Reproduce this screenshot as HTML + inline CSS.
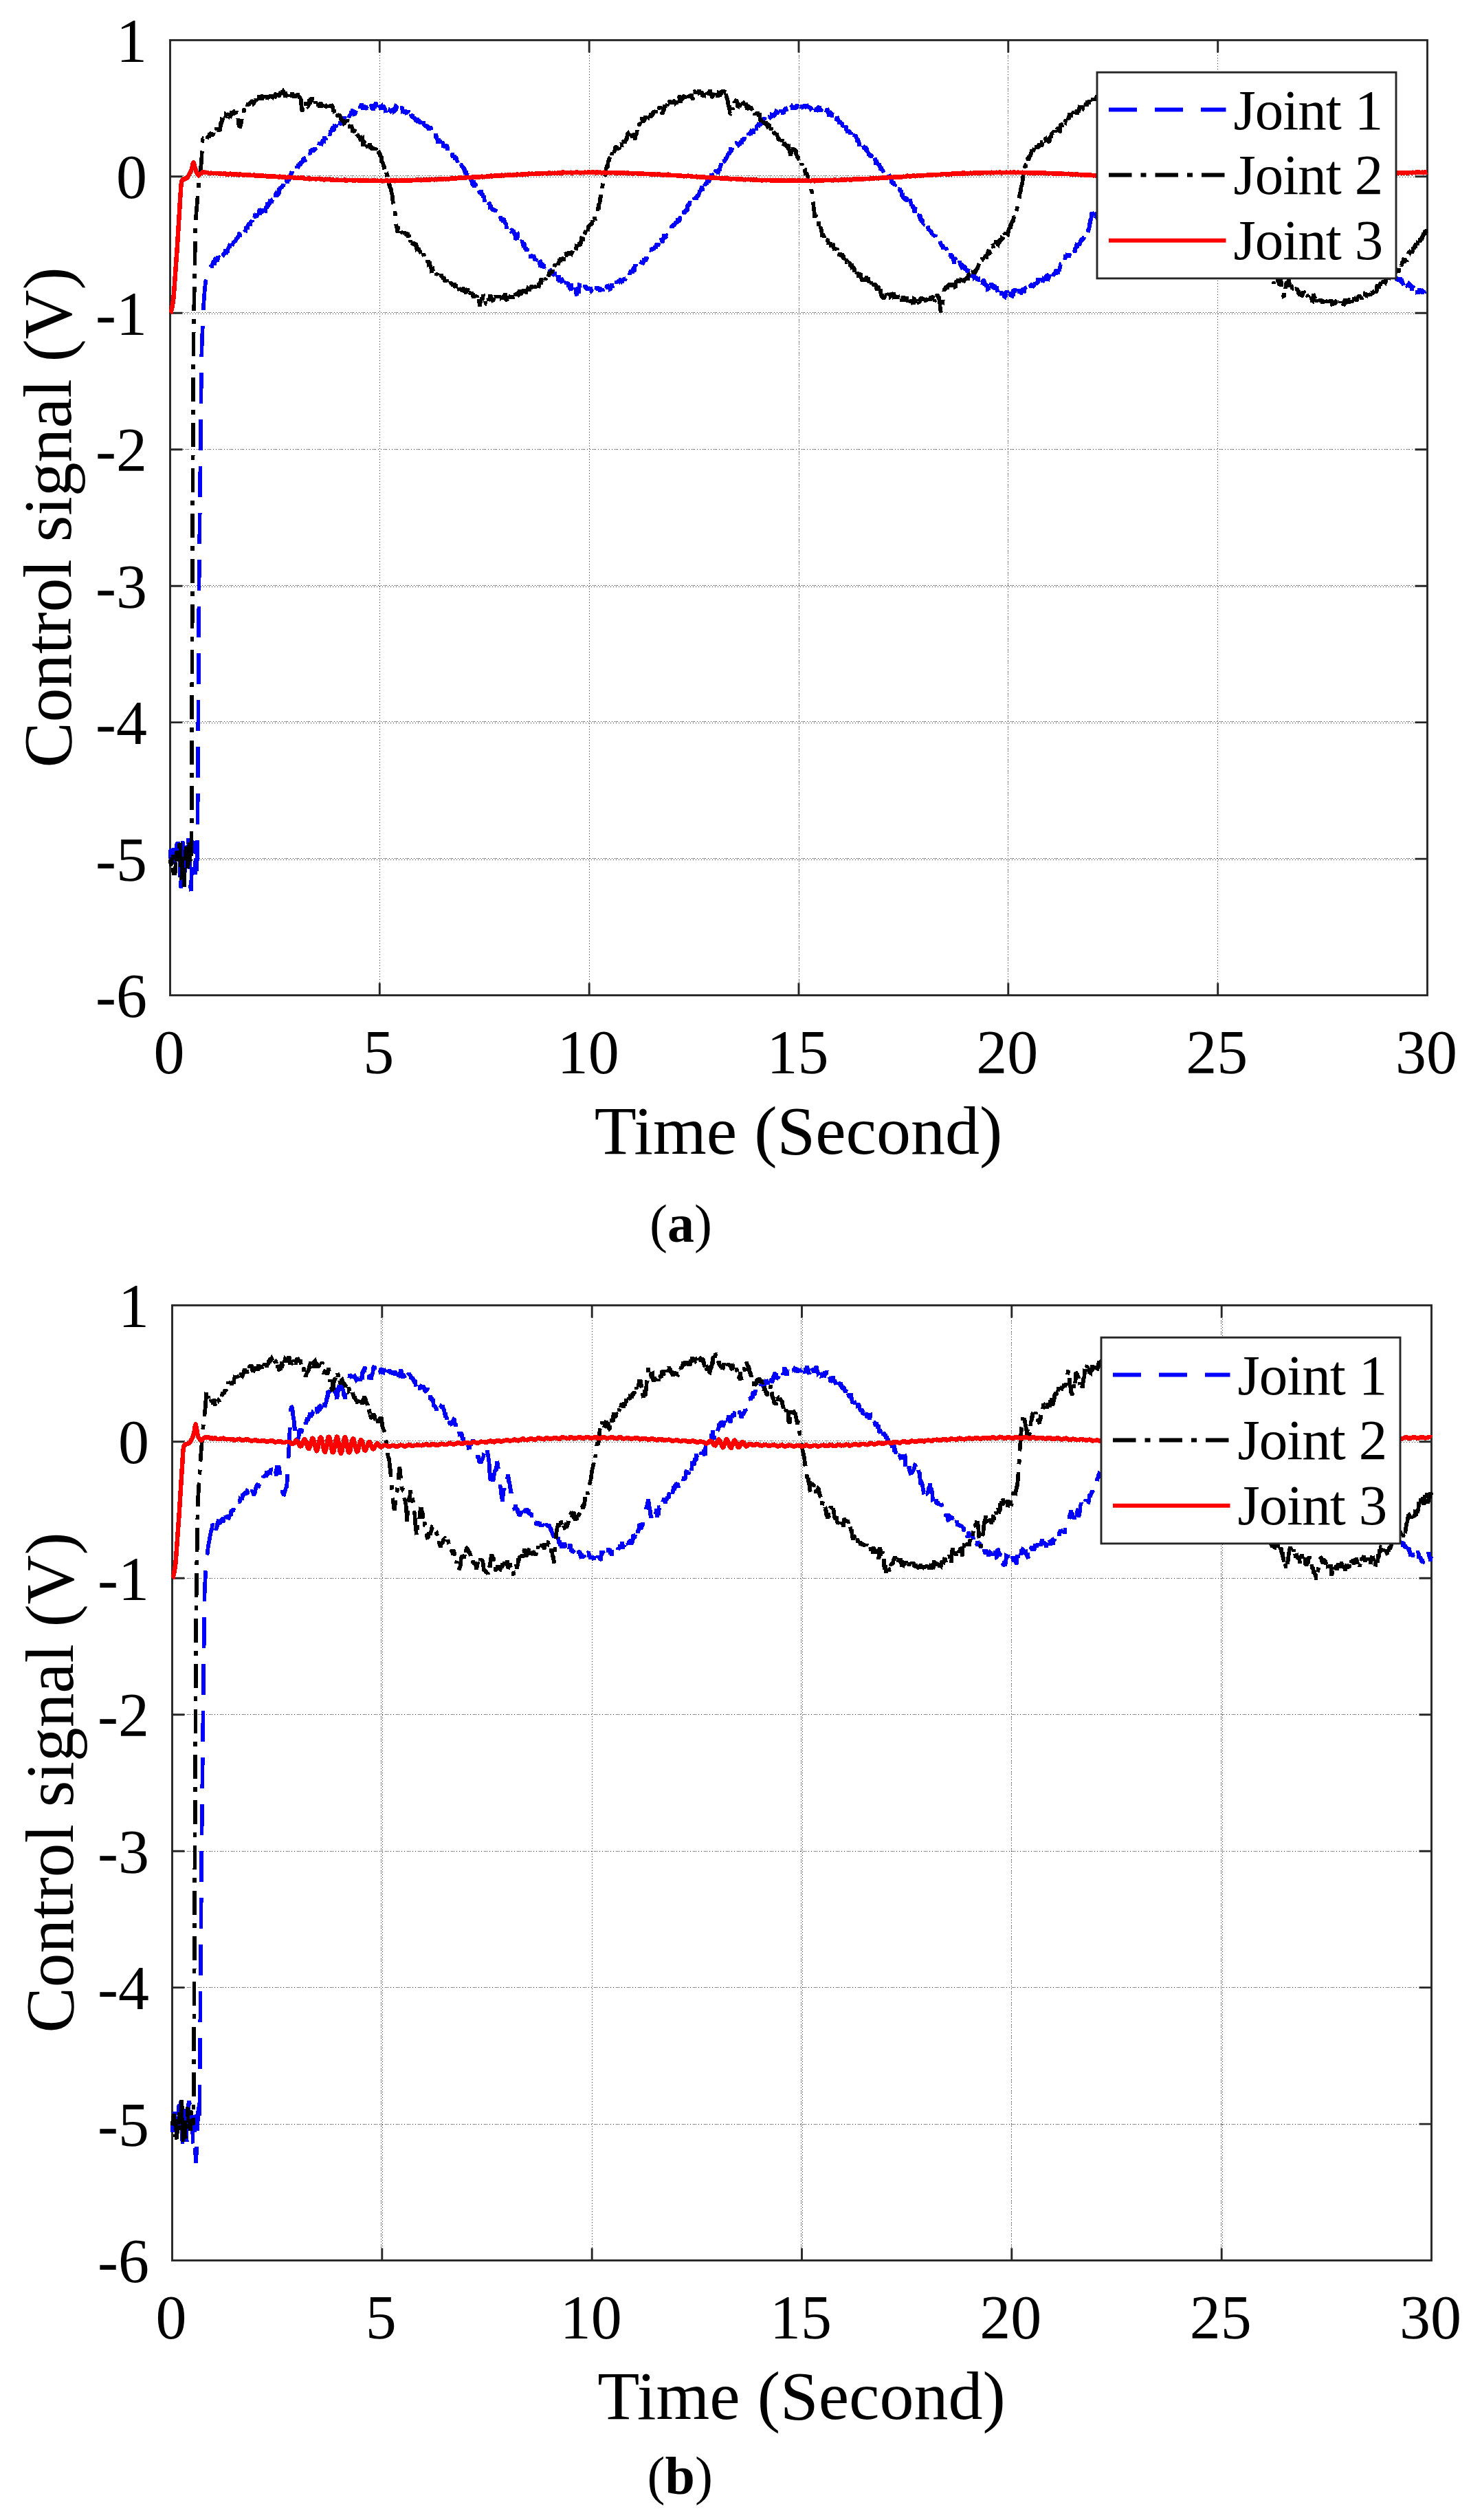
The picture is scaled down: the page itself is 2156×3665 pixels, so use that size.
<!DOCTYPE html>
<html lang="en"><head><meta charset="utf-8"><title>Control signal figure</title>
<style>html,body{margin:0;padding:0;background:#fff}body{width:2156px;height:3665px;overflow:hidden}svg{display:block}</style>
</head><body>
<svg width="2156" height="3665" viewBox="0 0 2156 3665">
<rect width="2156" height="3665" fill="#fff"/>
<g id="plot1">
<g stroke="#2e2e2e" stroke-width="1" fill="none" shape-rendering="crispEdges">
<path d="M552.5 76V1430" stroke-dasharray="1 3"/>
<path d="M857.5 76V1430" stroke-dasharray="1 3"/>
<path d="M1162.5 76V1430" stroke-dasharray="1 3 1 1 1 1 1 3 1 3"/>
<path d="M1466.5 76V1430" stroke-dasharray="1 3 1 1 1 1 1 3 1 3"/>
<path d="M1771.5 76V1430" stroke-dasharray="1 3"/>
<path d="M266 255.5H2058" stroke-dasharray="1 3 1 1 1 1 1 3 1 3"/>
<path d="M268 257.5H2058" stroke-dasharray="1 3"/>
<path d="M266 454.5H2058" stroke-dasharray="1 3 1 1 1 1 1 3 1 3"/>
<path d="M268 456.5H2058" stroke-dasharray="1 3"/>
<path d="M266 653.5H2058" stroke-dasharray="1 3 1 1 1 1 1 3 1 3"/>
<path d="M266 851.5H2058" stroke-dasharray="1 3 1 1 1 1 1 3 1 3"/>
<path d="M268 853.5H2058" stroke-dasharray="1 3"/>
<path d="M266 1049.5H2058" stroke-dasharray="1 3 1 1 1 1 1 3 1 3"/>
<path d="M268 1051.5H2058" stroke-dasharray="1 3"/>
<path d="M266 1248.5H2058" stroke-dasharray="1 3 1 1 1 1 1 3 1 3"/>
<path d="M268 1250.5H2058" stroke-dasharray="1 3"/>
</g>
<g stroke="#262626" stroke-width="2.9" fill="none">
<path d="M552.3 58.4v18M552.3 1447.5v-18M857.2 58.4v18M857.2 1447.5v-18M1162.0 58.4v18M1162.0 1447.5v-18M1466.8 58.4v18M1466.8 1447.5v-18M1771.7 58.4v18M1771.7 1447.5v-18M247.5 256.8h18M2076.5 256.8h-18M247.5 455.3h18M2076.5 455.3h-18M247.5 653.7h18M2076.5 653.7h-18M247.5 852.2h18M2076.5 852.2h-18M247.5 1050.6h18M2076.5 1050.6h-18M247.5 1249.1h18M2076.5 1249.1h-18"/>
<rect x="247.5" y="58.4" width="1829.0" height="1389.1"/>
</g>
<clipPath id="clip1"><rect x="244.5" y="58.4" width="1835.0" height="1389.1"/></clipPath>
<g clip-path="url(#clip1)" fill="none" stroke-linejoin="miter" stroke-miterlimit="2" shape-rendering="crispEdges">
<path stroke="#0000ff" stroke-width="5.7" stroke-dasharray="45 23" d="M247.5 1249.1l.5-12.7l.6 13.6l.5-16.1l.6 12.1l.5 5.6l.6 1l.5 1.8l.6-5.2l.5-16.5l.6 11.7l.5-2l.6 4.6l.5 15.1l.6-16.1l.5-3.4l.6 5.1l.5-11.4l.6-10.1l.5 .6l.6-2.1l.5 6.2l.6-13.3l.5 21.9l.6 6.7l.5-1.6l.6 13.6l.5 29.8l.6-8.9l.5 12.8l.6-26.8l.5 7.3l.6-28.1l.5-21.3l.6 11.1l.5 12.8l.6 11.2l.5 3.3l.6 8.8l.5-2.9l.5-11.1l.6-9.5l.5-9.5l.6-4.7l.5-.7l.6 .1l.5-8.9l.6-9.1l.5 1.5l.6 13.9l.5 5.4l.6 9.6l.5 24.5l.6 1.8l.5 17.9l.6 7.8l.5-13l.6-13.5l.5-11.9l.6-15.7l.5-14.6l.6-3.4l.5-1.2l.6 18.4l.5-12.2l.6 6.2l.5 36.7l.6-8.4l.5-6.3l.6-8.8l.5 21.2l.6-18.1l.5-1.4l.6-70.6l.5-89.7l.6-89l.5-89.7l.5-76l.6-50.9l.5-50.1l.6-50.9l.5-50.6l.6-50.9l.5-50.4l.6-26.4l.5-14l.6-14.2l.5-14.7l.6-12.8l.5-7.6l.6-7.6l.5-7.4l.6-7.2l.5-4.1l.6-4.8l.5-4.4l.6-4l.5-4.5l.6-3.8l.5-1l.6-1l.5-.4l.6-1l.5-.3l.6-.9l.5-.7l.6-.5l.5 1.5l.6-2l.5-2l.6 1.2l.5 .1l.6-3.9l.5 .7l.6-1.1l.5-4.2l.5 4.1l.6 2.9l.5-2.7l.6-1.8l.5-4.9l.6-.2l.5-1.1l.6 1.5l.5 1.8l.6 0l.5-3l.6 0l.5-2.3l.6 .8l.5 3.2l.6 .8l.5 .7l.6-1.4l.5-3.3l.6 3.4l.5-1.2l.6-3.9l.5-2.4l.6-.3l.5-2l.6 2.8l.5 .5l.6-.9l.5 .8l.6-1.7l.5-4.1l.6-2l.5 2.3l.6 1.3l.5 .4l.6-1.5l.5 2.3l.6-5.3l.5-1l.5 1.1l.6-3.7l.5 2.6l.6-5.3l.5-.7l.6 8.4l.5-4.8l.6-2.4l.5-3.2l.6 5.8l.5-2.3l.6-3.4l.5 1.2l.6-1.8l.5-.2l.6-1.5l.5 .9l.6-2.4l.5 2.9l.6-3.3l.5-1.4l.6-2.3l.5 1.4l.6-.5l.5-1.3l.6-.2l.5-2.6l.6 1.7l.5-4.5l.6-.7l.5 5.8l.6-2.6l.5 2.3l.6-1.8l.5 0l.6 .5l.5 1l.6-5.2l.5-4.4l.5 .1l.6 1.7l.5-.2l.6-1.8l.5 .9l.6 .4l.5 .1l.6-3.6l.5-.1l.6-.4l.5 .5l.6-.1l.5-5.2l.6 2l.5-4.3l.6 3l.5-3.8l.6 .8l.5 3.1l.6-.6l.5-5l.6 1.3l.5-1.2l.6-1.4l.5 2.7l.6-6.8l.5-.6l.6 2.8l.5-2.2l.6 5.5l.5-6.8l.6 .4l.5-.2l.6-1.7l.5 .3l.6 1.8l.5-1.1l.5-1.5l.6-2.6l.5 1.1l.6 .8l.5-2.6l.6 .6l.5-6.8l.6 2.7l.5 1.9l.6 .5l.5-2.3l.6 .4l.5-3.4l.6 6.2l.5-6.2l.6 2.4l.5-2.3l.6-3.1l.5 4.9l.6-.1l.5-2.6l.6 4.2l.5 .1l.6-4.5l.5-2.7l.6 3.6l.5-2.5l.6-6.6l.5 5.8l.6-.5l.5-.8l.6-1.8l.5 .7l.6-4.5l.5 .2l.6-2l.5 .7l.6-.4l.5 .9l.5 .2l.6-2.8l.5 2.7l.6-2l.5 0l.6-.1l.5-5.2l.6 3l.5-2.4l.6 3.6l.5-7.1l.6-1l.5 .7l.6 1.8l.5-4.9l.6 3l.5 .9l.6-.6l.5-4.1l.6 .4l.5-3.2l.6-.4l.5-3.2l.6 1.3l.5-.3l.6-.5l.5-.1l.6-.6l.5-1l.6-2.5l.5 2.9l.6-2.2l.5-2.9l.6 5.9l.5-4.2l.6-.5l.5-2.6l.6 2.1l.5 .4l.5-6.3l.6 6.2l.5-3.2l.6-1.1l.5 .2l.6 1l.5-4.9l.6 2.6l.5-2.6l.6-2.1l.5 .1l.6-4.8l.5 2.1l.6-5l.5 2.9l.6-3.7l.5 1.4l.6 .5l.5-.6l.6-3l.5 2.3l.6-1.7l.5 .7l.6 1.3l.5-5.6l.6-.9l.5 2.8l.6-4l.5 .6l.6 2.5l.5-2.6l.6 .3l.5-1.4l.6 .5l.5-5.3l.6 2.4l.5 1.5l.6 .8l.5-6.1l.5 1.2l.6-.7l.5 .3l.6-.6l.5-1.6l.6-2.1l.5-.7l.6-.2l.5 1.6l.6 2.2l.5 .5l.6-2.4l.5-1l.6-6.1l.5 .1l.6-.6l.5 5.1l.6-1.7l.5-1.5l.6 1.4l.5-.8l.6-2.2l.5-1.2l.6 1l.5-4.6l.6-2.8l.5 2.6l.6 .9l.5-1.1l.6-4.2l.5 1.9l.6-1.1l.5 3.7l.6 .9l.5-4.5l.6 2.8l.5-5.1l.5 3.8l.6-8.8l.5 2.2l.6 2.5l.5 .8l.6-.9l.5 1.5l.6-3.3l.5 2l.6-3.1l.5-.6l.6-4.1l.5 2.7l.6-.7l.5-1l.6 4.6l.5-1.3l.6-1.6l.5-2.2l.6-2.2l.5 1.3l.6-3.3l.5 2.4l.6 .3l.5-6.4l.6 2.3l.5 .4l.6 2.2l.5-2l.6-4.6l.5 2.8l.6-5.5l.5 3.6l.6-2.7l.5 1.5l.6 .1l.5-.6l.6-.9l.5 1.2l.5-.8l.6-3.6l.5-2.2l.6 1.5l.5-1.9l.6 1.2l.5-4.4l.6-.4l.5 5.3l.6-2.9l.5 .2l.6 1.6l.5-6.1l.6 .3l.5 1.1l.6-2.7l.5 1.8l.6-1.9l.5-2.6l.6 2.7l.5-4.1l.6 1.9l.5-3.5l.6-1.5l.5 7.4l.6-.8l.5-1.8l.6-3.3l.5 1.8l.6 .1l.5-1.9l.6-2.8l.5 7.9l.6-3.1l.5-3.3l.6 2.1l.5-4.6l.6-2.7l.5 3.4l.5-6.6l.6 3.6l.5 1.1l.6-1.3l.5-.2l.6-1.2l.5 1.3l.6-2.3l.5 2.3l.6-4.1l.5 4.2l.6-1.2l.5-.4l.6-1.8l.5 1.3l.6-3.6l.5 3.1l.6-4.7l.5-.1l.6 .2l.5-3l.6-.3l.5-.4l.6 4.8l.5-3.5l.6 5l.5-.2l.6 .9l.5-1.9l.6-2.2l.5-1.8l.6-.9l.5 4.7l.6-3.9l.5-1.9l.6-.1l.5-.4l.5 4.4l.6-3.2l.5-1.7l.6 .3l.5-4l.6 .9l.5-1.5l.6-3.5l.5 6.9l.6-1.3l.5-1.4l.6 4.9l.5-3.7l.6 .1l.5-1.9l.6 2.6l.5-.9l.6 .5l.5-1.8l.6 .9l.5 2.2l.6-.9l.5 1.4l.6 1l.5-2.2l.6 .2l.5-1.8l.6-1.5l.5-1.1l.6 4l.5-5.7l.6 1.2l.5 4.5l.6-1.3l.5-4l.6 6.3l.5 .2l.6-2.1l.5 5.8l.5-5l.6-1.7l.5 .8l.6 .3l.5 1.4l.6-3.3l.5-5.5l.6 4.8l.5-2.1l.6 4.7l.5-2.8l.6-.2l.5 .4l.6 5l.5-3.3l.6-3.5l.5 1.9l.6 3.7l.5-2.9l.6 5.4l.5-4.4l.6-.5l.5 2l.6 1l.5 1.4l.6-2.6l.5-3.5l.6 1.9l.5 1l.6 .9l.5 3.1l.6-1.9l.5 6.7l.6-6.4l.5 .1l.6-.5l.5 .4l.6 3.1l.5 2.5l.5-2.7l.6 2.4l.5-3.2l.6 1.6l.5-1.2l.6 .7l.5 .4l.6-1.6l.5 2.8l.6-2.7l.5-1l.6 1.2l.5-.3l.6-2.3l.5 1.2l.6-.5l.5 3.7l.6-.4l.5-4.7l.6-.3l.5 5l.6-7.2l.5 .3l.6 4.4l.5-4.6l.6 2.9l.5 .3l.6 1.6l.5-.4l.6-.9l.5-.7l.6 2.2l.5-2l.6 1.1l.5-1l.6 1.1l.5-.1l.6-3.9l.5 7.1l.5-.2l.6-1.9l.5 1.2l.6 3.8l.5-2.3l.6 3.3l.5-1.8l.6-2.9l.5 1.1l.6 2l.5-.2l.6-2.3l.5-.5l.6 3.3l.5-3.8l.6 5.2l.5-1.7l.6 2.3l.5 0l.6 6l.5-4.4l.6-3.9l.5 3.1l.6 2.7l.5-1.8l.6 1.5l.5-.2l.6 3.3l.5-2l.6-1.5l.5 2.8l.6 .2l.5 2.5l.6-1.9l.5 2.1l.6 .4l.5-1.4l.5 0l.6-1.1l.5-.7l.6 2.6l.5 .6l.6-1.5l.5 3.4l.6-.6l.5 .2l.6 .3l.5 4l.6-3.7l.5 1.7l.6 2.5l.5 1l.6-1.3l.5-1.6l.6 5.2l.5-9l.6 5.3l.5 .4l.6-.9l.5 3.4l.6-2.4l.5 .6l.6-.9l.5 4.1l.6-2.7l.5-.6l.6 2.1l.5 1.8l.6 1l.5 2.2l.6-1.8l.5-2.1l.6-1.4l.5 1.3l.6 .1l.5 4l.5 .4l.6 2.5l.5-1.2l.6 3.9l.5-1.2l.6-1.3l.5 1.9l.6-.5l.5-1.3l.6-.9l.5 1.4l.6 7.2l.5-5.9l.6 4.8l.5 2.5l.6 1.3l.5-1.9l.6 7.5l.5-6.8l.6 1.6l.5 0l.6 4.3l.5-.9l.6-4.3l.5-3.7l.6 4.4l.5-1.6l.6 7.7l.5 2.6l.6-4.2l.5 .1l.6 1.8l.5 4.6l.6-.5l.5-.6l.6-1.3l.5 .9l.6-3.4l.5 5.9l.5-5.2l.6 3.3l.5-3l.6 3.8l.5 4.5l.6-2.6l.5 2l.6 1.4l.5-.3l.6 1.4l.5-1.5l.6 1l.5-.8l.6 5.1l.5-3.4l.6 2.3l.5 4.1l.6-4.9l.5 7l.6-3.6l.5 3l.6-3.3l.5 1.9l.6 .6l.5 4.5l.6-1.4l.5-3l.6 1.8l.5 3.4l.6 .8l.5 1.7l.6-3.2l.5 1.9l.6-1.4l.5 5.6l.6 .9l.5-5.1l.6 4.9l.5-.5l.5-.6l.6 1.9l.5 1.3l.6 .8l.5-1.3l.6 2.6l.5-.5l.6 2.3l.5 .5l.6-2.5l.5 4.8l.6 5l.5-4.2l.6 2l.5-2.4l.6 4.9l.5 2.2l.6-4.6l.5-2.5l.6 4.8l.5-2.3l.6 4.3l.5 .4l.6 3.6l.5-1l.6 3.1l.5-.8l.6 2.1l.5-2.7l.6 5.6l.5 .2l.6 4.6l.5-1.5l.6-6.4l.5 6.2l.6 3.1l.5-2.3l.5-3.2l.6 1.3l.5 .4l.6 1.1l.5 2.3l.6 4.9l.5-2l.6-.4l.5 1.6l.6-5.2l.5 5l.6 1l.5 3l.6-1.8l.5 5.3l.6-3.4l.5-3.7l.6 4.3l.5-.1l.6 4.1l.5-2.7l.6 3.8l.5 .1l.6-.1l.5-.6l.6 5.5l.5 3.4l.6-3.2l.5-1.2l.6 .9l.5 1.6l.6-1.5l.5 1l.6 .7l.5 3.1l.6 2.6l.5-5.2l.6 5.4l.5-3.4l.5 .8l.6 5.4l.5-.3l.6-1.4l.5-.4l.6 4.8l.5-.6l.6 2.1l.5 1l.6-3.3l.5 1.8l.6 3.6l.5-4l.6 1.1l.5 .7l.6 2.5l.5-3.3l.6 2.7l.5 .7l.6 1.4l.5-.2l.6 .4l.5 3.3l.6 .6l.5 2l.6-3.3l.5 2.4l.6 1.6l.5-2.9l.6 3.7l.5 2l.6 .4l.5 .3l.6 1.1l.5-4.2l.6 2.3l.5 4.4l.6-6.4l.5 3.6l.5-.6l.6 1.9l.5 2.4l.6 .7l.5 0l.6 .5l.5 6.8l.6-3.3l.5-.2l.6 1l.5 4.4l.6-1.3l.5 .3l.6 4.2l.5-2.5l.6-2.4l.5 3.5l.6-.5l.5 .8l.6-.3l.5 .2l.6 .1l.5-1.1l.6 .5l.5 1.3l.6 0l.5 3.3l.6-1l.5 .7l.6 4.6l.5 3.7l.6-4.4l.5 2.4l.6 2.6l.5-8l.6-.4l.5 5.7l.6 .2l.5 5.4l.5 .8l.6-.6l.5 2.6l.6-4.9l.5 1.3l.6-2l.5 2.8l.6-1.5l.5-.5l.6 2.5l.5 .4l.6 3.5l.5-.3l.6-3.6l.5 2.4l.6 4.5l.5 1.4l.6 .2l.5-1.7l.6 6.4l.5-3.7l.6 3.7l.5-4.6l.6 6.4l.5-3.8l.6 2.9l.5 .1l.6-4.2l.5 3.8l.6-.7l.5 1.2l.6 8.5l.5-1.4l.6-1.3l.5 1.8l.6-1.9l.5 2.3l.5-3.8l.6 4.5l.5-4.9l.6 3.6l.5-.5l.6 4.6l.5-1.2l.6 2.6l.5-1.5l.6-1.6l.5 4.2l.6 .7l.5-.8l.6 4.6l.5-4.4l.6 1.9l.5-2.7l.6 4l.5-3.1l.6-.3l.5 8.5l.6-3.2l.5 .8l.6-4.8l.5 4.5l.6-2.3l.5 .2l.6 2.9l.5 1.7l.6-4.5l.5 5.9l.6-1.1l.5-1.6l.6 3.3l.5 4.2l.6 1.9l.5-2.3l.6 3l.5-.5l.5-1.7l.6 .5l.5 2.3l.6-1.1l.5-1.6l.6 .8l.5-2.4l.6-.4l.5 2l.6 4.8l.5-3.9l.6-3.1l.5 3.2l.6-2.8l.5 4.9l.6 .3l.5-.7l.6-1.3l.5 3.8l.6-6.2l.5 4.8l.6 3.2l.5-2.9l.6-1.6l.5 3.7l.6-3.4l.5 3.9l.6-2.3l.5 8.3l.6-8.3l.5 8.8l.6-1l.5 2.6l.6-2.5l.5 1.4l.6-1.1l.5-1.4l.6-.3l.5 2.9l.5-.1l.6 6l.5-1l.6 .8l.5-7.2l.6-.6l.5 2.9l.6 .7l.5 2.8l.6-3.4l.5-.6l.6 3.6l.5-2.5l.6 .7l.5-.5l.6-.6l.5 7.2l.6-3l.5-2.4l.6 3.6l.5-.4l.6 0l.5 4.9l.6-.1l.5-7.9l.6 6l.5-.9l.6 1.4l.5-3.4l.6-.3l.5 0l.6 .7l.5 2.4l.6-4.8l.5 4.1l.6 3.1l.5 2.5l.5 5.5l.6 1l.5-2.5l.6-4l.5 2.4l.6-3l.5 4.3l.6-5.8l.5-6.6l.6 .2l.5 4.2l.6 3.4l.5 1l.6-.3l.5-1.1l.6 2.8l.5-3l.6 .2l.5 2.1l.6-.2l.5-.2l.6-1.2l.5-.5l.6-7.3l.5 4.6l.6-2.6l.5-.7l.6 4.6l.5-.9l.6 2.5l.5-3.1l.6-1.4l.5 3.7l.6-2.1l.5 1.2l.6 .2l.5 1.4l.6-.8l.5-3.4l.5 3.2l.6 1.7l.5-.5l.6-2.4l.5 .8l.6-2.9l.5 .3l.6 .8l.5-2.3l.6 5.7l.5-1.6l.6-.8l.5-1l.6 3.3l.5-1.6l.6-3.7l.5 4.4l.6-2.7l.5 2.2l.6 .9l.5-2.8l.6-1.6l.5 2.5l.6 2.4l.5 .1l.6-.7l.5-.4l.6 1.2l.5-1.9l.6 3.3l.5-4.1l.6 3.9l.5-5.9l.6-4.2l.5 .7l.6 2l.5 4.4l.6-.9l.5-.6l.5-.5l.6-4l.5 3.6l.6-1.8l.5-.2l.6 4.8l.5-5l.6-1.2l.5 3l.6 2.7l.5-2.1l.6-3.6l.5 5.5l.6-.3l.5-3.1l.6-2.2l.5-.9l.6 1.3l.5 6.3l.6-3.7l.5 .4l.6-2.3l.5-3.6l.6 .4l.5 1.9l.6-2.8l.5-.3l.6-2.3l.5 3.3l.6-3.3l.5 2.3l.6-2.5l.5 .7l.6-.4l.5 .3l.6-3.2l.5 3.9l.6-.7l.5-.9l.5-2.3l.6-.7l.5 2.3l.6 .9l.5-.8l.6 .3l.5-2.1l.6 .7l.5-.7l.6-.2l.5 2.6l.6-2.6l.5 2.5l.6-2.2l.5-2.9l.6 1.7l.5-4.9l.6 2.1l.5-1.3l.6-4.5l.5 .3l.6-.8l.5 3.4l.6-.3l.5-1.4l.6 2.2l.5-4.4l.6-.4l.5-2l.6 1.5l.5-.4l.6 3.2l.5-1.8l.6-3.4l.5-1l.6 .5l.5 3.9l.5-1.4l.6-5.6l.5-4l.6 2.9l.5-2.1l.6 1.7l.5-.5l.6 .6l.5-1.4l.6-3.3l.5 .7l.6-.2l.5-2.1l.6-.4l.5-2.4l.6 6.1l.5-3.2l.6 1l.5 1.6l.6-2l.5 .1l.6 3.1l.5-1.3l.6-2.9l.5 2.5l.6-5.2l.5-1.4l.6 1l.5-.1l.6 2.7l.5-2.1l.6-4.6l.5 5.1l.6-4.2l.5 2.7l.6-.6l.5-3.7l.6-5.7l.5-.8l.5 .6l.6-2.2l.5 3l.6-2.4l.5-1.7l.6 1.2l.5 1.1l.6-5.3l.5 2.9l.6 .8l.5-2.6l.6-1.8l.5 .7l.6 2.7l.5-2.8l.6-1l.5-1.2l.6 3.3l.5-1.6l.6-3.3l.5-.2l.6-1.4l.5-1.4l.6 4.1l.5-1l.6-1.6l.5-4.3l.6 2.7l.5-2.8l.6 5.7l.5-6.5l.6-1.8l.5-1.5l.6 3.3l.5-.5l.6 4.7l.5-4.8l.6-1l.5-2.6l.5 1.8l.6-7.2l.5 2.8l.6 4.8l.5-3.7l.6 2.3l.5-2.8l.6-.5l.5 1.6l.6-6.1l.5 2l.6-2.1l.5-1l.6 0l.5 .4l.6 .5l.5-1.3l.6-.1l.5 .3l.6-4.2l.5-3.5l.6-.3l.5 1.9l.6-2.5l.5-.7l.6-.9l.5 .2l.6 .7l.5 .7l.6-2.7l.5-.6l.6-1.3l.5-.8l.6-.7l.5 1.7l.6-1.1l.5-3.2l.6 .1l.5-2.9l.5 5.5l.6-.9l.5 1l.6-3l.5-2.9l.6-3.5l.5 1.3l.6-3.1l.5 2.3l.6 .9l.5-5.6l.6 .4l.5-1.6l.6 3.5l.5 1.3l.6-6.8l.5 3.5l.6 1l.5-5.7l.6 3.2l.5-1l.6-2.9l.5 1l.6 0l.5-6l.6 0l.5-.2l.6-.8l.5 1.9l.6-4.4l.5-2.9l.6 2.3l.5-.2l.6-1.9l.5 3.4l.6 .2l.5 1l.5-1.6l.6-2.9l.5 1l.6-4.3l.5 2.7l.6-5l.5 2.9l.6-1.3l.5-1l.6-.2l.5-1l.6-.9l.5 .5l.6-1.8l.5 1.6l.6-1.3l.5 .4l.6-4.7l.5 2.1l.6-4.6l.5-.2l.6-.8l.5-.1l.6-2.7l.5-.6l.6-2.9l.5 2.7l.6 4.8l.5 .8l.6-7l.5 4.6l.6-9l.5-.7l.6 2.9l.5-1.8l.6-1.9l.5 .6l.6 1.7l.5-3.3l.5-4.8l.6 1.4l.5-1l.6-2l.5-.5l.6 3.3l.5 .5l.6-1.6l.5-.7l.6 1l.5-2.9l.6 .8l.5-6.6l.6 1.8l.5 4l.6-3.6l.5 4.1l.6 1.1l.5-.2l.6-1.1l.5-7.4l.6-3.4l.5 1.3l.6 .2l.5-1.7l.6 3l.5-3.3l.6 1.6l.5 1.4l.6-.5l.5 .5l.6-1.7l.5-3.2l.6 4.1l.5-6.5l.6 1.5l.5-6.8l.6 3.1l.5-3.6l.5 .9l.6-2l.5 3.9l.6-3.8l.5 2.7l.6-7.6l.5 2.6l.6 .7l.5-.4l.6-1.1l.5-4.8l.6 4.5l.5-1.9l.6-1.5l.5-1.1l.6-1.2l.5-3.5l.6 .8l.5 1.5l.6-5l.5 1.3l.6 .1l.5-1.6l.6-3.4l.5 .1l.6 .9l.5 .2l.6-2l.5 1.8l.6 1.2l.5-2.5l.6-3.6l.5 2.6l.6 0l.5-4.2l.6-.6l.5-.5l.6 3l.5-2.9l.5-2.1l.6 .1l.5 2.1l.6-.8l.5 .5l.6-.9l.5 1.2l.6-.5l.5 1.9l.6-3.4l.5-1.4l.6-2.6l.5 3l.6-2l.5 3.9l.6-6.2l.5-.1l.6-1l.5 1.4l.6-.5l.5-.3l.6-3l.5 5.6l.6-2.2l.5-1.8l.6 1.3l.5-1l.6-1.7l.5-1.7l.6-2.8l.5 1.9l.6 2.6l.5-6.4l.6 1.3l.5-1.4l.6 .8l.5-.7l.5 3l.6-7.3l.5 2.5l.6-3.8l.5 4.2l.6-2.9l.5 2l.6 3.5l.5-5.1l.6-.8l.5-.6l.6 1.7l.5-6.8l.6 4.8l.5-3.3l.6 5.9l.5-6.3l.6-.8l.5 .5l.6-3l.5 2.9l.6-2l.5 .4l.6-1.2l.5 1.8l.6-1.6l.5-.4l.6-.1l.5-.5l.6-2.5l.5 .1l.6-1.1l.5-1.4l.6 1.6l.5-2.4l.6-3.4l.5 1.2l.6 2.6l.5-4.4l.5 5.1l.6-3.1l.5 .7l.6 .5l.5 .3l.6 2.2l.5-.6l.6-4.3l.5 .1l.6-2.9l.5 .6l.6 .7l.5-1.4l.6 2.1l.5 .1l.6-.9l.5-.1l.6-4l.5-1.2l.6 3.8l.5 .1l.6-3.7l.5 .8l.6 4l.5-1.3l.6-.2l.5-1.2l.6-1.7l.5 1l.6-4.1l.5 .3l.6 3.8l.5-2.2l.6-.3l.5-6.1l.6 3.6l.5-3.1l.6-1.6l.5 7.3l.5-2.8l.6 .5l.5-1.7l.6 4.1l.5-2.1l.6 2.2l.5-4.7l.6 7.5l.5-4.1l.6 2.9l.5-1.8l.6-1.3l.5-1.9l.6-1.2l.5-1.3l.6-.2l.5 2.3l.6 1.9l.5-4.6l.6 3.8l.5-2.6l.6 1.1l.5-.3l.6-.2l.5 2.2l.6-2.1l.5-.3l.6-6.4l.5-.3l.6 .4l.5 1.1l.6 .3l.5 1.3l.6 4.1l.5-3l.6-2.5l.5 2.4l.5-2.2l.6 1l.5 3.4l.6-1.9l.5 1.2l.6 1.1l.5-5l.6 3.4l.5-5.7l.6 2.7l.5-3l.6-1.7l.5 0l.6 2.2l.5 2.7l.6-1.3l.5-1l.6 4.1l.5-4l.6 2.6l.5-.2l.6-1.5l.5 1.1l.6 1.7l.5-.2l.6-1.5l.5 2.1l.6-2.9l.5 2.6l.6-4.8l.5 2.2l.6-1l.5 2.2l.6-2.7l.5 2.9l.6-.3l.5 1.2l.6-.8l.5 .7l.5-1.3l.6 1.8l.5 .1l.6-.1l.5 .2l.6 .4l.5 1.4l.6-.5l.5-2.2l.6 1.6l.5-.3l.6 2.4l.5-3.6l.6 3.2l.5-1.4l.6-2.3l.5-2.2l.6 5.3l.5 1l.6-.4l.5 4.2l.6-3.1l.5 .1l.6-2.9l.5-1.6l.6 4l.5-3.4l.6-1l.5-.5l.6 5.4l.5-1.3l.6-1.7l.5 5.7l.6-3.8l.5 1.6l.6-3.4l.5 4.4l.6-.3l.5-.8l.5 .4l.6-.2l.5 3.2l.6-1.9l.5-1.8l.6 2.2l.5 .5l.6 1.8l.5-2.6l.6-.4l.5-3.7l.6 .9l.5 5.7l.6-.8l.5 2.4l.6 3l.5-4.4l.6-.4l.5 2.8l.6-3.6l.5 .5l.6 .7l.5 5.5l.6-3.1l.5-5.7l.6 3.4l.5-.2l.6-2l.5 2.4l.6 2.9l.5 1.7l.6 1.9l.5 3.1l.6 0l.5-1.8l.6 2.2l.5-6.2l.6 5.6l.5 .2l.5-1.6l.6 1.6l.5 .7l.6 2.8l.5-.1l.6-2.9l.5 3.1l.6 .7l.5-1.6l.6 2.5l.5 1.3l.6-2.6l.5 6.3l.6-.8l.5 2.4l.6-2.5l.5 4.2l.6-4.9l.5 2.6l.6-5.1l.5 4.9l.6-2.7l.5 6l.6 .4l.5-1.2l.6 5.4l.5-.9l.6-4l.5 1.3l.6 2.2l.5-1.9l.6 1.8l.5 .6l.6 3l.5-3l.6 3.4l.5-3.3l.5 2.6l.6-6.1l.5 6.5l.6 1.9l.5 .3l.6-2.3l.5 .8l.6 2.4l.5-1.9l.6-1.6l.5 4l.6-.6l.5 2l.6 .6l.5 5.5l.6-5.6l.5 4.7l.6 .2l.5-1.5l.6 7.9l.5-8.5l.6 1.6l.5-2l.6 3l.5-1.6l.6 1.1l.5 5l.6-1.5l.5 1.1l.6-.6l.5 2.2l.6 1.9l.5-.3l.6 1l.5-.8l.6-1.6l.5 4.6l.6 .4l.5-2l.5 1.1l.6 4.9l.5-2.3l.6 3.5l.5-.6l.6 2l.5 0l.6 1l.5-.3l.6 .3l.5-1.7l.6 2.1l.5 4.2l.6-6.2l.5 2.6l.6 3.5l.5 .3l.6 1.8l.5 .5l.6 .2l.5 4.2l.6-3.4l.5-3.8l.6 7.9l.5 0l.6-3.3l.5 .2l.6 2.4l.5-.7l.6 2.1l.5 2.1l.6-.8l.5 1.2l.6-.9l.5 .1l.6 3.7l.5-.8l.6 4.9l.5-.6l.5-.2l.6-.3l.5 1.9l.6-2l.5 2.1l.6 1l.5 .9l.6 1.4l.5-1.1l.6 3.7l.5-3.9l.6 2.6l.5-3l.6 4.3l.5-.5l.6 0l.5 .6l.6-.8l.5 1.1l.6 4.1l.5 1.2l.6-2.8l.5-.4l.6 1.7l.5 .4l.6-.9l.5 2.9l.6 6.2l.5-1.8l.6 .2l.5 2.9l.6-3.3l.5 .5l.6 3.2l.5-1.7l.6 3.9l.5-2.5l.6 1.7l.5 .9l.5 0l.6 2.6l.5-2.4l.6 4.4l.5-1.1l.6 3.2l.5 .7l.6-4.5l.5 .6l.6-1.4l.5 3.4l.6 1.4l.5 .6l.6-2.3l.5 4.1l.6 4.5l.5 1.2l.6-1.4l.5-.3l.6 3.5l.5 .6l.6 .2l.5-1.2l.6 .1l.5 3.1l.6 .7l.5-3.3l.6-1.6l.5 2.8l.6 2.6l.5 .6l.6-4.3l.5 5.1l.6 .3l.5-4.2l.6 5.8l.5-.7l.5-4.8l.6 5.4l.5-1.5l.6 3.8l.5 2.3l.6-2l.5 1.5l.6-.9l.5 5.1l.6-2.9l.5 4.5l.6-.2l.5 1.8l.6 3.1l.5-7.6l.6 1.6l.5 .8l.6 1.4l.5 2.9l.6 2.5l.5 3.1l.6 .5l.5-4.4l.6 4.8l.5-2.2l.6-1.9l.5 6.6l.6-4.4l.5 7.5l.6-3.6l.5 6.2l.6-3.4l.5-1.6l.6 4.5l.5 1.5l.6 .5l.5-2.6l.6 .3l.5 2.9l.5 2.4l.6 1.8l.5 .2l.6-2.1l.5 1.8l.6-4.3l.5 .3l.6 2.3l.5-.1l.6 5.1l.5 3l.6-3.3l.5 1.6l.6 2.3l.5-2.2l.6 2.4l.5-1.4l.6 1.1l.5 3.1l.6 .2l.5 1.7l.6-1l.5 1.5l.6 1.1l.5-2l.6 1.9l.5 .6l.6 .7l.5-3.3l.6 4.1l.5 1.7l.6-1l.5 2.5l.6-2.4l.5 .6l.6 4.4l.5-1.8l.6 1.3l.5 .1l.5 1.9l.6-2.7l.5 2.4l.6 2.9l.5 .8l.6-1.3l.5 3.7l.6-2.9l.5 3.7l.6 3.2l.5-4l.6 2.9l.5-.5l.6 1l.5-1.6l.6 2.6l.5-3.5l.6 3.9l.5-1.1l.6 1.9l.5 1.5l.6-3.5l.5 6.1l.6-1.5l.5 .5l.6-.9l.5 3l.6 0l.5 4.7l.6-4.9l.5 2.8l.6 .2l.5 3.6l.6-4.6l.5 1.3l.6 3.3l.5 1.9l.5 1.5l.6-1.6l.5 6.4l.6-8.2l.5 .4l.6-.5l.5 4l.6-1.9l.5 1.2l.6-3.1l.5 1.5l.6 3l.5 1l.6 .8l.5 4l.6-3.9l.5-2.3l.6 2.4l.5 3l.6 1.1l.5-.3l.6 .1l.5-.2l.6 3l.5-.3l.6-.7l.5 1.3l.6 1.2l.5-5.2l.6 4.6l.5 1.3l.6-.2l.5-.1l.6 2.1l.5-1l.6 2.2l.5 .4l.6 2.2l.5-3.5l.5-.4l.6-2.2l.5 4l.6-2.2l.5 4l.6-2.4l.5 3.5l.6-2.1l.5 7l.6-.6l.5 .6l.6-2.4l.5 2.1l.6-1.2l.5-2.1l.6 .9l.5 4.5l.6-.4l.5 1.6l.6-1.3l.5-2.3l.6 4.4l.5-3.7l.6 4.1l.5 1.7l.6-1.9l.5 .4l.6-.4l.5 2.7l.6-1.6l.5 1.3l.6-2.7l.5 3.3l.6 1.6l.5 1.1l.6-1.5l.5-2.1l.6 7.1l.5-1.6l.5-3.1l.6-4.8l.5 2.6l.6 .1l.5 .9l.6 5.7l.5-.8l.6-1.2l.5 .7l.6 3.6l.5-2l.6 1.1l.5-3.1l.6 7.6l.5-.1l.6 .7l.5-8.7l.6-.3l.5 3.9l.6-1.9l.5 5.3l.6-4.3l.5-4.4l.6 4.9l.5 2.5l.6-1.1l.5 .2l.6-.4l.5 .3l.6-1.2l.5 2.2l.6-2.4l.5 .3l.6 5.2l.5-3.6l.6 1.6l.5-3.2l.6 4.4l.5 2.4l.5 .8l.6-4.7l.5 2.1l.6 1.4l.5-.2l.6 4.4l.5-6.6l.6 2.7l.5 .2l.6-1.7l.5 3.5l.6 4.2l.5-3.8l.6 1.9l.5-2.6l.6 2.2l.5-.5l.6 3.2l.5 1.6l.6 .4l.5-2.8l.6 2.2l.5-2.9l.6-4.8l.5 2.2l.6-3l.5 2.7l.6 .2l.5-1l.6-2.1l.5 5.9l.6-5.4l.5 5.3l.6-4.3l.5 3.6l.6-.4l.5-2.3l.5 .6l.6 5l.5 .2l.6-1.5l.5 1.5l.6-10.6l.5 2l.6 .4l.5 2.7l.6-5.7l.5 4.7l.6 1.8l.5 .4l.6 1.3l.5-3.6l.6 2.5l.5-1.1l.6-3.6l.5 2.9l.6 .7l.5-5l.6 5.9l.5-5.3l.6 4.1l.5-1.5l.6 2l.5 .1l.6-1.7l.5-2.5l.6-.8l.5 1.8l.6 1.2l.5-5.9l.6 4.3l.5 .4l.6-3.2l.5-.3l.6 1.1l.5 2l.5 2.2l.6-4.9l.5-.6l.6-.2l.5 1.3l.6-2.9l.5 1.5l.6-.6l.5-2.1l.6 2.5l.5-2.3l.6-.3l.5 2.2l.6-2.6l.5-1.1l.6 .1l.5 2.3l.6 .9l.5-2.1l.6 .5l.5-.6l.6-2.7l.5 1.1l.6-2.8l.5 1.2l.6-1.3l.5 3.3l.6-1.4l.5-1.1l.6 .6l.5-3.9l.6 .3l.5-4.2l.6 7.3l.5-2.9l.6 1l.5 2l.6-1.2l.5 2.7l.5-4.3l.6-.5l.5 .3l.6-4.6l.5 5.9l.6-1l.5-1.9l.6-2.2l.5 .2l.6 2.6l.5-2.3l.6-2.6l.5 3.8l.6-4.2l.5-1l.6-.6l.5-.3l.6 2.2l.5 3.1l.6 .2l.5-1.2l.6-1.6l.5-2.3l.6-.6l.5-.8l.6-2.5l.5 5.3l.6-3.8l.5-1.1l.6-1.6l.5-2.1l.6 3.6l.5 3.6l.6-3.5l.5 2.4l.6-3.8l.5 1.6l.6-.6l.5-1.8l.5 .1l.6-1.7l.5-.1l.6-1.5l.5 4.6l.6 .7l.5 .8l.6-4.6l.5-1.9l.6 2l.5 .4l.6-6l.5-1l.6-2.6l.5 .2l.6-3.5l.5-.1l.6-.3l.5-3.2l.6 2.8l.5-4.2l.6-1.5l.5-.4l.6-2.4l.5 3.2l.6 2.1l.5-6.7l.6 3.8l.5-2.1l.6 2.2l.5-2.7l.6 .5l.5 1.9l.6-4.8l.5 .5l.6 5.2l.5-6.3l.5 2.6l.6-3.6l.5-.2l.6 1.5l.5 .2l.6-2.5l.5 2.7l.6 .2l.5-.8l.6-.4l.5-5.6l.6 4l.5-2.7l.6 1.2l.5 0l.6-6l.5 2.3l.6-3.1l.5-1.9l.6 .4l.5-.8l.6 .4l.5-2.8l.6 2l.5-.9l.6 2l.5-1.5l.6-.9l.5-3l.6-1.4l.5 .4l.6-1l.5-1.6l.6-.5l.5-1.1l.6 1.3l.5-.5l.6-1.3l.5 0l.5-.8l.6-3.9l.5 2.8l.6 2.5l.5-4l.6-.3l.5-3.5l.6-.2l.5-2.6l.6 2.4l.5-1.5l.6-5.2l.5 2.9l.6-4.3l.5-4.8l.6-.9l.5-4.8l.6-.1l.5-1.5l.6-4.8l.5-5.2l.6 2.1l.5 1.8l.6 1.7l.5-3.6l.6 7.3l.5-1l.6 1.8l.5-4.9l.6 5.2l.5-.6l.6-3.6l.5 .4l.6-4.5l.5-1.8l.6 1.5l.5 9.9l.6-4l.5-1.3l.5-3.5l.6-4.4l.5 .4l.6 1.3l.5 0l.6-1.1l.5 .4l.6-.8l.5-.3l.6-.2l.5-3l.6 4.4l.5-6.6l.6 1.4l.5-1.1l.6 1.3l.5-.5l.6-2l.5 2.5l.6 .4l.5-2.1l.6-2.2l.5-4.1l.6 1.7l.5-1.3l.6 4l.5-.4l.6-2.7l.5 1l.6-4l.5 5.7l.6-4.8l.5-1.4l.6 4.1l.5 2.8l.6-3.9l.5 0l.5-7.1l.6-.6l.5-.5l.6 .7l.5-1l.6-.6l.5-2.4l.6 1.2l.5 1.3l.6-1.2l.5 1l.6-1.2l.5-.5l.6 .1l.5-1.7l.6-.5l.5-1.3l.6-4l.5-2l.6-.9l.5-.3l.6 2.5l.5-5.4l.6 4.1l.5-.7l.6-2.9l.5 4.8l.6-4.5l.5 1.4l.6-4.1l.5 4.3l.6-2.2l.5-.3l.6-5.3l.5 2.3l.6-1.2l.5-6.7l.6 1.7l.5 .6l.5-4.5l.6 4.2l.5 .4l.6 1.5l.5-2.2l.6-.9l.5-2.6l.6-.5l.5-1.1l.6 .4l.5-1.4l.6-2.9l.5 2l.6-2.5l.5-.5l.6-.6l.5 4.1l.6-5.8l.5 .5l.6-1.2l.5 .6l.6-.7l.5 .9l.6-.5l.5-3.5l.6 3.1l.5-1.5l.6-3.3l.5-1.5l.6-3.3l.5 2.8l.6-5.1l.5-1.8l.6 .5l.5 .1l.6 .7l.5-3.1l.6-1.7l.5 3.2l.5 1.1l.6 .4l.5-5.6l.6 2.7l.5-2.4l.6-1.4l.5 3.4l.6-2.2l.5 0l.6 1.3l.5-.1l.6-5l.5 4.4l.6-3.2l.5-9.5l.6 4.4l.5-5l.6 3.1l.5 .9l.6-1.4l.5-1.3l.6 2.2l.5 1.3l.6-2.6l.5 2.3l.6-.5l.5-7.8l.6 3l.5-4.5l.6-.4l.5 6.9l.6-1.2l.5-.9l.6-2.9l.5-4.5l.6-2.7l.5 1.7l.6-2.7l.5 3.5l.5-3.4l.6 .4l.5-1.5l.6 1l.5 4.5l.6-7.2l.5 2.8l.6 1.7l.5-2l.6 .1l.5-3.4l.6 3.8l.5-1.2l.6-2.3l.5 4.2l.6-.5l.5-3.6l.6 2.7l.5-4.9l.6 .5l.5-.9l.6-3.8l.5-1.9l.6 2.3l.5 .3l.6 1.3l.5-2.5l.6 1l.5 .7l.6-1.7l.5-3.1l.6 1.2l.5 4.4l.6-8.4l.5 .5l.6 4.6l.5-5.2l.5 4l.6-3.8l.5-2.9l.6 1.5l.5-3l.6-.2l.5 3.9l.6 2.3l.5-4.4l.6 1.3l.5-4.6l.6 .4l.5-.2l.6 2.7l.5-6.8l.6 2.5l.5 .2l.6 .4l.5 0l.6-2.6l.5 5.3l.6-5.3l.5 2.4l.6-1.2l.5-3l.6-.5l.5 .7l.6-1.5l.5-2.5l.6 2.3l.5-1.3l.6-1.8l.5-.2l.6-3.7l.5 1.8l.6 2.1l.5-.9l.6-5.1l.5 3.3l.5 2.7l.6 .2l.5-4.4l.6 6.7l.5-2.3l.6-2.2l.5-.1l.6 1.1l.5-3.1l.6 3.7l.5-3.8l.6 .5l.5 2.2l.6-6.3l.5 2.5l.6-1.4l.5 1.4l.6-6.5l.5 2.1l.6 3.1l.5-4.5l.6 1.7l.5-1.7l.6 5.2l.5-4.7l.6 2.3l.5-2.1l.6 4.1l.5-1.4l.6 4.1l.5-3.3l.6-.4l.5-4.9l.6 1.2l.5-.9l.6-2.2l.5 .3l.6 2.4l.5-1.6l.5 2.7l.6-2.9l.5-.4l.6-.4l.5-.7l.6 .4l.5-3.5l.6 1.2l.5 1.9l.6 .4l.5 .2l.6-3.5l.5 3.8l.6-3.4l.5 3.6l.6-2.2l.5 2.9l.6-3.5l.5 .2l.6 1.1l.5 .7l.6 1.9l.5-4.3l.6-3.1l.5 3.9l.6-2.5l.5 2l.6-3.1l.5 3.6l.6-4.2l.5 4l.6-1.3l.5-6.9l.6 2.6l.5 .3l.6 .3l.5-1.1l.6 2.6l.5 .1l.5-5l.6 5.2l.5-.5l.6 .3l.5-.3l.6-3.7l.5 1.8l.6 .5l.5 .8l.6-2.5l.5-1.9l.6 3l.5-.3l.6-1.5l.5 1.9l.6-1.6l.5 4.1l.6-.2l.5 .6l.6-2.6l.5 3.7l.6-4.4l.5 1.2l.6-1l.5-.5l.6 3.2l.5 6.3l.6-5.5l.5-.8l.6 2.6l.5-2l.6 .2l.5-.2l.6 .5l.5-4.5l.6 5l.5-3.4l.5 .3l.6 .2l.5 .3l.6-2l.5-.2l.6 .7l.5-1.4l.6 5l.5 1.2l.6 1.5l.5 .3l.6-4.2l.5-.8l.6-2.5l.5 1.7l.6 7l.5-4.8l.6 .5l.5 .6l.6-4.3l.5 3l.6-2.9l.5 2.5l.6 .2l.5 5.5l.6-4.2l.5 3.5l.6 2.1l.5-2.8l.6 3.2l.5-5l.6 5l.5-1.8l.6-1.5l.5 2.5l.6-4.5l.5 3l.6-.1l.5 .3l.5 .3l.6 2l.5-3.3l.6 4.3l.5 1.7l.6-4.8l.5 .7l.6 2.9l.5 .2l.6-2l.5 2.4l.6 .6l.5 .3l.6-4.6l.5-2.2l.6 4l.5-.2l.6 5.2l.5-1.9l.6 1.6l.5-2.1l.6 2.3l.5-.5l.6-1l.5 1.6l.6 2.9l.5 .3l.6 .9l.5-.9l.6-.6l.5-1.8l.6 1.6l.5 1.3l.6 1.1l.5-1.2l.6 3.1l.5 2.2l.6-2.2l.5-.1l.5 8.2l.6-7.3l.5 5.1l.6-.6l.5-2.3l.6 1.8l.5-3.2l.6 2.5l.5-3.9l.6 3.2l.5 2.6l.6-3l.5 3.6l.6-.6l.5 1.2l.6 2.1l.5 3l.6-3.1l.5 4l.6-3.2l.5 .9l.6 8.5l.5-9.7l.6 6.8l.5-2.3l.6 .3l.5 2.6l.6-.2l.5-1.3l.6 2.5l.5-.1l.6 0l.5 .9l.6 .7l.5 1.9l.6 .7l.5-1.4l.6 3.5l.5 1.4l.5-3.9l.6 3.5l.5-2.4l.6 2.3l.5 2.4l.6-1.9l.5-2.2l.6 6.7l.5-.3l.6 2.9l.5-2.9l.6-.6l.5-3.8l.6 8.9l.5-4.6l.6-2.3l.5-.4l.6 2.2l.5-.4l.6 7.1l.5 .3l.6-1.7l.5 7l.6-4.5l.5 4.1l.6-.5l.5-1.7l.6-3.5l.5 2.6l.6 1.1l.5 3.4l.6-.4l.5 1.2l.6 1.2l.5 1.8l.6-4.6l.5-.3l.5 2.8l.6 2.6l.5-.8l.6 3.6l.5 0l.6 .1l.5 .1l.6 1.8l.5 .2l.6-.7l.5 4.2l.6-.6l.5-.5l.6 0l.5 6l.6 0l.5 .1l.6 .6l.5-2.7l.6 1.3l.5 4.2l.6 .3l.5-4.1l.6-.9l.5 .6l.6 2.1l.5 3.2l.6 3.9l.5 1.1l.6-2l.5-3.5l.6 3.9l.5 3.5l.6 1.3l.5-1.3l.6 1.1l.5-3.1l.6 5.1l.5-2.5l.5 2.8l.6-1l.5-.8l.6 2.4l.5 .6l.6 2.5l.5 .4l.6-4.1l.5 4.9l.6-.2l.5 2.6l.6-6.1l.5 3.2l.6-1.4l.5 1.9l.6 5l.5-1.3l.6-.1l.5 4.3l.6-2.4l.5 2.2l.6-.6l.5 .2l.6 4.7l.5 .2l.6-.3l.5-.9l.6 4.2l.5-6.8l.6 4.2l.5 3.4l.6 1.7l.5 2.2l.6-4.7l.5 5.1l.6-3.8l.5 .2l.6 1.8l.5-1.4l.5 2.2l.6 1.5l.5 2.7l.6-2.7l.5 5l.6 .9l.5-1.8l.6 2.4l.5 3.5l.6-5.5l.5 5.2l.6-.6l.5-.4l.6-.5l.5 .2l.6 2l.5-3.8l.6 1.3l.5 1.9l.6 2.9l.5 1l.6 3.7l.5-.1l.6 0l.5-1.9l.6 3.6l.5-3.6l.6 2.2l.5 .5l.6-2.2l.5-1.3l.6 3.3l.5 1l.6 .3l.5-2.8l.6 2.7l.5 6.1l.5-5.6l.6 3.5l.5 3.6l.6 .3l.5 2.6l.6 1.8l.5-3.4l.6-1.6l.5-3.3l.6 4.5l.5-.1l.6 1.2l.5 5.1l.6-2.8l.5 4.9l.6-3.6l.5 7.9l.6-.1l.5-5.4l.6 3.4l.5-1.4l.6 2.4l.5 4.9l.6-1.8l.5 2.8l.6-4.3l.5 6.2l.6-4.6l.5 4.8l.6-.7l.5-3.2l.6 7.2l.5 .7l.6-1.3l.5 3.9l.6-6.4l.5 .7l.6 2.3l.5 4.1l.5 4.1l.6-2.1l.5 0l.6 4.2l.5-4.3l.6 0l.5 .7l.6-1.6l.5 4.2l.6-.8l.5 2.9l.6-2.8l.5 5.6l.6 .6l.5 .1l.6 4.7l.5-6.2l.6 3.6l.5 0l.6 .6l.5-7l.6 5.6l.5 1.8l.6-.2l.5 4.7l.6 .7l.5-.2l.6-1.1l.5 1.9l.6-2.2l.5 1.6l.6 .2l.5-.4l.6 2.8l.5 5.2l.6-5.5l.5-.7l.6 .7l.5 3.3l.5-3.9l.6 4.2l.5 1.8l.6-4.6l.5 9.1l.6-5.6l.5 .9l.6 2.3l.5 1.5l.6-2.5l.5 1.1l.6-.2l.5 3.7l.6 .5l.5 .5l.6 3.2l.5-4.4l.6 2.4l.5 1.4l.6 4.6l.5-1.7l.6-.7l.5 .3l.6 3l.5-2.2l.6-3.6l.5 6.2l.6-.9l.5 2.4l.6 3.2l.5-1l.6-1.2l.5 .2l.6-.8l.5-1.5l.6 1.1l.5 2.8l.6-1.4l.5 1.6l.5 .6l.6 2.8l.5 .2l.6 3l.5-3.4l.6 3.6l.5-3.4l.6 2.8l.5 3l.6-2.9l.5 5l.6-1.3l.5 1.2l.6-4.2l.5 3l.6 .1l.5 .6l.6-3l.5 5l.6 .7l.5-2.7l.6 1.1l.5 1.7l.6 3l.5-3.9l.6 1.8l.5 2.2l.6-2l.5 .9l.6 3.1l.5-1.2l.6 1.1l.5-1.5l.6 3.4l.5-7.5l.6 3.2l.5 .7l.5-.2l.6 1.4l.5 3.3l.6-3.8l.5 2.2l.6 3.2l.5 1.9l.6-.2l.5 .8l.6 .4l.5 .8l.6-1.8l.5-4.1l.6 7.5l.5-2.6l.6-.8l.5 3.3l.6-5.4l.5 1.2l.6-3.8l.5 2.9l.6 8.3l.5-1.9l.6 2.4l.5-1.6l.6 .7l.5 .5l.6-4.3l.5 2.3l.6 1l.5-.9l.6-.1l.5 2.2l.6 3.2l.5-5.3l.6 1.5l.5 4.9l.6-.7l.5 1.6l.5 .5l.6-3.6l.5 3.9l.6-.6l.5 1.3l.6-3.2l.5 4.6l.6-2.2l.5-1.6l.6 2.1l.5 1.6l.6 1.7l.5-4.9l.6 1.4l.5-.9l.6 1l.5-1.3l.6 .7l.5 5.1l.6-2.4l.5-1.7l.6-.5l.5 8.3l.6-5.5l.5-1.5l.6 2.4l.5-1.8l.6 3.5l.5-.6l.6 1.1l.5 1.4l.6-2l.5 1.9l.6-1.9l.5-.7l.6 3.4l.5-3.6l.6 6.5l.5-.1l.5 .8l.6 1l.5-2.2l.6-4.8l.5 1.2l.6 1.2l.5 3.1l.6-5.3l.5 2.2l.6 .2l.5-1.8l.6 4.4l.5-.1l.6-2.2l.5 1.7l.6-2.4l.5 4l.6-4l.5 .1l.6-.3l.5 2l.6-3.5l.5 2.8l.6-2l.5 1"/>
<path stroke="#000" stroke-width="5.7" stroke-dasharray="35 12 7 12" d="M247.5 1249.1l.5 .4l.6 10.3l.5-10.1l.6 5.5l.5-8.9l.6-6l.5-1.4l.6 23.1l.5 6.9l.6 4.1l.5-5.9l.6 2.8l.5 2.7l.6-21.4l.5 11.9l.6-1.1l.5-4.4l.6-20.6l.5 4.4l.6 4.2l.5-5.9l.6 5l.5-3.4l.6-15.7l.5-2.6l.6-2.8l.5 8.8l.6 33.8l.5 4.9l.6 16.4l.5-7.9l.6-14.5l.5-14.7l.6 1.8l.5 8.6l.6 13.7l.5 19l.6-18.9l.5-24.2l.5 2.8l.6-13.8l.5 14.8l.6-23.8l.5 17.8l.6-3.9l.5 15.9l.6 5.6l.5-4.6l.6-10.3l.5-18.5l.6 9.3l.5-13.4l.6 25.1l.5 2.8l.6-13.5l.5 11.2l.6-60.5l.5-178.9l.6-172.4l.5-122.3l.6-122.1l.5-101.3l.6-32.7l.5-31.8l.6-31.9l.5-31.8l.6-32.4l.5-14.4l.6-6.4l.5-6.6l.6-6.3l.5-6.8l.6-6.5l.5-6.6l.6-6.5l.5-5.5l.5-4.9l.6-4.1l.5-4.9l.6-3.8l.5-4.9l.6-4.3l.5-4.6l.6-10.7l.5-13.7l.6-8.1l.5-.6l.6-.8l.5 .1l.6-.3l.5 .3l.6 .1l.5 .4l.6 0l.5-3.5l.6 1.4l.5 .1l.6 2.8l.5-2.3l.6-1.6l.5 2l.6-4.6l.5 1.1l.6 .2l.5-3.9l.6 .9l.5-.5l.6 .2l.5 .6l.6 3.4l.5-2l.6-2.5l.5 3.1l.6-1.9l.5-1l.5-4.7l.6-.1l.5 .5l.6 1.7l.5-3.8l.6 .4l.5 1l.6-3.2l.5 3.1l.6 2l.5-4.1l.6 2.5l.5-1.1l.6 3.7l.5-3.2l.6 1.4l.5-2l.6 .1l.5-9.6l.6 2.4l.5-3.2l.6-3.6l.5 .3l.6-3.1l.5 3.1l.6-3.1l.5 .9l.6-1.9l.5-1l.6 2.8l.5 .6l.6-1.8l.5-4.3l.6 .4l.5-.2l.6 4.4l.5 3l.6-4.1l.5-.8l.5 .3l.6-1l.5 .7l.6 1.7l.5-.8l.6-3.9l.5-.1l.6 0l.5-4.6l.6 4.7l.5-.9l.6 1.9l.5-1.5l.6-3.2l.5-.3l.6 1.2l.5-1.3l.6 4.2l.5 3.5l.6 2.4l.5-10.8l.6 1.6l.5 2.4l.6 5.9l.5 1.8l.6-1.9l.5 10.5l.6-2l.5 .5l.6 5.5l.5-1.1l.6-.3l.5-6.8l.6 1.5l.5-1.4l.6-5.1l.5-4.1l.6 .1l.5-4.1l.5 1l.6-.8l.5-4.8l.6-2.4l.5-1.9l.6 1.9l.5-2.4l.6-.3l.5-2.2l.6-1.8l.5 .6l.6 3.4l.5-3.5l.6 0l.5-.2l.6-.1l.5 0l.6-1.9l.5 .9l.6-.6l.5 1.4l.6-2.4l.5-.3l.6 3.4l.5-5.2l.6 1l.5 1.1l.6 1.7l.5-.5l.6-1l.5-3l.6 .5l.5 2.2l.6-7.3l.5 6.2l.6-2.7l.5-2.3l.5 .4l.6 3.3l.5-.5l.6-1l.5 1.7l.6-8.4l.5 7.3l.6-2.5l.5 1l.6 1.2l.5-1.7l.6-2.3l.5 4l.6-1.8l.5-2.8l.6 .2l.5-2.7l.6 3.5l.5 1.4l.6 1l.5-1.2l.6 0l.5 2.1l.6-2.7l.5 .2l.6-.5l.5 .2l.6-4.1l.5 1.8l.6 1.3l.5 2.8l.6 .7l.5-1.5l.6-3.5l.5 1l.6-.4l.5-2.3l.6 2.3l.5 2.3l.5-1.2l.6 .4l.5-2.6l.6 2.5l.5-2l.6-1.7l.5 2.8l.6 1.7l.5-.6l.6-1.5l.5-3.3l.6-.7l.5 1.7l.6 2.2l.5-4.5l.6 2.1l.5-.3l.6 .1l.5 3.7l.6-1.4l.5-1.2l.6-1.5l.5 .5l.6 5.9l.5-5.5l.6-1.2l.5-2.9l.6 1.1l.5-3.5l.6 2l.5-.8l.6 .7l.5 4.3l.6-4.3l.5 5.8l.6 2l.5-2.2l.6 .3l.5-2.3l.5-.7l.6 .2l.5-1l.6 1.9l.5-1.7l.6 4.7l.5-3l.6 3.7l.5-2.2l.6-1.8l.5 1l.6 1.8l.5-.2l.6-2.8l.5 5.2l.6-7.3l.5 4.6l.6-1.9l.5-1.1l.6 6.1l.5-1.9l.6-.9l.5 3.7l.6-4.9l.5 .6l.6 3.1l.5-3.3l.6 .1l.5-3.9l.6 4.3l.5-4.8l.6 8.9l.5-4.6l.6 2.8l.5 .2l.6-1.2l.5 2.1l.6 1.4l.5 1.6l.5 7.8l.6 4l.5 4.9l.6-2l.5-4.9l.6 .2l.5 0l.6 .3l.5-2l.6-1.2l.5-1.8l.6 3.5l.5-6l.6 3.6l.5-3l.6 .3l.5 5l.6 .8l.5-.4l.6-2.2l.5-.9l.6-7.2l.5 4.9l.6-.1l.5-2.7l.6 .4l.5 2.1l.6-4.7l.5-2.6l.6 3.8l.5-2.5l.6 2.6l.5 0l.6-.4l.5 .1l.6 .4l.5 4.4l.5-2.7l.6 2.9l.5-1.2l.6-2l.5 2.3l.6 2.2l.5-3.3l.6 4.1l.5 0l.6 .7l.5-3.3l.6 2.5l.5 4.3l.6-5.3l.5-2.2l.6 1.7l.5 4.9l.6-.9l.5-.5l.6-2.1l.5 1.9l.6 2.5l.5-3.2l.6 .7l.5 3.6l.6-1.9l.5-1.3l.6 1.1l.5-1l.6-.6l.5 .4l.6 1.4l.5 2.2l.6-3.8l.5-1.5l.6 .5l.5 3.7l.6 0l.5-2.9l.5-1.3l.6 2l.5-.8l.6 2.7l.5-5.1l.6 3.5l.5-.5l.6 .8l.5 3.7l.6 3.9l.5-1.6l.6-1.3l.5 3.5l.6 1.4l.5-.7l.6 .3l.5-3.8l.6 3.9l.5-.8l.6 1.5l.5 3.2l.6 1.9l.5-1.8l.6 2.3l.5-7.4l.6 5l.5 .6l.6 .7l.5-.7l.6 5.7l.5-1.2l.6 1.5l.5 0l.6 .2l.5-1.8l.6 5.1l.5-.7l.6-2.8l.5 4.4l.5-.3l.6-2.7l.5 3.6l.6-4.4l.5-2.1l.6 1.5l.5 3l.6-3.7l.5 .7l.6 4l.5 .5l.6 2.8l.5-.5l.6 4.5l.5-4.8l.6 2.4l.5-1l.6-1.2l.5 3.2l.6 .4l.5 2.1l.6 5.1l.5-2.9l.6 .1l.5 3l.6-3.6l.5 1.9l.6 0l.5 3l.6 2.6l.5-4.1l.6 1l.5 2.1l.6 .4l.5 .4l.6 .4l.5 1.4l.5 2.1l.6-4.6l.5 4.9l.6-1.5l.5 2.4l.6-.4l.5 4.2l.6-4.7l.5 .3l.6 .5l.5-.3l.6 4.6l.5 7.2l.6-5.8l.5-1.4l.6 .6l.5 2.4l.6-.5l.5-.4l.6 4.3l.5 2.1l.6 .3l.5-3.9l.6 4.6l.5-5l.6 3.3l.5 3.5l.6-7l.5 2.8l.6-2.6l.5-1.7l.6 4.5l.5 3.9l.6-4l.5 2.2l.6 2.8l.5-1.8l.6-.9l.5-2.3l.5 2.7l.6-1.3l.5-1.6l.6 1.1l.5 0l.6-.5l.5 5.7l.6-5l.5 2l.6 2.1l.5 2.1l.6 1.3l.5-.6l.6-2l.5 2.5l.6-.2l.5 1.1l.6 .9l.5 3.3l.6 1.2l.5-1.3l.6 5.6l.5-.3l.6 4.7l.5-1.2l.6 2l.5 1.4l.6 2.7l.5 2.5l.6-.2l.5 1.8l.6-1.4l.5 1.8l.6 6.5l.5-2l.6 3.6l.5-.3l.6 2.4l.5 3.3l.5-2.9l.6 3.7l.5 5l.6 3.9l.5 .1l.6 3.8l.5 .5l.6 .8l.5 1l.6 6.1l.5 .3l.6 3l.5 5.6l.6 5l.5 .3l.6 3.1l.5-.6l.6 6l.5 3.9l.6 4l.5 10.8l.6 3.3l.5 6l.6-3.4l.5 2.7l.6 7.2l.5-9.3l.6 4.7l.5-2.7l.6 2.7l.5-.1l.6-.3l.5 1.2l.6 2.6l.5-2.1l.6 2.3l.5 1.2l.6-.9l.5 2.9l.5-4.2l.6 3.6l.5 .1l.6-3.9l.5 2.8l.6 .9l.5-2.2l.6 2.2l.5-1.5l.6 2.1l.5 3.4l.6-4.2l.5 .1l.6 .3l.5 1.8l.6 3.1l.5-3.9l.6 4.2l.5-1.9l.6 9.4l.5-3.8l.6 3.5l.5-2.9l.6-2.6l.5 1.7l.6 5.1l.5 .1l.6 .4l.5-2.3l.6 1.2l.5 1l.6 .2l.5 .1l.6 .4l.5-1.3l.6 3.9l.5 .1l.5 4.5l.6-.4l.5 0l.6 1.5l.5-2l.6-1l.5 3.5l.6 .7l.5 .7l.6-.7l.5 4.6l.6-1.2l.5 .8l.6 .5l.5-2.3l.6 2l.5 .4l.6-2.4l.5 4.9l.6-.9l.5 2l.6 1.5l.5-.5l.6 1.8l.5-.4l.6 2.3l.5 1.8l.6-2l.5 3.7l.6-1.3l.5 1.1l.6 0l.5 3.9l.6-.2l.5-3.9l.6 4.5l.5 .9l.6 2.6l.5 .7l.5 4.4l.6-.2l.5-2l.6-.4l.5 2.8l.6-.1l.5 .8l.6 .4l.5 2.3l.6 .8l.5-2.1l.6 4.4l.5-1.1l.6-.2l.5 1.2l.6-2.5l.5 1.7l.6-.3l.5 2.1l.6 .5l.5-2l.6 .7l.5 1.9l.6-2.5l.5 .7l.6 .4l.5-2.3l.6 4.8l.5-1.2l.6 .4l.5 1.7l.6 1.2l.5-3.1l.6 1.2l.5 .8l.6 3.5l.5 .4l.6 2.1l.5-1.8l.5 .8l.6-3l.5 3.1l.6-1.8l.5 1l.6 2.2l.5 .7l.6-1.5l.5 1.8l.6 .6l.5 .3l.6-3.3l.5 1.1l.6 .7l.5 3.5l.6-3.1l.5 4.5l.6-3l.5 3.4l.6-5.5l.5 5.9l.6-5.2l.5 1.2l.6 5.2l.5-1.2l.6-2.9l.5 1l.6 5.6l.5-1.1l.6 1.6l.5 .1l.6-.4l.5-4.7l.6 3.5l.5 1.1l.6 .5l.5-5l.6 .3l.5 3.4l.5-4.2l.6 7.2l.5-1.2l.6-1.1l.5-2.1l.6 6l.5-1l.6-1.7l.5 1.5l.6-2.5l.5 .4l.6 1.6l.5-.4l.6 2.1l.5 2.1l.6-2.9l.5 7l.6-7.1l.5-4.2l.6 2.1l.5 2.3l.6 3.5l.5-1.1l.6 3.4l.5-2.3l.6-1.3l.5 .2l.6 .2l.5-2l.6 4.3l.5-1.2l.6-1.7l.5 3.8l.6 4.1l.5-3.9l.6 1.3l.5 .5l.5-3.1l.6 2.4l.5-7.1l.6 7.5l.5-1.9l.6 2.1l.5-.7l.6-2l.5 5.3l.6 .5l.5 3.7l.6-2.7l.5 5.1l.6 4.3l.5-5l.6 .6l.5-4.4l.6-.7l.5-1.7l.6-1.3l.5 1.7l.6-.4l.5-6.2l.6 3.8l.5 .7l.6 3.2l.5 4.6l.6 .4l.5-2.6l.6 5.8l.5 .3l.6 .5l.5-4.4l.6-1.8l.5-1.8l.6-1.7l.5 2l.6-.8l.5-1l.5-.7l.6-1.9l.5-3.6l.6 2.9l.5 0l.6 3.6l.5-3.2l.6 3.9l.5 1l.6-.3l.5-3l.6 3.3l.5-4.6l.6 .1l.5 2.8l.6-2.4l.5-3.9l.6 2.9l.5 .8l.6-3.5l.5-1.5l.6 1.7l.5 2.5l.6-1l.5-.3l.6 .7l.5-1.8l.6 4.2l.5-2.7l.6 1.2l.5-1.8l.6 2.8l.5-.3l.6-.5l.5 2.5l.6-3.4l.5 2.7l.6-1.8l.5 .3l.5 .5l.6-.9l.5-2.2l.6-3.8l.5 8l.6-2.8l.5 4.7l.6 1.3l.5-2.2l.6 2l.5-5.6l.6-2.7l.5 6l.6-4.5l.5 1.4l.6 2.4l.5-2.9l.6 .1l.5 .6l.6-3.1l.5 4.6l.6-3.9l.5 2.7l.6 1.4l.5-1.9l.6 .2l.5-2.3l.6 4.1l.5-2.6l.6 .3l.5-4.9l.6 4.9l.5-4.3l.6 5.1l.5-6.9l.6 .7l.5-1.1l.6 1.8l.5 .8l.5-.9l.6-5.6l.5 1.9l.6 4.6l.5-3.5l.6 2.9l.5-.2l.6-1.1l.5-4.7l.6-1.6l.5 5.3l.6-.4l.5-1.5l.6-2.3l.5 8.3l.6-2.3l.5-1.1l.6 3.8l.5-3.8l.6-3.1l.5-1.3l.6 2.1l.5-2.2l.6 1.2l.5-2.6l.6 .5l.5 .7l.6 3l.5-6.1l.6 .7l.5 .1l.6 1.5l.5-.9l.6-4.2l.5 1.5l.6 2.2l.5-2l.5-.5l.6 .4l.5 3.3l.6-4.4l.5 .9l.6 1.2l.5 3.2l.6-2.2l.5-1.4l.6-1.9l.5 0l.6-3.1l.5 1.5l.6 1.3l.5 3.6l.6-3.4l.5 .3l.6-2.9l.5-1l.6-2.3l.5 2.3l.6 1.9l.5-9.1l.6 3.5l.5 .8l.6-.3l.5 .5l.6-4l.5 .2l.6-2.7l.5 4l.6-.1l.5-1.4l.6 2.2l.5-2.1l.6-1.4l.5 1.6l.6-2.8l.5-.7l.5-2.6l.6 .7l.5 2.9l.6-4l.5-3.3l.6 5.5l.5-2.7l.6-2.7l.5 1.9l.6-2.2l.5-1.8l.6 4.2l.5-3.7l.6-.9l.5 2.5l.6-4.9l.5-2.7l.6 1.7l.5-1.8l.6-3.1l.5 1l.6-3l.5 .5l.6 3.9l.5-3.6l.6-1.3l.5-.6l.6 4.4l.5-2.8l.6-2.4l.5 1.5l.6-4.4l.5-.7l.6 2.1l.5-1.8l.6 .3l.5-3l.6 1.8l.5 .4l.5 0l.6-.3l.5-1.3l.6-.6l.5 4.1l.6-1.4l.5-2.4l.6-.6l.5-3.1l.6-5.2l.5 2.4l.6 1.8l.5 2.5l.6-1.6l.5 1.4l.6 3.6l.5-6.7l.6-.4l.5-4.3l.6 7l.5-6l.6 2.8l.5-2.5l.6 1.9l.5 .5l.6-2.2l.5 1.5l.6-2.2l.5-2.2l.6 .2l.5-.8l.6 .1l.5 .2l.6-3.2l.5 4.1l.6 0l.5-1.6l.5-4l.6 .3l.5-1.4l.6-3.6l.5 2.9l.6-2.5l.5 4.4l.6-3.1l.5-3.2l.6 3.2l.5 .1l.6 0l.5-3.8l.6-2.6l.5-3.6l.6-.6l.5 4.7l.6 .6l.5-5.5l.6-4.1l.5 4.1l.6-2.9l.5-1l.6-2.4l.5-.5l.6-2.2l.5-1.9l.6 1.7l.5-2.1l.6-3.2l.5 4.8l.6-.7l.5-3.8l.6-3.2l.5 2.5l.6-3.1l.5 2l.6-3l.5 2.2l.5-2l.6-.2l.5-.6l.6-2.6l.5-2.3l.6 2.5l.5-3.5l.6 4.2l.5-4.1l.6-4l.5 3.5l.6-.6l.5-.1l.6-2.4l.5-.1l.6-4.7l.5-1.2l.6-2.3l.5-3.6l.6-2.3l.5 3.2l.6-9.8l.5 1.1l.6 .8l.5-8.3l.6-.5l.5-3l.6-3.5l.5-3.2l.6 1.3l.5-8.1l.6-3.3l.5-2.2l.6 .6l.5-3.6l.6-3.9l.5-.4l.6-2.8l.5-3.6l.5-.3l.6-8.5l.5 2l.6-4.3l.5-.9l.6 .4l.5-4l.6-2.5l.5-2.5l.6-1.2l.5 .3l.6-4.1l.5 2.7l.6-3l.5-2.5l.6-1.7l.5 2.7l.6-1.3l.5-6.4l.6 3.6l.5 1.6l.6 1.7l.5-2.8l.6-2.7l.5 1.7l.6-7.3l.5 1.3l.6-.9l.5-1.5l.6 5l.5-1.7l.6 .8l.5 0l.6-1.2l.5 2.3l.6-2.2l.5 1.1l.6-3.9l.5 .3l.5-3.5l.6 1.4l.5-.2l.6-3.5l.5 8.1l.6-3.8l.5 1.7l.6-5.6l.5-1.3l.6-1l.5 2.3l.6 1.6l.5-5.5l.6 2.1l.5-1.9l.6 1.1l.5-3.5l.6 1.2l.5-5.8l.6-1.8l.5-.5l.6 1.4l.5 3.3l.6 3.7l.5-.4l.6-3.2l.5-2.8l.6-.4l.5 .3l.6-.6l.5 2.5l.6 2.5l.5-4.1l.6 3.7l.5-1.9l.6-1.4l.5 1.8l.5-4.8l.6 9.8l.5-2.6l.6-2.9l.5-3.8l.6 .6l.5 .9l.6-6.3l.5 2.6l.6-5.3l.5-3.4l.6 1.5l.5-1.8l.6-2.3l.5-.1l.6-2.3l.5 1.3l.6-4.6l.5 1.5l.6 .5l.5-6.6l.6 5.8l.5-1.3l.6 3.2l.5-2.1l.6-1.4l.5 1.9l.6-4.1l.5 2.1l.6-5.7l.5 2.1l.6-5.1l.5 .1l.6 6.1l.5 2.1l.6-1l.5-3.7l.6 2.7l.5-1.4l.5-.1l.6 2l.5-6.7l.6 6.2l.5-4.5l.6 .2l.5 2.5l.6-4l.5-.7l.6 .5l.5-.1l.6-2.8l.5-1.6l.6 1.3l.5-2l.6 1.4l.5-.1l.6-1.5l.5 5l.6-.5l.5-2.3l.6-.3l.5-3.6l.6 .4l.5 1.5l.6-.3l.5-3.2l.6-.1l.5-.2l.6-2.8l.5 4.5l.6-.5l.5-1.3l.6 1l.5 5.6l.6 3.4l.5-5.1l.6 1l.5-5.4l.5-.6l.6 3.9l.5-8.3l.6 5.1l.5-.3l.6 3.4l.5-4.8l.6-2.3l.5 1.1l.6-1.4l.5-2.2l.6 4l.5 .8l.6-4.6l.5 1.8l.6-2.8l.5-5l.6 3.8l.5 .3l.6 .5l.5 1l.6-1.4l.5-.2l.6 1.3l.5-1l.6-1.3l.5-.5l.6 .5l.5-.6l.6 .7l.5-.8l.6 1.8l.5-.5l.6-2.7l.5 5.4l.6-5.3l.5-5.5l.6 9.1l.5-6.5l.5 4.3l.6-4.2l.5-2.7l.6 0l.5 5.5l.6 .4l.5 0l.6-4.3l.5 3.2l.6-1l.5-.7l.6-.6l.5-3.1l.6 .5l.5 3l.6-6l.5 9.3l.6-7.7l.5 3.2l.6-1l.5 .8l.6-.5l.5-.9l.6 .3l.5 2.4l.6-3.9l.5 2.5l.6-3.9l.5 2.3l.6 .8l.5-2.4l.6-1.1l.5 3.3l.6-1.5l.5-3.4l.6 4.3l.5 2.9l.5-2.1l.6 2.4l.5 2.1l.6-7.8l.5-4.1l.6-.8l.5-.1l.6 .9l.5 2.8l.6-3.8l.5-1.1l.6 4.4l.5-3.2l.6 2.6l.5-.9l.6-2.2l.5 3.7l.6-5.5l.5 4.5l.6-.3l.5 .9l.6-1.7l.5 .2l.6 1l.5-2.5l.6 2.3l.5 1.4l.6 9.3l.5-4.7l.6 .1l.5 1.3l.6-3.5l.5-2.6l.6-.7l.5-1.5l.6 .4l.5 3.6l.6-1.7l.5 3.2l.5-5.5l.6 .8l.5 1.9l.6-.8l.5 .1l.6 .8l.5-3.5l.6-3.3l.5 5.1l.6-.3l.5 1.9l.6 1.1l.5-.6l.6 4.9l.5-1.6l.6 .8l.5 .1l.6 1l.5-1.3l.6 3.3l.5-6.8l.6-2.9l.5 4.4l.6-.9l.5-3.1l.6 1.6l.5-1.4l.6 6l.5-6.1l.6 2.5l.5 .1l.6-3.6l.5 .1l.6 4.9l.5-.9l.6-1.2l.5-1.5l.6 2.1l.5-7l.5 3l.6 4.4l.5 .1l.6-5.5l.5 0l.6 1.8l.5-1.7l.6-1.9l.5 4.5l.6 .1l.5-3.8l.6 5.6l.5 2.2l.6 3.1l.5 1.6l.6 0l.5 5.5l.6 3.5l.5 1.4l.6-1.9l.5 5.8l.6 5l.5 1.3l.6 .3l.5-.8l.6 1.5l.5-5.5l.6-.5l.5-3.4l.6 3.2l.5-6l.6 1.4l.5 .9l.6-8.5l.5 2.1l.6-2.8l.5 1.2l.6-1.8l.5 .2l.5 .1l.6 1l.5 6.3l.6 .3l.5-3.4l.6 2.4l.5-2.5l.6 .8l.5 3.2l.6-.6l.5-3.3l.6-.3l.5-1.1l.6-1.5l.5 1.9l.6 4.5l.5-.6l.6-3.8l.5-.3l.6 1.4l.5 5.1l.6-2.3l.5-1.1l.6 1.6l.5-4.7l.6 3.8l.5 1.3l.6 2.8l.5 .1l.6-.5l.5 .4l.6-.6l.5-1l.6 .7l.5-2.4l.6 5l.5-2.5l.5 .4l.6-2.3l.5 4l.6-.6l.5 2.7l.6-2.4l.5 .5l.6 2.5l.5 .1l.6 2.7l.5-.7l.6 3.8l.5-3.4l.6 1.8l.5-3.8l.6 1.3l.5 4.1l.6 .1l.5-5.4l.6 4l.5 .6l.6-.3l.5-.1l.6-1.3l.5 .9l.6 9.5l.5-3.4l.6 2.2l.5 3l.6-7.6l.5 2.9l.6-1.2l.5 3.1l.6 .5l.5 4.4l.6-3.2l.5 4.2l.6-4.1l.5 5.7l.5-4.1l.6-.8l.5 2.5l.6-.8l.5 5l.6-4.4l.5-.8l.6 5.9l.5-.1l.6 .1l.5-2.3l.6 .2l.5 5.7l.6-5.2l.5 4.1l.6 2.1l.5-3.1l.6 3.1l.5-2.4l.6 1.8l.5 2.2l.6-2.2l.5 1.4l.6 3.1l.5 2.7l.6-1.4l.5 .1l.6 2.2l.5-3.2l.6 3.5l.5-1.4l.6 .2l.5 3.1l.6-.9l.5 2.8l.6 3.8l.5-.5l.6-4.1l.5 3.8l.5-.1l.6 3.2l.5-1.1l.6-3.2l.5 1.9l.6 1.7l.5-3.3l.6 4l.5 1.1l.6-2.3l.5 6.1l.6-5.3l.5 3.8l.6-.1l.5 .4l.6 .3l.5 .7l.6 .2l.5 .8l.6-.9l.5 0l.6 2.5l.5 .5l.6-.4l.5 3.9l.6-.7l.5 3.6l.6 1.8l.5 5.2l.6-10.4l.5 5.8l.6-4.7l.5-3.7l.6 2.8l.5-3.4l.6 2.1l.5-.5l.5 2.2l.6-2.6l.5 2.1l.6 2.5l.5-1.7l.6 1l.5 4.5l.6 1.7l.5 1.4l.6 1.6l.5-2.3l.6 3.1l.5 2l.6 .7l.5-2.6l.6 2.7l.5-.5l.6 1.5l.5-.4l.6 1.2l.5 5.8l.6-1.6l.5 1.8l.6 3.1l.5-1.6l.6 1.8l.5-1.9l.6 2.6l.5 .6l.6 .9l.5 7.3l.6 .3l.5 1.5l.6-3.8l.5 1.5l.6 1.2l.5 1.7l.6 2.6l.5 4l.5-1.7l.6 3.6l.5-2.3l.6 4l.5 2.3l.6 4.3l.5 3.3l.6 1.3l.5 .8l.6 2.1l.5 10.3l.6 1.3l.5 2.8l.6 6.7l.5 3.1l.6 5.9l.5 7.1l.6-4.2l.5 2.9l.6-2.1l.5 1.3l.6 1.3l.5-2.3l.6 3.4l.5 .3l.6 4.2l.5 0l.6 8.6l.5 1.3l.6 3l.5 1.5l.6-6.1l.5 1.1l.6 1.8l.5 3.1l.6 3l.5 6.3l.6-5.7l.5 2.8l.5 0l.6-.8l.5 4l.6-1.8l.5 3.1l.6-1l.5 2.7l.6-.9l.5 .3l.6 4.5l.5 .4l.6-.1l.5-5l.6-4.2l.5 6.8l.6 3.3l.5-.9l.6 2.3l.5-1.5l.6-.6l.5 4.3l.6 0l.5 2.7l.6-3.4l.5 1.5l.6-3l.5 .6l.6 4.1l.5 1.5l.6-.3l.5-.9l.6 5.1l.5-4.4l.6-3.2l.5 4.2l.6-.1l.5-1.1l.6 2.7l.5-3.5l.5 2l.6 5.1l.5-.3l.6 .6l.5 5.8l.6-5.8l.5 2.7l.6-.6l.5 2.3l.6 .1l.5-2.7l.6 2.6l.5 1.2l.6-.7l.5 .1l.6 .9l.5 5.1l.6-2.5l.5-.5l.6-1.1l.5-.5l.6 8l.5-4.7l.6 4.2l.5-.1l.6 2.9l.5 .7l.6-3.3l.5 3.7l.6-1.5l.5-1.8l.6-.5l.5 6.6l.6-.6l.5 .3l.6-2.9l.5-.7l.5 5.2l.6-.2l.5-.3l.6 0l.5 1.1l.6-1.6l.5 3.5l.6 4.3l.5-2.9l.6-2.4l.5-.5l.6 6.3l.5 2l.6-2.8l.5 6.9l.6-6.9l.5 .4l.6 8.2l.5-6.6l.6 2.4l.5-3.7l.6 2.8l.5 1.5l.6-.1l.5 2.9l.6 2l.5 .7l.6 3.2l.5-6.2l.6 1.3l.5-3l.6 3.9l.5 2.2l.6 1.4l.5-2.2l.6 2.2l.5-4.2l.6-3.9l.5 0l.5 4.7l.6 4.1l.5-3.7l.6 4.1l.5-6.5l.6 6.9l.5-1.6l.6 4.6l.5-2l.6-1.2l.5 1.7l.6 2.2l.5-5.2l.6 7.3l.5 2.2l.6 1.1l.5-.2l.6-7.8l.5 4.4l.6-1.1l.5 2l.6-5l.5 3.1l.6-1.5l.5 .9l.6 6.4l.5-2.1l.6 0l.5 4.3l.6-5.3l.5-5l.6 7.7l.5-1.4l.6 4.1l.5-3l.6 2.4l.5-2.2l.6 6.5l.5 3.8l.5-2.6l.6 4.3l.5-.7l.6-.3l.5 3.7l.6-.9l.5-.5l.6-.4l.5-3l.6 2.6l.5-3.5l.6 4.6l.5-7.9l.6 1.7l.5 .3l.6 1.1l.5-2.3l.6 1.4l.5-1.1l.6-2.2l.5 2.9l.6-.2l.5 2.6l.6-1.1l.5 2.5l.6-.5l.5-2.2l.6-1.2l.5-1.3l.6 4.8l.5-2.9l.6-.1l.5-1l.6-1.6l.5 6.6l.6-.2l.5-1.7l.6 4.7l.5-4.3l.5-.5l.6-.7l.5-.3l.6 3.8l.5-4.2l.6 4.9l.5-.8l.6 .3l.5 .7l.6 1.7l.5-.6l.6-3.9l.5 1.8l.6-1.2l.5 3.2l.6-.4l.5 3.4l.6-1.3l.5 .7l.6-6.5l.5 3.4l.6-1.3l.5 2.5l.6 1.1l.5 .3l.6 1.3l.5-3.2l.6 1.5l.5-4.3l.6-3.7l.5 6.8l.6 1.4l.5 3.1l.6-2.7l.5 3.4l.6-6.1l.5 2.3l.5 2.7l.6-.9l.5 2.2l.6-2.3l.5-2.1l.6 2.6l.5 1.2l.6-.5l.5-1.7l.6 5.1l.5-8.1l.6 .3l.5 5.5l.6-7.1l.5 6.9l.6-2.8l.5-2.8l.6 5.3l.5 1.3l.6-1.5l.5-.1l.6-1.9l.5 2l.6-.1l.5-.1l.6-.7l.5-2.6l.6-2.4l.5 .6l.6 1.8l.5-4.8l.6 5.8l.5-3.9l.6 2.7l.5-.5l.6-.4l.5-.7l.6-1.2l.5 3.4l.5-7.3l.6 4.7l.5 2.2l.6 3l.5-7.2l.6 1.2l.5 3.1l.6-1.6l.5-1.1l.6 2.2l.5 .9l.6-1.1l.5-1.8l.6 1.5l.5 2.2l.6-5.8l.5 4.6l.6-2l.5-4l.6 1.9l.5-.1l.6 .1l.5-2l.6 3.6l.5 3.5l.6-4.3l.5 6.2l.6-4.5l.5-7.1l.6 .9l.5 2.8l.6-1l.5-.5l.6-1.9l.5 3.3l.6 1l.5-.6l.6-.6l.5 4.2l.5 4.3l.6 2.2l.5 7.9l.6 2.6l.5 2.5l.6-2.9l.5-7.7l.6-.5l.5-2.3l.6-5.5l.5-1.4l.6-6.5l.5-4.9l.6-3.8l.5 2.7l.6-2l.5-3.3l.6 3.7l.5-3.2l.6-.7l.5 4l.6-5.3l.5 .6l.6-.5l.5 1.4l.6 2.1l.5 .5l.6-1.3l.5-2.7l.6-1.9l.5 4.5l.6-7.4l.5 7.5l.6-2.3l.5 .2l.6 .1l.5-1.3l.5-.2l.6 3l.5-2.3l.6-1.7l.5 4l.6-.3l.5-6.3l.6-1.7l.5-1l.6 2.8l.5-.8l.6-2.3l.5 .1l.6 1l.5 2.4l.6-1.4l.5 1.2l.6-6.2l.5 3.5l.6-.4l.5-1.2l.6 .2l.5-1.3l.6 5.6l.5 1.4l.6-6.6l.5 4.4l.6-2l.5 .2l.6-.8l.5-1.4l.6-2.2l.5 3.1l.6-2.9l.5 1.5l.6-3.2l.5 4.3l.6-2.9l.5-1.5l.5 .4l.6-3.2l.5-.4l.6 1.5l.5 0l.6-2.6l.5 1.1l.6 .9l.5-.4l.6-1.6l.5-1.9l.6 .4l.5-1.4l.6-2.4l.5 5.2l.6-1l.5 3.1l.6-6.7l.5 5.2l.6-5l.5-2.4l.6 3.3l.5-2.1l.6-1.5l.5-2.7l.6 3.5l.5-4.3l.6-1.5l.5-1.9l.6-.8l.5-2.8l.6 1.1l.5 0l.6-.2l.5-2.6l.6 1l.5-2.9l.6 .2l.5-2.7l.5 2.9l.6-3.2l.5-1.3l.6-.9l.5-2.1l.6 4.7l.5-1.6l.6-2.6l.5 1.5l.6 1.8l.5 .1l.6-4.6l.5 1.4l.6-3l.5 .3l.6-3.4l.5-.4l.6 6.2l.5-3.2l.6 .5l.5 1.3l.6-5.6l.5 .9l.6-1.7l.5-4.5l.6-.8l.5-.2l.6 2.3l.5 .8l.6-5.3l.5 2.3l.6-1.2l.5 .2l.6-1.5l.5-4.9l.6 4.5l.5-.6l.6 .1l.5-.7l.5 2.2l.6 .5l.5-2.5l.6-1.3l.5 .5l.6-.2l.5-2.7l.6-1.6l.5-1.1l.6 2.3l.5-.3l.6-2.3l.5 .4l.6 1.8l.5-3.6l.6-1.2l.5-2.1l.6 4l.5-6.5l.6 1.6l.5-1.8l.6-1.5l.5 5l.6-.6l.5-1.9l.6-2.2l.5 2.3l.6 .4l.5-2.5l.6-3.2l.5-3.5l.6 2l.5-1.5l.6-1.5l.5-2.2l.6 .4l.5-2.1l.5-2.4l.6-.7l.5-1l.6 .7l.5-2l.6-.3l.5-4.5l.6-1.9l.5 .8l.6-5.4l.5 1.2l.6-2.4l.5-.5l.6-1.8l.5-1.1l.6-3.4l.5-3.1l.6-2.2l.5-.8l.6-4.4l.5-2.3l.6-4.2l.5-3.6l.6-.7l.5-2.3l.6-4.9l.5-2.3l.6-1.4l.5-2l.6-3.9l.5-5.1l.6-4.4l.5-6.5l.6 1.1l.5-4.3l.6-1.6l.5-2l.6-.8l.5 .1l.5-5.2l.6 .5l.5-4.6l.6 2.1l.5-2.6l.6-2l.5 4.9l.6-2.3l.5-4.9l.6 .6l.5 1l.6-2.6l.5 0l.6-1.6l.5-6.7l.6 3.4l.5-5.5l.6 3.7l.5 3.2l.6-4.8l.5 .5l.6-1.4l.5-3.8l.6 1l.5-.9l.6 4.9l.5-.6l.6-2.8l.5 .1l.6-1.4l.5 4l.6-3.3l.5-2.1l.6 2.2l.5-2.2l.6 .2l.5-1.2l.6 .9l.5 2l.5-1.7l.6-.2l.5 2.6l.6-6.5l.5 0l.6-.7l.5 1l.6 .7l.5-.7l.6 2.1l.5-2.4l.6-5.2l.5-.3l.6 2.7l.5-.2l.6-1.2l.5 1.6l.6-7l.5 5.7l.6 3.7l.5-3.2l.6 1.5l.5 2.9l.6-9.1l.5 1l.6-1.4l.5 1.5l.6-3.1l.5-1.9l.6-.7l.5 1.4l.6 2.4l.5-.3l.6-2.4l.5 0l.6-1.3l.5-4.1l.6 2l.5-2.6l.5 6.3l.6-2.9l.5 .2l.6-.9l.5-4.7l.6-.5l.5-.1l.6-.6l.5 5.1l.6-2.8l.5 3.3l.6-.5l.5-7.6l.6-.8l.5-3.8l.6 1l.5 2.2l.6 2l.5-2l.6-2l.5 2l.6-.3l.5-.2l.6 1.3l.5-5.4l.6 .4l.5-4.1l.6 .7l.5-2.9l.6-2.5l.5 1.1l.6-3.6l.5 2.4l.6 2.1l.5 1.5l.6 .9l.5-9.4l.5 2.3l.6 2.4l.5-4.8l.6 5.7l.5-2.9l.6-1l.5-.4l.6 1.6l.5-7l.6 4.9l.5-1.8l.6-1.2l.5 2.7l.6-2.3l.5-1.8l.6-3.3l.5 2.1l.6-1.7l.5 1l.6 2.5l.5 5.4l.6-6.1l.5 1.9l.6-3.3l.5 3.9l.6-3.6l.5-3.5l.6-3.2l.5 5.3l.6-.4l.5-2.5l.6 2.9l.5 1.3l.6-1.2l.5 .1l.6-7l.5-.7l.6-2.2l.5 1.3l.5-.4l.6 .6l.5-1.8l.6 3.3l.5-1.6l.6 3.2l.5-2.4l.6 3.8l.5-8l.6 .8l.5 .8l.6 .6l.5 2.8l.6-5.4l.5 .8l.6 1.8l.5-.2l.6 1.4l.5 1.8l.6-.4l.5-5.2l.6-1.1l.5 1.6l.6-4.1l.5 2.3l.6 .3l.5 3.3l.6-3.2l.5-.8l.6 2l.5 1.5l.6-7.8l.5 .5l.6 1.7l.5-3.8l.6 .8l.5 1.5l.6 .3l.5-1.1l.5-1.4l.6 3.1l.5 .5l.6-1.6l.5 6.2l.6-1.9l.5 .8l.6-.8l.5 .2l.6-.8l.5 .3l.6 0l.5 .2l.6-5.5l.5 1.6l.6-3.1l.5 4.8l.6-.5l.5-.7l.6 3l.5-1.8l.6-5.3l.5 2.5l.6 1.2l.5 3.7l.6-4.5l.5 .2l.6-1.2l.5-2.9l.6 2.2l.5-.5l.6 1.3l.5-1.4l.6 1.4l.5-1.7l.6 .2l.5 2.2l.5-5.4l.6-3.7l.5 4.2l.6-3.5l.5 2.3l.6 1.6l.5 .6l.6-2.4l.5 .4l.6 .8l.5 .5l.6-2.4l.5 1.1l.6-1.5l.5 3.7l.6 .1l.5-1.9l.6-1.2l.5 2l.6-3l.5 5.5l.6 2.6l.5 3.9l.6-2.1l.5-8.2l.6 3l.5-.3l.6 1.2l.5-1.1l.6 4.5l.5 .3l.6-.6l.5-4.2l.6-1.1l.5 .6l.6 1.3l.5 2.4l.6-3.8l.5 2.1l.5-.3l.6 1.7l.5 .9l.6 .6l.5-.1l.6 .3l.5-2.8l.6 1l.5-2.1l.6 6.3l.5-5.8l.6 2.2l.5 0l.6-.3l.5-.1l.6 1.1l.5-4.7l.6 2.9l.5-2l.6-.3l.5 2.3l.6 .2l.5 0l.6-2.7l.5 1.5l.6-1.2l.5-1.2l.6 1.3l.5-4.2l.6 4.8l.5-4.2l.6-.5l.5 4.6l.6-6.9l.5 .9l.6-1.3l.5 3.8l.6 1.4l.5 2.2l.5-1.4l.6-3.5l.5 1.5l.6 3.8l.5-1.7l.6-.7l.5-6.1l.6 4.7l.5 4.3l.6-2.3l.5 9.9l.6 2.5l.5 4.9l.6-1.5l.5 5.1l.6 6.2l.5 1.1l.6 2.1l.5 .5l.6-.4l.5 1.4l.6-1.7l.5-8.5l.6 2.5l.5-.3l.6-2.5l.5-3.1l.6-4.8l.5-2.3l.6 1.5l.5-1.2l.6 1.1l.5-.9l.6 2.2l.5-1l.6 1.5l.5-3.1l.6 1.1l.5 2.4l.5 1.9l.6 .2l.5-.8l.6 1.7l.5 .5l.6 2l.5-1.7l.6-2.8l.5 3.3l.6-3.4l.5 3.2l.6-6.8l.5 3.7l.6-3.1l.5 4.7l.6-1.2l.5 1.3l.6 3.3l.5-1l.6-2.2l.5 1.4l.6-1.3l.5 2.2l.6 2.2l.5-5.7l.6 1.7l.5 0l.6 4.3l.5 .8l.6 .7l.5-3.6l.6-2.3l.5 2.6l.6 0l.5-2.1l.6 1.1l.5 .8l.5 3.2l.6-1l.5 5.3l.6 2l.5-4.8l.6 2.8l.5 1.2l.6 1.5l.5-2.7l.6-2l.5 .2l.6-.2l.5 4.6l.6-2.2l.5 3.5l.6-1.9l.5 3.3l.6 2.3l.5-4.3l.6 1.2l.5-3l.6 1.9l.5 4.4l.6 .8l.5-.7l.6 3.1l.5-1.8l.6 2.5l.5-5.2l.6 1.9l.5 1.5l.6 1.8l.5-2.5l.6 5.6l.5-2.6l.6 4.4l.5-.1l.6 2.1l.5-1.1l.5 1.3l.6-.8l.5 2.6l.6 .3l.5-3.1l.6-.7l.5 1.7l.6 5.4l.5-.2l.6 4.6l.5-2l.6-4.7l.5 1.9l.6 3.1l.5-2.6l.6 2.6l.5-1l.6 4.7l.5-1.1l.6-2.7l.5 .6l.6 .2l.5 1.6l.6 4l.5-.6l.6-.2l.5 5.1l.6-6.4l.5 .4l.6-.1l.5-1l.6 8.2l.5-2.9l.6 4.9l.5-1.3l.6 1.5l.5 .1l.6 1.2l.5 .4l.5-3.7l.6 .5l.5 3.5l.6-.2l.5-1.7l.6-1.2l.5-.3l.6-2.9l.5 8.7l.6 2.3l.5-1.2l.6-.4l.5 2.7l.6 2.9l.5-1.2l.6 .5l.5 1.7l.6 .2l.5-3.9l.6 7l.5-2.8l.6 1.3l.5-2.5l.6 2l.5 2.7l.6-3.5l.5 4l.6-4.2l.5-1.8l.6 3.8l.5-1.1l.6 1.6l.5 4.5l.6-3.2l.5 1.8l.6-.3l.5 .5l.6-.1l.5 1.3l.5 2.6l.6-.1l.5 0l.6 1.5l.5 .8l.6-2.6l.5 3.4l.6-1.8l.5 5.9l.6-1.9l.5 1.6l.6 .8l.5 .6l.6 .5l.5 1.5l.6-3.3l.5 2.9l.6 5.5l.5 .5l.6-1.5l.5 1.2l.6 2.7l.5-1.5l.6 5.7l.5-.4l.6-6.5l.5 9.4l.6-3.1l.5-.9l.6 6.6l.5 2.5l.6 1.6l.5 3.5l.6 .9l.5-1.2l.6 2.5l.5 .3l.5-1.5l.6 2.9l.5 7.2l.6 1.2l.5 6.9l.6 3.6l.5 4.8l.6 6l.5 .2l.6 3.3l.5 .7l.6 6.8l.5-.9l.6 3.6l.5 3.4l.6 0l.5 7.2l.6-1.1l.5 2.3l.6 3.4l.5-3.3l.6 1.8l.5 2.8l.6 1l.5-1.3l.6 5l.5 3.8l.6 .9l.5-.8l.6 2.3l.5 4.1l.6-4.3l.5 4l.6-1.7l.5 1.8l.6 3.8l.5-.4l.6 2.4l.5 1.1l.5-.1l.6-.5l.5-.7l.6 4.7l.5-2.5l.6-1.1l.5 1l.6-2.1l.5 3.3l.6 .2l.5 3.7l.6 1.6l.5-2.7l.6 4.4l.5 0l.6-1.4l.5 .2l.6-3.2l.5 3.7l.6-.7l.5-3l.6 4.5l.5 3.4l.6-1.9l.5 .6l.6-4.2l.5 3.7l.6-3.6l.5 3.8l.6-2.5l.5 1.4l.6 4.1l.5-.8l.6 1.7l.5-.9l.6 5.4l.5-.7l.6 .8l.5 1.2l.5 3.8l.6 .7l.5-4.5l.6 3.6l.5-1.4l.6-.4l.5 2.3l.6 6l.5-6.3l.6 1l.5 0l.6 1.9l.5 5.7l.6-4.8l.5 4.3l.6-.2l.5 3l.6 1.1l.5-.9l.6-2.5l.5 3.6l.6 2.1l.5 3l.6-2.1l.5 2.1l.6 .9l.5 3.6l.6 1.7l.5 2.6l.6 .8l.5-2.5l.6 .1l.5 1.3l.6 2.2l.5 5.1l.6-1.9l.5 1.1l.6 4.9l.5-1.1l.5 1.6l.6 3.5l.5-4l.6-2.1l.5 3.2l.6 .1l.5-3.2l.6 .6l.5-.2l.6-1.1l.5-1.6l.6 1.5l.5 2.2l.6-.3l.5-.6l.6 5.4l.5 .9l.6 .6l.5-3.3l.6-1.2l.5-4.1l.6 7.1l.5 5.4l.6 1.9l.5 2.2l.6 2.8l.5 2.8l.6 2.9l.5-.2l.6-4l.5-5.4l.6 2.9l.5-2.6l.6-4.6l.5-3.5l.6-.2l.5-3.3l.5 2.5l.6 .8l.5-4.9l.6 .5l.5-1.5l.6 .7l.5 9.7l.6-4.4l.5 3.1l.6 3.2l.5-5.1l.6 1.5l.5 .8l.6 2.2l.5 .3l.6-1l.5 2.8l.6-2.1l.5 .2l.6 1l.5-.4l.6 1.2l.5 .1l.6 .3l.5-1.8l.6-1.1l.5 2.6l.6 1.7l.5-.8l.6 4.1l.5 .7l.6-.7l.5-.2l.6 1l.5 .8l.6 2.2l.5-.7l.6-1.1l.5 3.6l.5-1l.6-1.4l.5-3.2l.6-.6l.5-1.5l.6 .7l.5 3.5l.6 .9l.5 2.2l.6-4.2l.5 1.1l.6 .3l.5 0l.6 .6l.5 .7l.6 .9l.5-1.5l.6 3.9l.5 .7l.6-1.8l.5-2l.6 1.9l.5 1.1l.6-2.6l.5 1.6l.6 4l.5-1.5l.6 5.5l.5-3.3l.6 .6l.5-1.4l.6-8.5l.5 5.3l.6-.9l.5 .9l.6 8.5l.5-3.7l.6 .1l.5-1.7l.5 1.9l.6 1.1l.5-3.4l.6 1.4l.5-1.3l.6-.1l.5-.7l.6-1.9l.5 .8l.6 5.3l.5-4.5l.6 2.3l.5-.2l.6-.9l.5 3.8l.6-3.3l.5 5.2l.6-1.4l.5 .9l.6-4.6l.5 1.8l.6 1.9l.5 .6l.6 2.1l.5-6.9l.6 .9l.5 1.1l.6 2l.5-1l.6-.3l.5-2.5l.6 4.5l.5 1.4l.6-2.6l.5 1.4l.6-1.7l.5-1.2l.5-.1l.6-1.9l.5 1.3l.6 4.5l.5 1.5l.6 1.7l.5-5.6l.6 2.9l.5 .5l.6-3.1l.5 3.2l.6-1.2l.5-1.5l.6-1.1l.5-.7l.6 .3l.5-.9l.6 1.9l.5-.9l.6-.3l.5 .9l.6-2l.5 0l.6-.6l.5 2.2l.6 2.4l.5-2.5l.6 1.9l.5-3.4l.6 6l.5-2l.6 1.2l.5-1.5l.6 .4l.5 2.6l.6-.6l.5-3.9l.6-2.5l.5 0l.5 3.1l.6-1.8l.5 2.4l.6 .9l.5-4.6l.6 .9l.5 1.8l.6-.1l.5-5.3l.6 1l.5 1l.6-1.3l.5 2l.6 .6l.5 .4l.6-3.2l.5 4.6l.6 1.2l.5-5.7l.6 .9l.5-5.9l.6 .9l.5-.6l.6 2.9l.5 2.5l.6-.7l.5 .8l.6-1.4l.5 2.8l.6-1.9l.5 3.1l.6-3l.5-3l.6 1.2l.5-1.9l.6-.9l.5 1.1l.6-2.9l.5 2.8l.5-3.1l.6 3.9l.5 2.2l.6-4l.5 5l.6-3.2l.5 .6l.6-1.5l.5 4.1l.6-1.7l.5-.9l.6-1.8l.5-.3l.6-3.5l.5 .3l.6 .6l.5 1l.6 .3l.5-1.9l.6-1.2l.5 2.6l.6-2.3l.5 4.2l.6-4.1l.5 3.2l.6-3.9l.5 2l.6-.2l.5-1l.6-5.8l.5 3.6l.6-2.6l.5 .6l.6 3.7l.5-.3l.6-.8l.5 3.2l.6-4.2l.5-.7l.5 1.4l.6-1.9l.5 3.7l.6-3.8l.5 2l.6-1.5l.5-8.2l.6-1.2l.5 2.4l.6-.5l.5-3l.6 6.5l.5-8.5l.6-.5l.5 5.1l.6-4.8l.5 .9l.6-.8l.5 6.2l.6-4l.5-1.2l.6-.2l.5-2l.6-.8l.5 4.1l.6-5.5l.5 4.7l.6-1.6l.5 .4l.6-1.4l.5-4.7l.6-3.2l.5 4.4l.6-5l.5 5.7l.6 .7l.5 .7l.5-4.7l.6 3.9l.5-4.9l.6 .7l.5 1.2l.6-1.2l.5-2.5l.6 .1l.5-1.5l.6 .4l.5 .6l.6-2.4l.5 2.8l.6-5.7l.5 1.1l.6 1.7l.5-.6l.6-1.9l.5 2.4l.6-6.4l.5 .4l.6 4.1l.5-2.5l.6-4.1l.5 1.6l.6 3.8l.5 1.4l.6-1.7l.5-6l.6-1.7l.5 2.3l.6-4.5l.5 1.2l.6 1.1l.5-1l.6-.9l.5-4.7l.6 2.1l.5-1.8l.5-4l.6-1l.5 7.2l.6-6.4l.5 1l.6 4.1l.5-4l.6 5.4l.5-4.7l.6 2.8l.5-3.2l.6-5.6l.5 .2l.6 .2l.5-5.3l.6-.2l.5-.3l.6 .8l.5-1.1l.6 .4l.5-.2l.6-.1l.5-.1l.6 1.6l.5-2.9l.6 .5l.5-6.6l.6 3.5l.5-1.6l.6-1.6l.5-1.5l.6 0l.5 .1l.6-4.7l.5 3.5l.6-1.3l.5-5.2l.6 6.1l.5-2.6l.5 .3l.6 2.3l.5-2.2l.6-4.6l.5 3.4l.6-3.3l.5-3l.6 1.1l.5-1.9l.6 .9l.5-1l.6 .4l.5-1.5l.6-2.7l.5 .1l.6-3.7l.5 1.7l.6-.4l.5-4.6l.6 1.5l.5 .4l.6-2.7l.5 1.4l.6-5.2l.5-2.5"/>
<path stroke="#ff0000" stroke-width="6.5" stroke-linejoin="round" d="M247.5 455.3l1.2-1.3l1.2-4.5l1.3-7.7l1.2-7.6l1.2-15.7l1.2-17.1l1.2-17.1l1.3-17.1l1.2-18.7l1.2-19.4l1.2-19.5l1.2-19.9l1.3-19.9l1.2-6.7l1.2-2.3l1.2-.2l1.2 .1l1.2-1.4l1.3 .2l1.2-.8l1.2-.6l1.2-2.9l1.2-2.2l1.3-2.1l1.2-2.7l1.2-2.8l1.2-6.9l1.2-2l1.3 4.2l1.2 4.6l1.2 4.1l1.2 2.1l1.2 2.1l1.3 1.8l1.2-1.5l1.2-1l1.2-.7l1.2-.7l1.3-1.6l1.2 .8l1.2 0l1.2 .3l1.2-.3l1.3 .4l1.2 .1l1.2 .6l1.2 .3l1.2-.3l1.2-.2l1.3 .4l1.2-.1l1.2 .3l1.2-.3l1.2 .1l1.3 0l1.2 .2l1.2-.3l1.2 .6l1.2 .1l1.3 .1l1.2-.3l1.2 .4l1.2 .1l1.2-.4l1.3-.1l1.2 .3l1.2 1l1.2-.5l1.2 .1l1.3 .1l1.2-.2l1.2-.6l1.2 .7l1.2 .2l1.3-.4l1.2 .3l1.2 0l1.2 .3l1.2-.1l1.2-.1l1.3 .8l1.2 0l1.2-.8l1.2 .2l1.2 .4l1.3 .2l1.2-.1l1.2 .3l1.2-.2l1.2-.5l1.3 .5l1.2-.2l1.2 .5l1.2-.1l1.2-.3l1.3 .9l1.2-.2l1.2 0l1.2-.1l1.2-.3l1.3 .4l1.2 .7l1.2-.3l1.2 .3l1.2 0l1.2-.8l1.3 1l1.2-.3l1.2 .4l1.2-.4l1.2 .2l1.3 .1l1.2 .2l1.2-.3l1.2 .7l1.2 0l1.3 .2l1.2-.7l1.2 .6l1.2 .3l1.2-.1l1.3-.8l1.2 .8l1.2-.2l1.2 .2l1.2 .2l1.3 .3l1.2 0l1.2 0l1.2 .7l1.2-1.4l1.3 .6l1.2 .3l1.2 .2l1.2 .2l1.2-.4l1.2 .4l1.3-.1l1.2 .6l1.2-.5l1.2-.4l1.2 .8l1.3-.3l1.2 .3l1.2-.2l1.2 .1l1.2 .3l1.3 .3l1.2-.2l1.2 .2l1.2 .2l1.2-.2l1.3 .1l1.2 .4l1.2-.1l1.2-.9l1.2 .7l1.3 .3l1.2-.6l1.2 .9l1.2 .7l1.2-.1l1.3-.1l1.2-.4l1.2-.2l1.2 1l1.2-.9l1.2 .8l1.3-.4l1.2 0l1.2 .1l1.2 .2l1.2 0l1.3 .4l1.2-.3l1.2-.2l1.2 .1l1.2-.5l1.3 .6l1.2 .1l1.2-.2l1.2 .5l1.2 .5l1.3 .3l1.2-1l1.2 .3l1.2 0l1.2 .4l1.3-.2l1.2-.4l1.2 .5l1.2 .5l1.2-.1l1.3-.5l1.2 .8l1.2 .4l1.2 0l1.2-.2l1.2-.6l1.3 .2l1.2 .3l1.2 .2l1.2-.3l1.2 .1l1.3 .1l1.2 0l1.2 .2l1.2-.8l1.2 1.3l1.3-.7l1.2 .4l1.2-.5l1.2 .3l1.2-.1l1.3 0l1.2 .1l1.2-.2l1.2 .7l1.2-.6l1.3 .3l1.2-.1l1.2-.3l1.2 .1l1.2-.2l1.2 1.3l1.3-.4l1.2-.5l1.2 .6l1.2-.3l1.2-.5l1.3 .3l1.2 .5l1.2-.4l1.2 0l1.2 .2l1.3 0l1.2 0l1.2 .5l1.2-.5l1.2 .3l1.3-.4l1.2 0l1.2 .4l1.2-.4l1.2 .1l1.3 .1l1.2-.2l1.2 .3l1.2 0l1.2-.1l1.3 0l1.2-.3l1.2 1l1.2-.6l1.2 .5l1.2-.5l1.3-.2l1.2 .1l1.2-.3l1.2 .2l1.2 .9l1.3-.5l1.2-.8l1.2 0l1.2 .4l1.2 .5l1.3-1.2l1.2 1.3l1.2-.7l1.2 0l1.2-.1l1.3 .4l1.2-.2l1.2-.5l1.2 .5l1.2 .2l1.3-.4l1.2-.1l1.2 .1l1.2 .1l1.2-.4l1.3 .2l1.2 .3l1.2-.5l1.2 .1l1.2-.1l1.2 .5l1.3-.3l1.2-.4l1.2-.2l1.2 .1l1.2 .1l1.3-.2l1.2-.2l1.2-.2l1.2 .3l1.2 .3l1.3-.4l1.2 .7l1.2-.6l1.2 .1l1.2-.2l1.3-.2l1.2 .1l1.2 .4l1.2-.4l1.2 .1l1.3-.3l1.2-.2l1.2 .4l1.2-.6l1.2-.2l1.3 .4l1.2-.3l1.2 .6l1.2-.4l1.2-.5l1.2 .8l1.3-.5l1.2 .1l1.2-.7l1.2 0l1.2 .4l1.3-.2l1.2 .7l1.2-1.1l1.2 .1l1.2-.3l1.3 1l1.2-.9l1.2 .2l1.2 .6l1.2-.7l1.3-.2l1.2-.3l1.2 .1l1.2 .1l1.2-.3l1.3 .1l1.2 .1l1.2 0l1.2-.4l1.2-.1l1.3-.5l1.2 .6l1.2-.7l1.2 .3l1.2-.3l1.2 .5l1.3-.1l1.2-.2l1.2-.4l1.2 .1l1.2-.2l1.3 0l1.2-.3l1.2 .2l1.2 .2l1.2-.4l1.3 0l1.2-.5l1.2 .5l1.2-.2l1.2 .1l1.3-.6l1.2 .1l1.2-.1l1.2 .5l1.2 0l1.3-.6l1.2-.2l1.2-.3l1.2 .9l1.2-.5l1.3 .3l1.2-.2l1.2-.3l1.2-.5l1.2 .4l1.2 0l1.3-.2l1.2-.6l1.2-.4l1.2 1.1l1.2-.4l1.3 0l1.2-.6l1.2 .1l1.2-.4l1.2 .7l1.3-.4l1.2 .1l1.2 .1l1.2-.3l1.2 .2l1.3-1.1l1.2 .5l1.2 .3l1.2-.1l1.2-.8l1.3 .6l1.2-.4l1.2-.1l1.2-.2l1.2 .1l1.2 .1l1.3 .1l1.2 .3l1.2-.6l1.2-.1l1.2 0l1.3-.1l1.2 .3l1.2-1.1l1.2 .7l1.2 .1l1.3-.2l1.2-.2l1.2-.3l1.2 .9l1.2-1l1.3 .3l1.2-.2l1.2-.4l1.2 0l1.2 .4l1.3-.2l1.2-.7l1.2 .1l1.2 .1l1.2 .2l1.3-.4l1.2 .2l1.2 .2l1.2 .1l1.2-.5l1.2-.1l1.3-.3l1.2 .5l1.2-.6l1.2 .5l1.2-.6l1.3 .2l1.2 .3l1.2 0l1.2-.3l1.2 0l1.3-.4l1.2 .5l1.2 .2l1.2-.5l1.2-.6l1.3 0l1.2 .6l1.2-.1l1.2-.2l1.2 .2l1.3-.1l1.2-.1l1.2 .2l1.2-.1l1.2-.1l1.3-.2l1.2 .3l1.2-.4l1.2 .3l1.2-.1l1.2 .1l1.3-1.6l1.2 .8l1.2 0l1.2 .1l1.2 .3l1.3-.1l1.2-.1l1.2-.1l1.2 0l1.2-.3l1.3 1.3l1.2-.8l1.2-.3l1.2 .2l1.2 0l1.3-.5l1.2 .3l1.2-.4l1.2 .5l1.2-.1l1.3 .4l1.2 .2l1.2-.4l1.2-.2l1.2 .1l1.3 .3l1.2-.6l1.2 .2l1.2 0l1.2 .2l1.2-.7l1.3 0l1.2 .4l1.2 .1l1.2-.1l1.2-.4l1.3-.3l1.2 .8l1.2 .1l1.2 .5l1.2-1.4l1.3 1.2l1.2-.6l1.2 .1l1.2-.2l1.2 .6l1.3 .3l1.2-.5l1.2-.1l1.2-.2l1.2 .9l1.3-.4l1.2 0l1.2 .3l1.2-.3l1.2-.3l1.2 .3l1.3 .4l1.2-.5l1.2-.1l1.2 .1l1.2 0l1.3 .7l1.2-.6l1.2 0l1.2 .3l1.2 0l1.3 .2l1.2-.5l1.2 .4l1.2 .3l1.2-.3l1.3 0l1.2-.1l1.2 .5l1.2 0l1.2-.3l1.3-.5l1.2 .6l1.2 .5l1.2-.4l1.2 .4l1.3 .3l1.2-.3l1.2 0l1.2-.2l1.2-.2l1.2 .1l1.3 .1l1.2 .4l1.2-.1l1.2 .1l1.2-.4l1.3 .7l1.2 0l1.2-.5l1.2 .3l1.2 .4l1.3-.2l1.2 .1l1.2 0l1.2-.1l1.2 .2l1.3 .2l1.2 .2l1.2 .4l1.2-.3l1.2-.4l1.3 .3l1.2 .3l1.2 0l1.2 .2l1.2-.3l1.3-.4l1.2 .1l1.2 .3l1.2 .1l1.2 .4l1.2 .4l1.3-.3l1.2 .2l1.2-.3l1.2 .2l1.2 .3l1.3-.2l1.2-.7l1.2 1.2l1.2-.5l1.2 .2l1.3 .3l1.2 .3l1.2-.2l1.2 0l1.2-.1l1.3 .1l1.2 .2l1.2 .4l1.2-.3l1.2 .3l1.3 .3l1.2-.5l1.2 .5l1.2 .3l1.2-.4l1.3 .7l1.2-.5l1.2 0l1.2 .3l1.2-.1l1.2-.5l1.3 .3l1.2 .2l1.2 .2l1.2 .4l1.2-.1l1.3 .2l1.2-.1l1.2 .1l1.2 .3l1.2-.6l1.3 .9l1.2-.4l1.2-.1l1.2 .4l1.2 .2l1.3-.1l1.2-.5l1.2 .5l1.2 .3l1.2-.2l1.3 .3l1.2 .6l1.2-.5l1.2-.2l1.2 0l1.3 .5l1.2 .4l1.2-.7l1.2 .5l1.2-.2l1.2 0l1.3 .3l1.2 .2l1.2 .2l1.2 0l1.2 0l1.3 .2l1.2-.2l1.2 .8l1.2-.3l1.2-.2l1.3 .3l1.2 0l1.2 .3l1.2-.5l1.2-.2l1.3 .8l1.2-.6l1.2 .9l1.2-.4l1.2 .7l1.3-.7l1.2 .2l1.2 0l1.2-.2l1.2 .2l1.3 .3l1.2 .3l1.2-.2l1.2 .2l1.2 0l1.2-.5l1.3 .2l1.2 .3l1.2-.1l1.2 .7l1.2-.4l1.3 .6l1.2-.3l1.2-.2l1.2 0l1.2 0l1.3 .2l1.2 .1l1.2 0l1.2-.3l1.2 .1l1.3 .8l1.2-.4l1.2-.3l1.2 .5l1.2-.1l1.3 .3l1.2 .2l1.2-.3l1.2 .2l1.2-.1l1.2 .5l1.3-.1l1.2-.2l1.2 .1l1.2-.3l1.2 .5l1.3-.4l1.2 0l1.2 .2l1.2-.1l1.2 .2l1.3 .1l1.2 0l1.2 .4l1.2-.4l1.2-.2l1.3 .8l1.2-.7l1.2 .4l1.2 0l1.2-.2l1.3 0l1.2-.3l1.2 .5l1.2-.6l1.2 .6l1.3-.2l1.2 0l1.2 .4l1.2 .2l1.2-.4l1.2-.1l1.3-.1l1.2 .4l1.2-.6l1.2 .5l1.2 .2l1.3-.5l1.2-.1l1.2 .7l1.2-.5l1.2 .6l1.3-.4l1.2-.7l1.2 .3l1.2 .2l1.2 0l1.3 .4l1.2-.3l1.2-.1l1.2 .5l1.2-.4l1.3-.1l1.2 .1l1.2-.1l1.2 .2l1.2 .3l1.3-.4l1.2 .6l1.2-.4l1.2-.6l1.2-.2l1.2 .4l1.3 .8l1.2-1.1l1.2 .2l1.2 .2l1.2-.3l1.3 .1l1.2 .4l1.2 .1l1.2-.8l1.2 1l1.3-.9l1.2 .1l1.2-.3l1.2-.2l1.2 .1l1.3-.1l1.2 .2l1.2 0l1.2-.2l1.2 .3l1.3 .2l1.2-.2l1.2 .4l1.2-.4l1.2-.8l1.3 .4l1.2 .2l1.2 .1l1.2 .3l1.2-.4l1.2 0l1.3-.3l1.2 0l1.2 0l1.2 .5l1.2-1.1l1.3 .3l1.2 .1l1.2 0l1.2-.3l1.2-.3l1.3 .2l1.2 .5l1.2-.1l1.2 .3l1.2-.8l1.3-.2l1.2-.2l1.2 .3l1.2-.3l1.2 .5l1.3-.5l1.2 .1l1.2 .1l1.2 .3l1.2-.9l1.2 .9l1.3-.9l1.2 .4l1.2-.5l1.2 .3l1.2-.5l1.3 .2l1.2 .2l1.2-.2l1.2 .3l1.2-.7l1.3-.3l1.2 .2l1.2 0l1.2-.4l1.2 .6l1.3-.6l1.2 .1l1.2 .1l1.2-.4l1.2 .5l1.3-.4l1.2-.2l1.2 .4l1.2-.4l1.2-.3l1.3-.2l1.2 .5l1.2-.6l1.2 .3l1.2-.2l1.2 .1l1.3-.5l1.2 .4l1.2-.4l1.2-.1l1.2-.1l1.3 .4l1.2-.6l1.2 .2l1.2-.5l1.2 .4l1.3 0l1.2-.2l1.2 0l1.2-.1l1.2 .2l1.3 .2l1.2-.3l1.2-.3l1.2-.4l1.2 .2l1.3 .1l1.2-.3l1.2-.2l1.2-.9l1.2 .4l1.3 .3l1.2 .4l1.2-.5l1.2 0l1.2-.3l1.2-.6l1.3 .6l1.2 .5l1.2-.6l1.2 .4l1.2-.9l1.3-.1l1.2 .1l1.2 .5l1.2-.5l1.2-.4l1.3 .5l1.2-.1l1.2-.4l1.2-.1l1.2 0l1.3-.1l1.2 0l1.2 .1l1.2-.2l1.2-.2l1.3 .4l1.2-.5l1.2 0l1.2-.2l1.2 0l1.3 .3l1.2 0l1.2-.5l1.2 .1l1.2-.2l1.2 .1l1.3 .2l1.2-.5l1.2 0l1.2-.3l1.2-.2l1.3 0l1.2-.1l1.2 .6l1.2 .3l1.2-.6l1.3 .2l1.2-.1l1.2-.6l1.2 .6l1.2-.8l1.3-.1l1.2-.5l1.2 .4l1.2-.4l1.2 .8l1.3 0l1.2-.6l1.2 .6l1.2-.7l1.2 .3l1.3 .5l1.2-1.2l1.2 .8l1.2-1.1l1.2 1.2l1.2-.3l1.3-.3l1.2 0l1.2 .4l1.2-.5l1.2-.1l1.3-.1l1.2 .6l1.2-.4l1.2-.2l1.2-.3l1.3 .2l1.2 .1l1.2 0l1.2-.6l1.2 .6l1.3-.3l1.2 .7l1.2-1.2l1.2 .3l1.2 .7l1.3-.8l1.2-.2l1.2 .1l1.2 .2l1.2-.2l1.3 .4l1.2-.2l1.2 0l1.2-.1l1.2 .3l1.2-.7l1.3 .4l1.2 .3l1.2-.3l1.2-.2l1.2 .1l1.3-.3l1.2 .4l1.2 .1l1.2-.4l1.2-.2l1.3 .6l1.2 .2l1.2-.3l1.2-.2l1.2 .3l1.3-.3l1.2 .3l1.2-.6l1.2 .6l1.2 0l1.3-.3l1.2-.2l1.2-.1l1.2 .5l1.2-.2l1.2-.2l1.3-.2l1.2 .7l1.2 .1l1.2-.5l1.2 .2l1.3-.4l1.2 .4l1.2-.1l1.2 .3l1.2-.3l1.3-.2l1.2 .4l1.2 .3l1.2-.6l1.2 .4l1.3-.1l1.2 .3l1.2-.5l1.2 .5l1.2 0l1.3-.2l1.2 .1l1.2 .7l1.2-.8l1.2 .5l1.3-.4l1.2 .2l1.2 0l1.2 .2l1.2 .1l1.2-.3l1.3 0l1.2-.2l1.2 .2l1.2 .4l1.2-.5l1.3-.3l1.2 .5l1.2 .3l1.2 .3l1.2-.3l1.3 .5l1.2-.6l1.2 .3l1.2 .1l1.2-.2l1.3 .5l1.2 .2l1.2-.3l1.2-.4l1.2 .6l1.3-.4l1.2 .8l1.2-.5l1.2-.1l1.2-.3l1.3 1.1l1.2-.5l1.2 .3l1.2-.3l1.2 .4l1.2-.2l1.3 .3l1.2 0l1.2-.2l1.2-.3l1.2 .5l1.3 .1l1.2 .2l1.2-.6l1.2 1.2l1.2 0l1.3-.3l1.2-.3l1.2-.1l1.2 .2l1.2 0l1.3 .3l1.2 .2l1.2 .3l1.2-.4l1.2 .5l1.3-.4l1.2 0l1.2 .5l1.2 0l1.2 .1l1.3-.3l1.2 .2l1.2 .3l1.2-.2l1.2-.3l1.2 .5l1.3 .1l1.2 .2l1.2 .2l1.2-.2l1.2 .1l1.3 .2l1.2-.4l1.2 .5l1.2 0l1.2 0l1.3 0l1.2 .7l1.2-.5l1.2-.2l1.2 .8l1.3-.4l1.2 .3l1.2 .2l1.2-.2l1.2 .1l1.3 .7l1.2-.4l1.2-.3l1.2 .5l1.2 .1l1.2 0l1.3 .1l1.2-.3l1.2 .5l1.2 .2l1.2-.4l1.3-.1l1.2 .2l1.2 0l1.2 .5l1.2 .3l1.3-.1l1.2-.1l1.2 .5l1.2-.3l1.2-.2l1.3 .4l1.2-.7l1.2 .5l1.2 .6l1.2 .1l1.3-.1l1.2-.3l1.2 .1l1.2 .4l1.2-.2l1.3-.1l1.2 .2l1.2 .7l1.2-.1l1.2 0l1.2 .3l1.3-.7l1.2 .5l1.2 .1l1.2 .1l1.2-.2l1.3 0l1.2 0l1.2-.1l1.2 .7l1.2-.7l1.3-.2l1.2 1l1.2 0l1.2-.2l1.2-.2l1.3 .5l1.2 .3l1.2-.8l1.2 .8l1.2 .7l1.3-.9l1.2-.1l1.2-.1l1.2 0l1.2-.3l1.3 1.1l1.2 .2l1.2 .2l1.2-.9l1.2 .7l1.2 .4l1.3 .2l1.2-.6l1.2 .2l1.2-.2l1.2 .4l1.3 .1l1.2-.4l1.2 .3l1.2-.2l1.2 .3l1.3 .1l1.2-.2l1.2 .3l1.2-.1l1.2-.1l1.3 .3l1.2 0l1.2-.1l1.2-.1l1.2 .2l1.3 0l1.2 0l1.2 .3l1.2-.2l1.2 .4l1.3 .3l1.2-.6l1.2 .7l1.2-.5l1.2-.5l1.2 .3l1.3 .6l1.2-.5l1.2 .1l1.2 .4l1.2-.2l1.3 .1l1.2 0l1.2-.2l1.2 .6l1.2-.7l1.3-.3l1.2 .7l1.2 .2l1.2-.1l1.2-.5l1.3 .5l1.2-.2l1.2-.6l1.2 .9l1.2-.2l1.3 .2l1.2 0l1.2-.2l1.2 .3l1.2-.4l1.3 .1l1.2-.3l1.2 .2l1.2 .1l1.2-.4l1.2 .6l1.3-.3l1.2 .4l1.2-.6l1.2 .6l1.2-.5l1.3 .5l1.2-.3l1.2 .4l1.2-.1l1.2 0l1.3-.4l1.2 0l1.2-.1l1.2 .1l1.2 .1l1.3-.2l1.2-.3l1.2 .6l1.2 0l1.2-.4l1.3-.4l1.2 .6l1.2 0l1.2 .2l1.2-.1l1.3 .1l1.2-.1l1.2-.6l1.2-.1l1.2 .3l1.2 0l1.3-.2l1.2 .2l1.2-.1l1.2-.2l1.2 .2l1.3-.4l1.2-.6l1.2 .9l1.2-.1l1.2 .3l1.3-.2l1.2-.2l1.2-.1l1.2 .1l1.2 .3l1.3-.5l1.2 .2l1.2-.3l1.2 .1l1.2 0l1.3-.1l1.2 .6l1.2-1.1l1.2 .6l1.2-.4l1.2-.1l1.3 .3l1.2 .1l1.2-.6l1.2 .4l1.2-.3l1.3-.2l1.2 .2l1.2 .3l1.2-.3l1.2-.4l1.3 .3l1.2-.5l1.2 .6l1.2-.2l1.2 .2l1.3-.3l1.2-.8l1.2 .2l1.2 .2l1.2 0l1.3-.5l1.2 .3l1.2 .2l1.2-.8l1.2 .7l1.3-.5l1.2-.2l1.2-.1l1.2-.4l1.2 .3l1.2 .4l1.3-.6l1.2 .1l1.2 .4l1.2-.1l1.2-.1l1.3 .3l1.2-.8l1.2-.1l1.2-.1l1.2 .3l1.3-.3l1.2-.4l1.2 .2l1.2 0l1.2 .2l1.3-.3l1.2-.5l1.2 .3l1.2-.7l1.2-.1l1.3 .4l1.2 .6l1.2-.5l1.2-.5l1.2 .5l1.3-.1l1.2-.2l1.2-.9l1.2 .8l1.2 .4l1.2-.7l1.3-.1l1.2-.2l1.2 .1l1.2-.1l1.2 .1l1.3-.5l1.2 .2l1.2-.2l1.2 .3l1.2-.7l1.3 .3l1.2 .1l1.2-.2l1.2 .2l1.2-.2l1.3-.5l1.2 0l1.2-.1l1.2-.1l1.2 .3l1.3-.2l1.2-.6l1.2 .5l1.2 .3l1.2-.5l1.3 .1l1.2-.2l1.2-.1l1.2 .2l1.2-.5l1.2 .1l1.3-.3l1.2 .3l1.2 .1l1.2-.3l1.2-.7l1.3 1l1.2-.9l1.2 .2l1.2-.4l1.2 .4l1.3-.3l1.2-.1l1.2-.5l1.2 .6l1.2-.2l1.3 .2l1.2-.4l1.2 .3l1.2-.3l1.2-.2l1.3-.1l1.2 .4l1.2-.1l1.2-.7l1.2 .5l1.2-.3l1.3 .1l1.2 .3l1.2-.5l1.2 0l1.2-.7l1.3 1.1l1.2-.5l1.2-.4l1.2 .3l1.2 .4l1.3-.9l1.2 .1l1.2 .3l1.2 0l1.2-.2l1.3-.3l1.2 .1l1.2 .1l1.2-.4l1.2-.2l1.3 .4l1.2-.7l1.2 .4l1.2-.2l1.2 0l1.3 0l1.2 0l1.2 .7l1.2-.4l1.2-.6l1.2 .5l1.3-.4l1.2 .5l1.2-.3l1.2-.7l1.2 .3l1.3 .3l1.2-.1l1.2 .3l1.2-.6l1.2 .1l1.3-.3l1.2 0l1.2 .3l1.2 .1l1.2 .1l1.3-.3l1.2-.1l1.2-.5l1.2 .7l1.2-.4l1.3 .4l1.2-.2l1.2-.4l1.2 .1l1.2 .3l1.3 0l1.2-.6l1.2 .4l1.2 0l1.2 .2l1.2-1l1.3 .2l1.2 .3l1.2-.5l1.2 .5l1.2 .3l1.3-.3l1.2-.3l1.2 .8l1.2-.7l1.2 0l1.3-.1l1.2 .3l1.2-.2"/>
</g>
<g font-family="'Liberation Serif', 'Times New Roman', serif" font-size="90" fill="#000">
<g text-anchor="end">
<text x="214.0" y="89.9">1</text>
<text x="214.0" y="288.3">0</text>
<text x="214.0" y="486.8">-1</text>
<text x="214.0" y="685.2">-2</text>
<text x="214.0" y="883.7">-3</text>
<text x="214.0" y="1082.1">-4</text>
<text x="214.0" y="1280.6">-5</text>
<text x="214.0" y="1479.0">-6</text>
</g><g text-anchor="middle">
<text x="246.0" y="1561.3">0</text>
<text x="550.8" y="1561.3">5</text>
<text x="855.7" y="1561.3">10</text>
<text x="1160.5" y="1561.3">15</text>
<text x="1465.3" y="1561.3">20</text>
<text x="1770.2" y="1561.3">25</text>
<text x="2075.0" y="1561.3">30</text>
</g></g>
<text font-family="'Liberation Serif', 'Times New Roman', serif" font-size="100" text-anchor="middle" x="1161.5" y="1678.2">Time (Second)</text>
<text font-family="'Liberation Serif', 'Times New Roman', serif" font-size="99.3" text-anchor="middle" transform="translate(103.2 752.5) rotate(-90)">Control signal (V)</text>
<rect x="1596.0" y="105.2" width="435.0" height="299.7" fill="#fff" stroke="#262626" stroke-width="2.9"/>
<g fill="none" stroke-width="6">
<path stroke="#0000ff" stroke-dasharray="41 26" d="M1613.0 159.4H1783.5"/>
<path stroke="#000" stroke-dasharray="33.5 13 8 13" d="M1613.0 254.6H1783.5"/>
<path stroke="#ff0000" d="M1613.0 349.7H1783.5"/>
</g>
<g font-family="'Liberation Serif', 'Times New Roman', serif" font-size="83" fill="#000" letter-spacing="-1">
<text x="1794.5" y="188.2">Joint 1</text>
<text x="1794.5" y="282.0">Joint 2</text>
<text x="1794.5" y="377.2">Joint 3</text>
</g>
</g>
<g id="plot2">
<g stroke="#2e2e2e" stroke-width="1" fill="none" shape-rendering="crispEdges">
<path d="M554.5 1916V3270" stroke-dasharray="1 3 1 1 1 1 1 3 1 3"/>
<path d="M556.5 1918V3270" stroke-dasharray="1 3"/>
<path d="M861.5 1916V3270" stroke-dasharray="1 3"/>
<path d="M1165.5 1916V3270" stroke-dasharray="1 3 1 1 1 1 1 3 1 3"/>
<path d="M1167.5 1918V3270" stroke-dasharray="1 3"/>
<path d="M1471.5 1916V3270" stroke-dasharray="1 3 1 1 1 1 1 3 1 3"/>
<path d="M1776.5 1916V3270" stroke-dasharray="1 3 1 1 1 1 1 3 1 3"/>
<path d="M1778.5 1918V3270" stroke-dasharray="1 3"/>
<path d="M268 2095.5H2064" stroke-dasharray="1 3 1 1 1 1 1 3 1 3"/>
<path d="M270 2097.5H2064" stroke-dasharray="1 3"/>
<path d="M268 2295.5H2064" stroke-dasharray="1 3 1 1 1 1 1 3 1 3"/>
<path d="M268 2493.5H2064" stroke-dasharray="1 3 1 1 1 1 1 3 1 3"/>
<path d="M268 2692.5H2064" stroke-dasharray="1 3 1 1 1 1 1 3 1 3"/>
<path d="M268 2890.5H2064" stroke-dasharray="1 3 1 1 1 1 1 3 1 3"/>
<path d="M268 3089.5H2064" stroke-dasharray="1 3 1 1 1 1 1 3 1 3"/>
</g>
<g stroke="#262626" stroke-width="2.9" fill="none">
<path d="M555.8 1898.4v18M555.8 3287.5v-18M861.2 1898.4v18M861.2 3287.5v-18M1166.5 1898.4v18M1166.5 3287.5v-18M1471.8 1898.4v18M1471.8 3287.5v-18M1777.2 1898.4v18M1777.2 3287.5v-18M250.5 2096.8h18M2082.5 2096.8h-18M250.5 2295.3h18M2082.5 2295.3h-18M250.5 2493.7h18M2082.5 2493.7h-18M250.5 2692.2h18M2082.5 2692.2h-18M250.5 2890.6h18M2082.5 2890.6h-18M250.5 3089.1h18M2082.5 3089.1h-18"/>
<rect x="250.5" y="1898.4" width="1832.0" height="1389.1"/>
</g>
<clipPath id="clip2"><rect x="247.5" y="1898.4" width="1838.0" height="1389.1"/></clipPath>
<g clip-path="url(#clip2)" fill="none" stroke-linejoin="miter" stroke-miterlimit="2" shape-rendering="crispEdges">
<path stroke="#0000ff" stroke-width="5.7" stroke-dasharray="45 23" d="M250.5 3089.1l.5 11.5l.6-17.7l.5-2.2l.6 16.3l.5-9.9l.6-14.4l.5-1l.6 11.4l.5 6l.6-3.2l.5-2.7l.6 2.8l.5-.4l.6 5.5l.5 7.4l.6-12l.5-4l.6-22l.5 2.9l.6-2.3l.5 8.6l.6-11.8l.5-.6l.6 22.1l.5 14.5l.6-5.1l.5 24.3l.6 11.5l.5-8.2l.6 2l.5-7.7l.6-28.9l.5-20l.6 1.2l.5 21.5l.6-4l.5 11l.6 19.9l.5 3.1l.6-16.1l.5-11.5l.6-15.2l.5-9.9l.6-6.8l.5 6.2l.6-1.7l.5-4.8l.6 10.2l.5-1.1l.6 10l.5 4.1l.6 13.8l.5 .8l.6 3.3l.5 25l.6-2l.5-20.9l.6-19l.5-.2l.6 30.6l.5 10.4l.6 22.2l.5 3.6l.6-13l.5-9.6l.6-23.4l.5-18.8l.6 .3l.5-12l.6-2.5l.5-2.6l.6 22.5l.5-52.7l.6-71.1l.5-71.8l.6-71.6l.5-71.3l.6-66.4l.5-48.8l.6-48.5l.5-48.8l.6-48.1l.5-48.5l.6-48.6l.5-48.1l.6-31.5l.5-8.8l.6-9.6l.5-8.9l.6-9.2l.5-4.9l.6-4.6l.5-4.7l.6-4.5l.5-5.2l.6-3.7l.5-3.1l.6-2.4l.5-3.2l.6-2.7l.5-2.9l.6-3.1l.5-2.9l.6-2l.5-.3l.6-5.7l.5-.1l.6 6.7l.5-4.6l.6 3.1l.5-1.1l.6 .4l.5 1.6l.6-.9l.5 3.3l.6-3.3l.5 0l.6-1.3l.5-2.7l.6-5.6l.5-.7l.6-.9l.5-2.1l.6 5.1l.5 .8l.5 .7l.6-2.5l.5-2.5l.6-.7l.5-1.3l.6 1l.5 .1l.6-.2l.5-2.1l.6-1.4l.5 7.7l.6 2.2l.5-2.2l.6-.1l.5-8.3l.6-5.8l.5 5.5l.6-.2l.5 1.5l.6-3l.5 3.1l.6-3.5l.5 6l.6-1.6l.5-.9l.6-.5l.5-2.4l.6-.3l.5-.4l.6 .8l.5-5.9l.6 .2l.5-.9l.6-2.3l.5 1.1l.6-.1l.5-2.7l.6 2.8l.5 1.3l.6-2.4l.5 .7l.6-2.4l.5 2.2l.6-.9l.5-1.2l.6-1.2l.5-5l.6-.2l.5 0l.6-.4l.5-2.2l.6-.3l.5 .7l.6-1.9l.5-3.6l.6 .4l.5 .8l.6-2.7l.5 .5l.6 2.3l.5-5.7l.6 .2l.5-.6l.6-3.1l.5 .8l.6-1.5l.5 1.5l.6-1.5l.5-1.3l.6-1l.5 3.3l.6 1.1l.5-1.6l.6-3.5l.5 .3l.6-4.4l.5 .6l.6 3l.5 .1l.6 3.8l.5-4.3l.6-.5l.5 3.5l.6 .2l.5-.1l.6-2.2l.5-1.1l.6 3.8l.5-1.6l.6-2.5l.5 5.7l.6 0l.5-2.3l.6 1.6l.5-3.2l.6-4.6l.5-1.1l.6-2l.5 0l.6 .1l.5-2.6l.6-.6l.5 5l.6-.6l.5-3.4l.6 .9l.5-4.4l.6 2.7l.5-.3l.6-4.3l.5-4.4l.6-1l.5-.9l.6 .7l.5 1.7l.6-2.7l.5 1.5l.6-1l.5 .1l.6 .5l.5-3.2l.6 2.5l.5-1.9l.6-1.7l.5-3.9l.5 .6l.6 2.6l.5 1l.6-.8l.5-2.8l.6 1.1l.5 .7l.6-3.9l.5 2.6l.6 .3l.5-2.9l.6-2.9l.5 1.1l.6 .2l.5 3.8l.6-1.5l.5 1.3l.6 1.7l.5 2.4l.6-3.5l.5 2.7l.6 .1l.5-1.6l.6-2.4l.5 6.5l.6-8.2l.5-4.5l.6-1.8l.5 3.4l.6 .4l.5 .9l.6-5.3l.5 6.8l.6 1.7l.5 1.3l.6 10.3l.5 6.7l.6 3.7l.5 1.6l.6 1.9l.5 .3l.6 5.1l.5 1l.6 .6l.5 3.8l.6-2.7l.5-2l.6-1.1l.5-2.4l.6-1l.5-3.3l.6 1.4l.5-4l.6-5.3l.5-6.9l.6-10.8l.5-10.5l.6-11.3l.5-9.7l.6-11.6l.5-12.1l.6-8l.5-11.5l.6-11.5l.5-6.6l.6 .5l.5 1.5l.6 1.6l.5 3.8l.6 6.3l.5 3.5l.6 .1l.5 11.5l.6 .4l.5 9.2l.6 1l.5-.9l.6 6.7l.5-2.8l.6 6.6l.5-2.9l.6 5l.5-2.9l.6-1.7l.5-1.7l.6-10.7l.5 1.8l.6-.1l.5-3.4l.6 4.4l.5 1.9l.6-.9l.5-4.1l.6 4l.5-1.9l.6-1.2l.5 2.2l.6-11.1l.5 1.6l.6-3.9l.5-.1l.6-.4l.5 1.5l.6 1l.5-1.1l.6-4.5l.5-1.6l.6-1l.5 2.3l.6 1.5l.5-3.9l.6 .7l.5-2.6l.6-2.5l.5-2.9l.6 1.3l.5 2.7l.6 .1l.5-2.4l.6 2.2l.5-2.6l.6-1.9l.5-1.5l.6-.2l.5 3.7l.5-5.1l.6 3.4l.5-2.1l.6 1.3l.5-6l.6 1.4l.5-.9l.6-.6l.5 6.6l.6 .7l.5-4.1l.6 1.2l.5-6.6l.6 4.3l.5 .1l.6-6.9l.5 2.5l.6 4.2l.5-4.3l.6 .3l.5 4.6l.6-1.3l.5-4.4l.6 4.2l.5-3.7l.6 2l.5 .9l.6-7.4l.5 2.9l.6 .3l.5-2.1l.6-1.9l.5-1.7l.6-4.5l.5-2.1l.6 .1l.5-4.6l.6 .4l.5-4.6l.6 2.2l.5-.6l.6-3l.5 3l.6-5.6l.5 3.3l.6-1.7l.5-.6l.6-1.9l.5-1.1l.6 1.6l.5 2.9l.6-5.5l.5 2.4l.6 1.8l.5 6.2l.6-1.7l.5 1l.6-.1l.5 .7l.6 6.6l.5 2.2l.6-3.5l.5-1.8l.6-5.6l.5-5l.6-.8l.5-3.3l.6-5.3l.5-3.9l.6-3.9l.5 1.2l.6 2.2l.5 11.2l.6-2.7l.5 1.6l.6 7.9l.5-2.5l.6 2.9l.5 2.9l.6 5.1l.5-1.4l.6 4.5l.5-4.4l.6-3.7l.5-3.2l.6-.9l.5-3.4l.6-1.5l.5-.1l.6-.5l.5-1.6l.6-3.4l.5-2l.6-6.4l.5-4.9l.6 1.1l.5 .4l.6 3.7l.5-1.2l.6 2.1l.5-4.5l.6 1.3l.5 2.4l.6-3.9l.5 2.9l.6-1.1l.5 .2l.6-.6l.5 1l.6 2.5l.5 .9l.6 1.1l.5-.6l.6-4.5l.5 4.5l.6-3.1l.5 1.7l.6 .1l.5-2.6l.6 2.4l.5 4.1l.6-4.4l.5 3.8l.6-2.2l.5-1.7l.5-2.7l.6 1.3l.5 .1l.6-10.4l.5 2.6l.6-.2l.5-2.7l.6-3l.5 5.7l.6-4.5l.5-4.4l.6 2.7l.5-.5l.6 1l.5 .4l.6-2.9l.5 4.5l.6 1.4l.5-.5l.6 6.5l.5 3.4l.6-.4l.5 3.3l.6-2.4l.5 1.1l.6 2.8l.5-2.5l.6-2.3l.5-3.2l.6-1.2l.5-.4l.6-5.6l.5-3.4l.6-.4l.5-1.5l.6 5.1l.5-3.9l.6-1.4l.5 2.1l.6 2.1l.5 2.8l.6-2.8l.5 1.4l.6 1.1l.5 3.2l.6 0l.5-.7l.6-3.5l.5 1l.6 1.6l.5-.6l.6 .7l.5-5.2l.6 4.3l.5-3.8l.6 7.2l.5-2.8l.6 5l.5-3.2l.6-2.5l.5-.1l.6-.3l.5 1l.6 1.3l.5-1.1l.6-3.4l.5 3.6l.6-.3l.5-3.8l.6-1.4l.5 7l.6-4.7l.5 3.4l.6 1l.5-4.2l.6 2.6l.5-.5l.6 3.3l.5 .9l.6-2.2l.5-.6l.6-.3l.5-.7l.6 2.6l.5-.1l.6 .8l.5 1.9l.6-3.6l.5-1.6l.6 1.4l.5 5.3l.6-9.3l.5 4.3l.6-5.3l.5 .4l.6 6.6l.5-1.9l.6 4.9l.5-.9l.6 2.8l.5-1.7l.6 .7l.5-.2l.6-7.4l.5-2.4l.6 2.6l.5 .8l.6 7.5l.5-.7l.6 .1l.5 2.6l.6-3.3l.5-.3l.6 1.1l.5 1.3l.6-1.7l.5 3.6l.6-4.1l.5 1.7l.6 1.3l.5-.3l.6-3.7l.5-.1l.6-5.4l.5 3.8l.5 1.1l.6-2.2l.5 3.2l.6-1.1l.5 1.8l.6-.8l.5 1.9l.6 3.8l.5-1.8l.6 .7l.5 .1l.6 .1l.5 2.1l.6 0l.5 1.6l.6 2.7l.5-4.9l.6 2l.5 4.4l.6 2.9l.5 2.5l.6-3l.5-2.1l.6-4.3l.5 .6l.6 4.6l.5 .7l.6 1.5l.5 1.9l.6 3.1l.5-4.1l.6-.1l.5 .4l.6 3.1l.5-3.9l.6 .4l.5 .5l.6 1.6l.5-3.8l.6 1.3l.5 2.2l.6-1l.5 3.7l.6 1.6l.5 .5l.6-.4l.5-1.5l.6-2.2l.5 2.9l.6-1.1l.5-2.7l.6 4.1l.5-1.9l.6 1.9l.5 3.5l.6 6.1l.5 5.4l.6-4.4l.5-3.8l.6 4.2l.5 2l.6 .5l.5-.5l.6 2.1l.5-3.4l.6 4.9l.5 5.1l.6 .9l.5-1.1l.6 .8l.5 .6l.6 .8l.5 .9l.6 4.7l.5-5.2l.6 1.6l.5-1.7l.6 1.9l.5-4.7l.6-.5l.5 1.6l.6 2l.5-.9l.6 1l.5 2.7l.6-3.9l.5-.9l.6 .4l.5 3.8l.6-4.8l.5 .6l.6 4.3l.5-1.6l.6 2.5l.5 .9l.6 6.3l.5-1.1l.6 .1l.5 5.7l.6-1.4l.5-1.4l.6 7.3l.5-2.6l.6 2.4l.5 4.7l.6 1.4l.5-4.1l.6-1.9l.5 4.8l.6-5.4l.5 7l.6-2.1l.5 .1l.6-2.1l.5 2.1l.6-.3l.5-3.6l.6-.8l.5-1l.6 .5l.5-1.1l.6 .4l.5 5.5l.6 1.8l.5 2.3l.5-4.5l.6-2l.5-.1l.6 2.8l.5 1.7l.6 10.4l.5-1.3l.6 4.5l.5-1.8l.6-1.3l.5 3.2l.6-.2l.5-3.7l.6 3.7l.5-2.5l.6 3.5l.5-1.4l.6 9.5l.5-1.3l.6-1l.5-2.6l.6 7l.5 2.9l.6-.5l.5-1.3l.6 5.4l.5-2l.6 1.4l.5 1.3l.6-5l.5 3l.6-1.5l.5 .8l.6 1.9l.5 2.5l.6 0l.5 1.2l.6-5.6l.5 .7l.6-5.6l.5 6l.6-4.7l.5-.8l.6-1.1l.5 1.3l.6-4.2l.5 4.8l.6 3.9l.5 0l.6 1.2l.5-2l.6 4.1l.5 3.3l.6-.3l.5 .2l.6 2.3l.5 1l.6 1.3l.5 6l.6 .4l.5 0l.6 7.1l.5-2.2l.6 .3l.5 3.9l.6-2.7l.5 2.7l.6-2.3l.5-2.1l.6 .6l.5-3.9l.6 1.5l.5-4.1l.6 .5l.5-5.2l.6-1.3l.5 .3l.6-.3l.5-2.5l.6 1.7l.5-8l.6 1.4l.5-1l.6 1.6l.5 8.2l.6 2l.5 4.2l.6 4l.5 3l.6 13.9l.5 2.2l.6 8.2l.5 6.2l.6 3.5l.5 1.9l.6 .4l.5-5l.6-6.2l.5 2.7l.6-2.3l.5-6l.6-2.1l.5-.5l.6-4.5l.5-.5l.6 1l.5-4.4l.6 .1l.5-5.4l.6-4.8l.5 1.9l.6 4l.5 4.8l.6 4.6l.5 6.2l.6 3.1l.5 3.4l.6 8.1l.5 2.3l.6 3l.5 5.3l.6 6.6l.5 .7l.6 4.2l.5-5.9l.5-3.6l.6-6.4l.5-.6l.6-2.2l.5 4.4l.6-1.2l.5-5l.6-1.7l.5-5l.6 .7l.5-5.2l.6-2.8l.5 1.6l.6-5.7l.5 2.3l.6 7.9l.5 2.9l.6-3.4l.5 6.6l.6 3.7l.5 3.8l.6-.1l.5 4.9l.6 1.2l.5-1.3l.6 2.3l.5 2.4l.6 4.6l.5 6.6l.6 2.6l.5 3.3l.6 1.3l.5-5.8l.6-1.9l.5 3.6l.6 1l.5 1.2l.6 1.8l.5-.5l.6 .6l.5 5l.6-1.3l.5 2.6l.6 .3l.5 1.6l.6-1.2l.5-1.4l.6-1.3l.5-3.4l.6 6.2l.5 1l.6-4.3l.5 7.2l.6-4.9l.5 .5l.6-3l.5-2.4l.6-1.2l.5 2.9l.6-2.6l.5 .1l.6 .4l.5-.3l.6-3.7l.5 3.8l.6-.2l.5-.9l.6-.5l.5 5.4l.6 .2l.5 2l.6-3.1l.5 2.3l.6 .3l.5 0l.6-2l.5 8.2l.6 2l.5-1.5l.6 3.9l.5-3.5l.6 1.3l.5-.8l.6 2.9l.5 1.4l.6 1.3l.5-2.3l.6 2.7l.5 .2l.6-1.8l.5 .1l.6 3l.5-5.1l.6 2.8l.5-1.1l.6 2.6l.5-.8l.6-2.2l.5 4.5l.6 1.6l.5-2.2l.6 0l.5-.9l.6 4.2l.5-4.7l.6 1.4l.5 1.1l.6 1.8l.5-5.4l.6-1.6l.5 1.2l.6 .1l.5 4.5l.6-.4l.5 3.1l.6-5.1l.5-.5l.6 2.5l.5-.5l.6 2.7l.5-2.1l.6-2.2l.5 2.1l.6 1l.5 1.4l.5-.5l.6 4.3l.5-1.6l.6 3.3l.5 1.1l.6 1.4l.5 2l.6 1.5l.5-1.1l.6 4.7l.5-2.8l.6 4.1l.5-.7l.6 .3l.5 5l.6-2.1l.5-.6l.6 4.4l.5-1.2l.6-5.8l.5 .5l.6 0l.5 5.1l.6 .2l.5-2.2l.6 5.4l.5 0l.6-1.5l.5 .4l.6 2.9l.5-.3l.6 1.1l.5 0l.6-2.7l.5 2.1l.6-1.9l.5 .9l.6-.9l.5-3.1l.6 7.9l.5 1.3l.6 .9l.5-1.9l.6 3.8l.5 1.6l.6-1.7l.5 .3l.6-3.7l.5-.8l.6 4l.5 .3l.6-9.6l.5 2.2l.6 1l.5-2l.6 10.5l.5-2.7l.6-2.3l.5 6.8l.6-2.6l.5 1.5l.6-2.5l.5 .9l.6-1.1l.5-.9l.6 1.6l.5-3.2l.6 4.7l.5-1.1l.6-1.5l.5 2.8l.6 3.8l.5 .4l.6 0l.5-1.3l.6-3.4l.5-1.2l.6 1.1l.5-2.1l.6 7.6l.5-1.1l.6 3.9l.5 1.3l.6-6.7l.5 1.9l.6 4.7l.5-2.5l.6 1.1l.5-1.3l.6-1.8l.5 2.4l.6-5.2l.5 1.5l.6 1l.5-.1l.6 4l.5-1.7l.6-1.8l.5 1.2l.6-2.9l.5-2.9l.6-.6l.5 2.5l.6 5.4l.5-.5l.6-1l.5 4.3l.6-2.1l.5 .7l.6-2.6l.5-1l.6 5.5l.5-3.1l.6 1.4l.5-.3l.6 .3l.5 2.2l.6-5.4l.5 2.6l.6 1.6l.5-4.2l.6-.7l.5 3.8l.6-5.8l.5-2.9l.5 1.7l.6 .7l.5 4.5l.6-.9l.5 2.4l.6-1.1l.5 1.6l.6 .4l.5-2.5l.6 5.5l.5-14.6l.6 4.4l.5 .2l.6-1.3l.5-2.4l.6 2.1l.5-3.1l.6 .1l.5 6l.6 .2l.5-.3l.6-1l.5-.3l.6-5.3l.5 2.1l.6-.5l.5-.2l.6-.2l.5-4.1l.6 5.9l.5-4.2l.6 1.6l.5 1.4l.6-4.4l.5 8.9l.6-3.1l.5 1.7l.6 2.9l.5-7.6l.6 1.7l.5-1.9l.6-.1l.5 .3l.6 .4l.5 .4l.6 .3l.5-2.7l.6 .9l.5-4.4l.6 2.3l.5 .4l.6-2.3l.5-.6l.6-.3l.5 3.9l.6-.7l.5-.3l.6 0l.5-.6l.6-3l.5-1.4l.6 1.5l.5-1.7l.6 4.4l.5-2.9l.6-6.4l.5 10.8l.6-3.1l.5-1.5l.6 .2l.5 .7l.6 .2l.5 1.9l.6-5.6l.5 1.1l.6-2.3l.5 4.5l.6 .2l.5-1.2l.6-5.4l.5 1.6l.6-.4l.5-.8l.6 0l.5-.5l.6 1.1l.5 3.1l.6-2.5l.5-1.9l.6 2.4l.5-2.2l.6 .4l.5-1.9l.6 2.6l.5-9.5l.6-.2l.5 2.6l.6 0l.5 1.4l.6-5.1l.5 1l.6-.5l.5 5.7l.6-5.2l.5-3l.6 4.3l.5-5l.6-3.7l.5 0l.6-1.1l.5-9.3l.6 2l.5 1.3l.6 4.4l.5-.9l.6 1.1l.5-1.1l.6-5.6l.5 3.8l.6-2.7l.5-3.8l.6 2.8l.5-1.1l.6-1.3l.5-3.8l.5-.5l.6-8.6l.5-.9l.6-4.6l.5-2.9l.6-.7l.5-2.9l.6-1.6l.5-4.2l.6-3.4l.5 3.6l.6 1l.5 4.9l.6 4.6l.5 1.8l.6 6.5l.5 .8l.6 3.7l.5-1.8l.6-1.6l.5 3.6l.6-1.5l.5-.7l.6-3.6l.5 1l.6-.8l.5 .7l.6-.4l.5 4.2l.6-3.1l.5-6.6l.6-2.3l.5 6l.6 5.7l.5-4.8l.6-2.6l.5 5l.6-7.1l.5-3.8l.6 .2l.5-.9l.6 .2l.5 2.7l.6-1.3l.5-5.3l.6 2.6l.5-5.4l.6 1.6l.5-4.3l.6-.7l.5-.7l.6-3.3l.5 1.2l.6 3.4l.5 3.6l.6-6.1l.5 .7l.6-2.3l.5 2l.6 .7l.5-5.2l.6 1.4l.5-.2l.6 1.4l.5-5.8l.6-3.1l.5 2.9l.6-3.9l.5-.2l.6-2.3l.5 1.6l.6-4.6l.5 7l.6 1.8l.5-4.9l.6-1l.5 .2l.6-5.5l.5 3.1l.6 3l.5-6.6l.6-.6l.5 .2l.6-2.5l.5-.6l.6 4.1l.5-2.9l.6 .1l.5 .4l.6 4.1l.5 3l.6-2.8l.5-.7l.6-3l.5-4.1l.6 2.2l.5 .1l.6 .4l.5-2.2l.6 .3l.5-.4l.6-4.6l.5 2.5l.6-2.5l.5-3.9l.6 3l.5 1.1l.6-1.5l.5-.5l.6-9l.5-.7l.6-1.5l.5 3l.6 3l.5-2.6l.6 2.9l.5-1.9l.6-8.5l.5 2.1l.6-.3l.5-3.3l.6 5.7l.5-.1l.6-2.2l.5 2.6l.5-10.1l.6 .2l.5-1.2l.6-.5l.5 1l.6 3.8l.5-4.2l.6-3.3l.5 .3l.6-.5l.5-1l.6 .6l.5-9.5l.6 4.6l.5-2.7l.6 2.5l.5-.8l.6-.3l.5 .3l.6-2.6l.5-2.2l.6 2.6l.5-4l.6-2.6l.5 6.2l.6-2.2l.5-1.1l.6 2.7l.5-.9l.6 1.6l.5-3.2l.6-3.9l.5 6.5l.6 0l.5-.3l.6-.1l.5-12.5l.6-5.9l.5 1.1l.6 1.1l.5 .6l.6 0l.5-4l.6 2l.5-.4l.6-.9l.5-3.9l.6 1.4l.5 1.5l.6 3.7l.5-.8l.6 .1l.5-12.4l.6 1.6l.5-2l.6-4.3l.5 8.8l.6 .7l.5-.9l.6 5l.5-6.3l.6-6.1l.5 2.5l.6-1.2l.5 2l.6 3.2l.5-3.5l.6 0l.5-4.1l.6-.4l.5-4.2l.6 1.1l.5-6.7l.6 3.4l.5-1.9l.6-1.7l.5-2.8l.6 .6l.5 1.2l.6 1.6l.5 2.2l.6 1.9l.5-.6l.6-1.1l.5-3.1l.6 0l.5-3.7l.6 2l.5-1.5l.6-2.4l.5 2.6l.6-4l.5 6.2l.6-.5l.5 2.8l.6-4.2l.5-6.3l.6-2.2l.5 1.9l.6 .6l.5 5.5l.6 .5l.5 .1l.6-.8l.5-8.7l.6 1.8l.5-.7l.6 .4l.5 .1l.6-1.4l.5-.3l.6 2.8l.5-5.2l.6-4.9l.5 2.7l.6 .2l.5 4l.6 1.2l.5 .2l.6-3.2l.5-1.6l.6 1.1l.5-1.9l.6-1.7l.5-.5l.5-.2l.6 5.7l.5-2.3l.6 1.6l.5 1.7l.6 3.5l.5 1.5l.6-7.2l.5 3.3l.6-2.5l.5 .8l.6 1.2l.5-3.1l.6-1.8l.5 .9l.6-1.6l.5-2.9l.6 1l.5-.8l.6-3.3l.5-2.3l.6-.1l.5-.8l.6 1.7l.5-1.8l.6-2.6l.5 1.4l.6-2.9l.5-6.7l.6 1l.5 1.5l.6 1.9l.5-6.5l.6 2.4l.5-2.5l.6 3.2l.5-7.3l.6-1.9l.5 1.2l.6 3.6l.5-1.5l.6 .9l.5-1.3l.6-8.9l.5 1.8l.6-.9l.5-.1l.6-4.5l.5 1.2l.6-1.4l.5-.7l.6 3.3l.5-1.1l.6-1.4l.5-1.3l.6-.1l.5-.5l.6 2.3l.5-1.3l.6-2.6l.5 .9l.6-.7l.5-.6l.6 4.2l.5 4.1l.6-3.6l.5 0l.6-4.4l.5 1.4l.6-1.6l.5 .6l.6-2.6l.5 1.1l.6-.5l.5 1.5l.6-2.3l.5 5.4l.6-8l.5 5.8l.6 1.6l.5-.5l.6 1.5l.5-4.7l.6-.6l.5 .1l.6-3.8l.5 .6l.6 4.5l.5-.8l.6-2.8l.5-.7l.6-6.2l.5 1l.6-2.8l.5-.1l.6 2.4l.5 .3l.6-2.3l.5-.8l.6 5.8l.5 .3l.6-1.8l.5 1.9l.6-.3l.5-1.1l.6 3l.5-.9l.6 1.3l.5-2.7l.6-2.2l.5 1.4l.6-3.9l.5 .4l.6 1.2l.5-4.2l.6 4l.5-2.4l.6 .7l.5 .5l.6-9.9l.5 3.4l.6 .3l.5-3.5l.6 9l.5 1.9l.5-.8l.6 1.5l.5-6l.6-1.1l.5 1l.6-.5l.5-1.7l.6 1.9l.5 1.5l.6-.2l.5-2.6l.6 .1l.5-.1l.6 2.4l.5 1l.6-2.7l.5 2.4l.6-2.2l.5-.1l.6 .9l.5-2.7l.6-1l.5 .7l.6-1.2l.5 2.9l.6 1.1l.5 .8l.6-3.4l.5-2.6l.6 3.7l.5 3.7l.6-2.6l.5 .2l.6 .1l.5 1.2l.6-4.5l.5 3.9l.6-.6l.5 1.2l.6-3.7l.5-2.1l.6 1.3l.5 0l.6-3.4l.5 3.3l.6-1.4l.5 7.6l.6-2l.5 .5l.6 1.5l.5-4.8l.6-2.8l.5 5.3l.6-1.7l.5-6.8l.6 3.5l.5 1.9l.6-2.7l.5 6.4l.6 3.4l.5-1.5l.6 .8l.5-9l.6 .9l.5 1.7l.6-2.6l.5 2.7l.6-4.5l.5 1.6l.6 2.8l.5 2.4l.6-1.6l.5 1.3l.6 2.9l.5-2.9l.6 .1l.5-.2l.6 2.8l.5-5.6l.6-4.7l.5 5.9l.6 .2l.5 4.6l.6-1.3l.5 2.3l.6-.5l.5-2.2l.6 5.1l.5-2.9l.6-4l.5 4.7l.6 1.3l.5-.1l.6 5.1l.5-6.6l.6 1.9l.5-2.7l.6 1.6l.5-2.3l.6 4.1l.5 .2l.6-6.2l.5 4.9l.6 .8l.5-2.9l.6 1.9l.5-3.7l.6-1.5l.5 3.1l.6 1.5l.5 5.2l.6 3.5l.5-3.1l.6 .5l.5 3.7l.6-5l.5 6.6l.6-.5l.5-4.2l.6 .3l.5-1.6l.6 2.5l.5-1.5l.6-3l.5 5.7l.5 .9l.6 1.4l.5-2.8l.6 2l.5 .5l.6 3l.5 .7l.6-4l.5 .8l.6 6.7l.5 .5l.6-.3l.5 .4l.6-2.4l.5-.6l.6 3.2l.5 1.9l.6-8.1l.5-.5l.6 5.9l.5-2.8l.6 4.4l.5 .5l.6 .3l.5-3.8l.6 4l.5 2.3l.6-.7l.5-.4l.6 3.1l.5-3.5l.6 3.5l.5 0l.6-2.1l.5 9.4l.6-7.6l.5 .5l.6 4.6l.5-2l.6 2.5l.5 2.1l.6-2.2l.5 2.3l.6 .4l.5 1.7l.6-7l.5 3.7l.6 3.1l.5 3.1l.6 3.4l.5 .6l.6 1.2l.5-1l.6 .1l.5-2.6l.6 1.1l.5 6l.6-3.8l.5 5.2l.6-3.1l.5 2.3l.6-2.1l.5 .2l.6 2.6l.5 1.7l.6-7.7l.5 6.8l.6-3.8l.5 3.7l.6 2.5l.5 1.4l.6 .1l.5 2.3l.6-2.2l.5-2.3l.6 2.5l.5-.6l.6 5.1l.5 .1l.6-1.7l.5 5l.6-7.1l.5 2.5l.6 .8l.5-2.8l.6 6.6l.5-3.8l.6 5.4l.5 .7l.6-4.1l.5 .2l.6 5.3l.5-2.4l.6-2.8l.5 4.1l.6 2.9l.5-1.3l.6-7.9l.5 1.1l.6 2.6l.5-.2l.6 4.5l.5 .3l.6 2.2l.5-.3l.6 2.7l.5 4l.6-5l.5 1.1l.6 2.8l.5 1.2l.6 .3l.5 .7l.6-3.5l.5 .5l.6 3.1l.5 2.2l.6 .7l.5-4.3l.6 4.2l.5 2.7l.6 4.6l.5-4.6l.6 2.1l.5 .7l.5 8.3l.6-.4l.5 .8l.6-.7l.5-9.8l.6 5.3l.5 1.8l.6-3.4l.5 .6l.6 3.1l.5-.5l.6 2.3l.5-3.7l.6 3.2l.5 4.4l.6-4l.5 1.1l.6 5.3l.5-2.2l.6 .7l.5 4.6l.6 1l.5-8.3l.6 8.1l.5-5.2l.6 .3l.5 0l.6 .8l.5 5.7l.6 2.6l.5 1.7l.6-2.4l.5 .5l.6-2.7l.5 3.1l.6-1.8l.5 10l.6-5.4l.5 4.9l.6-.7l.5 4.2l.6-2.9l.5 1.7l.6-.8l.5 2l.6-1.8l.5 7.4l.6-1.8l.5 2.3l.6-2l.5-1.7l.6 .3l.5 3.2l.6 2l.5-2.5l.6-.8l.5 1.3l.6-2.6l.5 2l.6-2l.5 .6l.6-3l.5 3.4l.6-.9l.5-.3l.6 14.4l.5-6.1l.6 1.2l.5 1.2l.6 1.2l.5 2l.6 3l.5-4.9l.6 .1l.5 5.4l.6-3.4l.5 7.3l.6-1.2l.5 4.5l.6-.2l.5 1.4l.6-1.7l.5-1.5l.6 2.1l.5-3.2l.6 .6l.5-2.7l.6 1.1l.5-2.9l.6-2.8l.5-2l.6 .3l.5 2.7l.6 .9l.5-1.1l.6 3.5l.5-1.4l.6-3.3l.5 7.1l.6-3.3l.5 4.5l.6 1l.5-1.8l.6 7l.5 9.5l.6 2.3l.5-.9l.6-.7l.5-.6l.6 1.3l.5 1.9l.6 4l.5 2.8l.6 5.9l.5 4.8l.6 .6l.5 1l.6-.1l.5 1.3l.6 .6l.5-5.4l.6-1.2l.5 .8l.6-7.1l.5 3.2l.5-.4l.6-2.8l.5-3.9l.6-2.1l.5 .8l.6-5.3l.5 5.9l.6 2.1l.5 1.5l.6 1.7l.5-.2l.6 3.7l.5 8.7l.6-.3l.5 1.9l.6 2.6l.5 1.2l.6 2.5l.5 2.9l.6-11.3l.5 1.5l.6 4.5l.5-5.8l.6 5l.5 2.8l.6-3.2l.5-1.3l.6 4.3l.5 1.5l.6-1.5l.5 1.1l.6-1.7l.5-1l.6 3.7l.5-1.3l.6-.1l.5-.1l.6 1.8l.5 2.5l.6 4.2l.5 1.2l.6-3.4l.5 4.9l.6-.9l.5 0l.6-1.4l.5 .6l.6 7.9l.5-4.2l.6 3.1l.5-3.1l.6 4.3l.5 4.5l.6 1l.5 .5l.6-6.7l.5-.9l.6 .4l.5 .3l.6-.7l.5 2.3l.6 0l.5-.4l.6-1l.5 3.1l.6 1.3l.5-2.2l.6 3.2l.5 0l.6 1.6l.5-.6l.6 3.2l.5 1.2l.6-1.4l.5 3.7l.6-5.3l.5-2.1l.6 6.4l.5 0l.6-2.3l.5 2.9l.6-1.8l.5 1.9l.6-.1l.5-1.8l.6 3.2l.5 .5l.6 1.1l.5-3.1l.6 1.9l.5 1.4l.6-.8l.5 2.3l.6-1.8l.5 1.1l.6 6.2l.5 .9l.6-3.3l.5 3.3l.6 .4l.5-.5l.6 3.5l.5-2.9l.6 6.6l.5-3l.6 2.8l.5-1l.6-7.3l.5 1.2l.6 3.4l.5-.9l.6 3.6l.5-2.3l.6-1.4l.5 1.2l.6-1.4l.5 1.8l.6 3.3l.5-1.7l.6 4.2l.5-3.4l.6 2.7l.5 .9l.6-1.1l.5-1.9l.5-.1l.6 .7l.5 9.6l.6-3.5l.5 2.4l.6 3.8l.5-7.5l.6 1.5l.5 4.1l.6-4.3l.5 2.7l.6-1.7l.5 2.9l.6 1.3l.5 4l.6-6.7l.5 7.5l.6-1.5l.5 2.2l.6 2.4l.5 5.5l.6-4.1l.5-1.6l.6-2.3l.5 2.8l.6-2.4l.5 4.4l.6 .4l.5 1.4l.6-2.6l.5-1.2l.6 .1l.5 1.9l.6 .8l.5 2.7l.6 1.2l.5-1.5l.6-3.8l.5 1l.6-1l.5 .4l.6-.9l.5 3.7l.6-2.1l.5 5.4l.6-6.5l.5 1.4l.6 1l.5-.6l.6-3.3l.5 .6l.6-1.3l.5 3.4l.6-3.5l.5 7.7l.6-1l.5 2.6l.6-.5l.5-8.5l.6-2.7l.5 .5l.6 8.1l.5-3.6l.6 .3l.5 3l.6 0l.5-1.3l.6 3.1l.5-2l.6 2.2l.5 3.9l.6-4l.5 8.9l.6 2.1l.5 4.1l.6-3.5l.5-2.3l.6-.8l.5 6.5l.6-3.5l.5-3.3l.6 .2l.5-8.6l.6 .3l.5 2.4l.6-.4l.5 .6l.6-4.6l.5 4.1l.6-.8l.5-1.4l.6 3l.5-1.9l.6 4.2l.5 2.1l.6-3.3l.5 1.8l.6-1.1l.5-2.1l.6-2.6l.5 4.4l.6-.2l.5 3.9l.6-6.7l.5 2.8l.6 .7l.5 2.7l.6 1.3l.5 1l.6-.1l.5-9.6l.6-1l.5 1.4l.6-.1l.5-7.9l.6 4.5l.5 .7l.6-3.6l.5 5.1l.6 1l.5-3.7l.6 .9l.5-7.1l.6 2.2l.5-1.7l.5-.9l.6 .4l.5-.5l.6 4.5l.5-.1l.6 1.8l.5-2l.6 1.2l.5 0l.6-.5l.5 2.5l.6 1.4l.5 .4l.6-4.2l.5 6.4l.6-.2l.5-3.5l.6 4.1l.5-3.8l.6 2l.5-2.1l.6-5.4l.5-3.4l.6-.4l.5-3l.6 5.4l.5-.6l.6 2.1l.5-1.7l.6-.4l.5 1.6l.6-1.3l.5-3.1l.6-2.3l.5-3.1l.6 4.4l.5 1l.6-5.7l.5 1.7l.6 .5l.5-1l.6 9.9l.5-4.6l.6-.9l.5 0l.6-.1l.5-1.1l.6-2.8l.5 3.4l.6-8.8l.5 3.7l.6-1l.5-5.4l.6 3.7l.5 .9l.6-1.6l.5 2.6l.6-1.3l.5 2.3l.6 .2l.5 1.3l.6-1.7l.5-1.1l.6 6.8l.5-2.5l.6-9l.5 2l.6-.8l.5 2l.6-.1l.5-4.6l.6 1.4l.5-.4l.6 9.4l.5-6.4l.6-.4l.5-.3l.6 2.1l.5-3.3l.6-.4l.5 2.2l.6 5.6l.5-5.5l.6-1.5l.5-1.8l.6 2.6l.5-3l.6 .6l.5-1.2l.6-1.3l.5-2.4l.6-2.2l.5-.3l.6 .3l.5-4l.6 1.7l.5-1.6l.6 6.3l.5-7.1l.6 1.8l.5-.4l.6-4l.5 2.1l.6-.9l.5 3l.6-.8l.5 1.4l.6-1.7l.5-.9l.6 2.3l.5-2.6l.6 5.1l.5-3.9l.6-7.1l.5 1.9l.6-2l.5 .8l.6 .3l.5-2.3l.6 1.3l.5-2.5l.6-4.7l.5-1l.6-3.1l.5-1.3l.5-3.6l.6 .5l.5-4.6l.6-3.4l.5 5.2l.6-1.8l.5 1.6l.6 .5l.5 7l.6-2.4l.5 1.7l.6-.7l.5-3.3l.6 7.8l.5-4.9l.6-3l.5 5.9l.6-1l.5 1.6l.6-1.8l.5-10.6l.6-1.9l.5 .1l.6 1.3l.5 8.7l.6-5.8l.5-1.5l.6-1.2l.5-8.4l.6-1l.5-3.5l.6 3.3l.5-.2l.6-2.9l.5 .8l.6 2.4l.5-3l.6 3.3l.5-4.4l.6-.7l.5 1.4l.6-3.6l.5 .5l.6 1.4l.5-2.3l.6 2.3l.5-1.9l.6 2.2l.5-1.8l.6 2.5l.5 .3l.6-1.5l.5-8.3l.6-2.1l.5 2.2l.6 0l.5-1.1l.6-1l.5-2.3l.6-.1l.5-2.9l.6 3.2l.5-2.6l.6-3.2l.5 2.2l.6-1.9l.5-4.9l.6 .7l.5-1l.6-1.2l.5-.4l.6-1.1l.5-4.8l.6-2.6l.5-.4l.6-1.6l.5-3.6l.6 .7l.5-1.9l.6 .4l.5 .2l.6 3.2l.5 .1l.6-4.1l.5 3.9l.6-1.3l.5 3.7l.6-7.7l.5 3.6l.6-4.6l.5 4.3l.6-.5l.5 3.2l.6-5.5l.5 .3l.6 .4l.5-7.2l.6 1.7l.5-3.2l.6 .2l.5 1.2l.6 1.3l.5-.3l.6-4.2l.5 2.9l.6-.5l.5-.3l.6 0l.5 2.3l.6-3.7l.5 1l.6 .3l.5-2.9l.6-2.8l.5 4.2l.6-2l.5-1.2l.6-5.2l.5 1l.6-2.2l.5 3.4l.6 1.6l.5-2.6l.6 .8l.5-2.2l.5-.3l.6 2.2l.5-1.7l.6-3.2l.5-.6l.6-5l.5-2.6l.6 .9l.5 1.3l.6-6.6l.5 3l.6-.6l.5 2.3l.6-2.2l.5 2.1l.6 .9l.5 1.2l.6-3.6l.5 .5l.6 .1l.5-4l.6 1.1l.5-.8l.6-6.7l.5 1.2l.6-2.3l.5-.3l.6 .8l.5-1.4l.6-2.4l.5 .3l.6-2.6l.5 .4l.6-3.4l.5-1.9l.6 6.2l.5 1.3l.6-7.3l.5 3.2l.6-5.1l.5 5.8l.6-.9l.5-1.9l.6 .7l.5 3.4l.6-2.5l.5-4.4l.6-5.4l.5-3l.6 .7l.5 .2l.6 5.6l.5-1.1l.6 1.3l.5-3.8l.6-6l.5-.6l.6 .2l.5-1.2l.6-3.9l.5-1l.6-.1l.5-3.9l.6 7.2l.5-2.7l.6-.2l.5 4.4l.6-5.6l.5 6.7l.6-4.2l.5 1.4l.6-2l.5-2.6l.6-.4l.5 .4l.6 2.7l.5-2.1l.6 .6l.5-.3l.6-3.2l.5-1l.6-3l.5 2.8l.6 1.4l.5-3.6l.6-.2l.5 1l.6-1.9l.5 1.9l.6-.5l.5 5.3l.6-7.4l.5-2.2l.6 4l.5-4l.6-2.7l.5-.3l.6-.3l.5 1.4l.6 5.3l.5-.8l.6-6.1l.5 1l.6 3.5l.5-4.8l.6-.1l.5 1.1l.6-7.8l.5-.5l.6 .1l.5-2l.6 9.9l.5-2.3l.6-3.3l.5-1.3l.6 2.1l.5-3.4l.6 3.5l.5 1.5l.6-9.2l.5-1.5l.6 2.8l.5-3.4l.6 8.1l.5-1.2l.5-1.4l.6-1.3l.5 3.6l.6-.7l.5-1.5l.6 2.5l.5-3.5l.6-4.5l.5 3l.6-2.2l.5 3.9l.6 .1l.5-1.7l.6 2.1l.5-6.9l.6-2.1l.5-.3l.6-.2l.5-3l.6-1.8l.5-3.7l.6 0l.5 5.6l.6-5l.5 2.4l.6-3.8l.5-6.8l.6 1.5l.5-3.7l.6-.4l.5-.9l.6-.4l.5 .4l.6-1.8l.5 1.4l.6 1.6l.5-3.2l.6-.5l.5 5l.6-1.1l.5 .4l.6 .1l.5-3.2l.6-1.8l.5 0l.6 3l.5-3.9l.6-2.1l.5-1.2l.6 2.7l.5-2.9l.6 .5l.5 1.9l.6-3.1l.5 .9l.6 .7l.5-5.5l.6 .3l.5 9.5l.6 2.4l.5-3.7l.6 1.4l.5-5.1l.6 .8l.5-1.1l.6 2.7l.5-1.9l.6-.7l.5-2.1l.6 5.3l.5-9.3l.6-.6l.5 3.7l.6 .6l.5-4.8l.6 5l.5-3l.6-2.6l.5-6.6l.6 1.2l.5 1l.6-.1l.5 4.9l.6-1.8l.5 5.6l.6-3.9l.5-3.3l.6 .9l.5-1.1l.6-2.7l.5 4.3l.6-.1l.5-3.5l.6 2.3l.5 .8l.6 1.5l.5-2.5l.6 2.2l.5-6.6l.6-2.1l.5 1.7l.6-1.1l.5 5.2l.6-1.3l.5-1.7l.6 .4l.5-3.3l.6 .2l.5 .8l.6 1.1l.5 .5l.6-5.8l.5 2l.6-3.8l.5 1.6l.6 .7l.5-2.5l.6-3.2l.5 11.9l.6 .2l.5-2.9l.6 2.2l.5-.2l.6 1.3l.5-.6l.5-6.7l.6 10.4l.5-6.2l.6 6.7l.5-.4l.6-7.7l.5 2.2l.6-.5l.5-1.7l.6 1.5l.5 2.2l.6-3.6l.5 1.7l.6-4.7l.5 2.6l.6-.7l.5 3.9l.6-5.6l.5-.2l.6-.7l.5 3.5l.6 .2l.5-1.1l.6 2.7l.5 .4l.6-3.4l.5-.8l.6 2.4l.5-2.3l.6 3.2l.5 2.4l.6 1.1l.5-1.7l.6-3.6l.5 .4l.6 2.1l.5-1l.6 1.4l.5-1.3l.6 1.1l.5 .3l.6 4.3l.5 .9l.6-.9l.5 .1l.6-3.8l.5-1l.6-2l.5 1.9l.6-5.8l.5-.8l.6 2.8l.5 1l.6 2l.5 3.5l.6-1.8l.5 3l.6-4.8l.5-.7l.6 1.5l.5 .7l.6 1.6l.5-1.9l.6 3.1l.5-4l.6 7.2l.5 .7l.6-2.1l.5-1l.6-1.1l.5-.8l.6-.8l.5 2l.6-1.5l.5 2.1l.6-1.2l.5 2.3l.6 .6l.5-4.1l.6-.5l.5 3.1l.6-1l.5 2.4l.6 .5l.5-5.2l.6-.4l.5 4l.6-4.3l.5 4.9l.6 1.9l.5 1.4l.6 .3l.5 5.4l.6-10l.5 5l.6-1l.5-1.8l.6 .5l.5-1.7l.6 .6l.5 .6l.6 4.3l.5-2.5l.6 3.6l.5-1.8l.6 .1l.5 3.4l.6 3.1l.5-2.3l.6 4.5l.5-.5l.6-1.4l.5 2.2l.6-4.8l.5 5.9l.6-5.2l.5-1.7l.6 8.4l.5-2.9l.6-2.1l.5 1.8l.6 5.2l.5 .2l.6 .1l.5-.8l.5-4.3l.6 3.2l.5 1.7l.6-2.6l.5-4l.6 1.2l.5 .7l.6 1.8l.5 10.3l.6-4l.5 4.2l.6 .9l.5-4.4l.6-1.7l.5-.7l.6 1.2l.5 0l.6 8.6l.5-7.5l.6 3.7l.5-3.5l.6 7.2l.5-4.1l.6-5l.5 8l.6-3.3l.5 3.5l.6-.2l.5 5.2l.6-1.6l.5-3.3l.6 2.1l.5 8l.6-.7l.5 1.4l.6-1.2l.5-5.3l.6 1.9l.5 1.7l.6-.3l.5 .5l.6 .9l.5 .9l.6 3.4l.5-.4l.6 .9l.5-1.7l.6 1.8l.5 1.9l.6 1.4l.5 3.3l.6-1.8l.5-.1l.6-1.3l.5 2.8l.6-1.9l.5-2.9l.6-2.5l.5 1.4l.6 1.6l.5 10.3l.6 1.3l.5-7.1l.6 6.9l.5-5.6l.6 3.5l.5-1.3l.6 .1l.5 4.5l.6-1.4l.5 3.6l.6-3.2l.5-2.7l.6 4l.5-1l.6 .2l.5-.4l.6 .5l.5 1.6l.6-.5l.5-.3l.6 .5l.5-2l.6 2.9l.5 3l.6 1l.5-2l.6 4.7l.5-3.6l.6-.7l.5 4.9l.6-.2l.5-2.5l.6 4.9l.5 1.1l.6-1.7l.5 1.6l.6-3.7l.5 7.7l.6 1.9l.5-1.5l.6 1.6l.5 3l.6-3.5l.5 2.1l.6-3.3l.5 8.4l.6 .2l.5-4.6l.6 1.5l.5-3l.6 3.2l.5 3.6l.6 4.6l.5-2l.6 .2l.5-.7l.6 1l.5 1.2l.6-4.7l.5 7.3l.6 .6l.5 2.1l.6-.4l.5-1.2l.5 3.7l.6-4.6l.5 3.6l.6-6.6l.5 5.4l.6-3.4l.5 5l.6 2.1l.5-.4l.6-1.5l.5 7.7l.6-7l.5-.5l.6 5.4l.5 1.4l.6-3.9l.5-1.3l.6 3.1l.5 1.7l.6 .6l.5 2l.6 2.3l.5-.4l.6 6.6l.5-1.4l.6-.5l.5 .6l.6 5l.5-2l.6 5.6l.5-1.7l.6 5.9l.5-3.5l.6-1.2l.5 4.7l.6 1.4l.5 .4l.6-4l.5-1.1l.6 5.1l.5-.8l.6 4.1l.5 1l.6-8.4l.5-.3l.6 3.2l.5 1.2l.6 1.6l.5 1.8l.6 .7l.5-2.4l.6 7.3l.5 1.1l.6 .9l.5 3.1l.6-4.7l.5-.6l.6 2.4l.5 2.6l.6-.3l.5 1.6l.6 2.9l.5-.3l.6-6.9l.5 2.1l.6-.3l.5 1.6l.6 .8l.5 1l.6 .1l.5-.3l.6 2.2l.5-.8l.6 .5l.5 4.1l.6 6.2l.5-3l.6-2.1l.5 2.6l.6-3.3l.5 2.3l.6-1.6l.5-1.2l.6 2l.5 2.7l.6 2.1l.5-4.4l.6 5.6l.5-6.6l.6 3.7l.5 1.5l.6 2.8l.5-1.4l.6 2.5l.5-2.1l.6 4.2l.5-1.6l.6 3.8l.5 1.7l.6-1.3l.5-4.3l.6 3.4l.5 1.2l.6 1.5l.5 5.9l.6-2.1l.5 1.6l.6-2.9l.5 0l.6 1.4l.5-1.3l.6 7l.5 2.5l.6-2.4l.5 3.3l.6 1.8l.5 3.4l.6-1.6l.5-.8l.6-.6l.5 1.4l.6 1.5l.5-.2l.6 4.1l.5-1.9l.5 .4l.6 5l.5-4.7l.6 6.1l.5-.7l.6 .3l.5 1.8l.6-4.7l.5 8.2l.6-2.8l.5 .3l.6-2.7l.5-1.6l.6 1l.5 9.2l.6-1.6l.5 .6l.6 .4l.5 2.3l.6-3.1l.5 5.9l.6-8.6l.5 .2l.6 1.5l.5 .9l.6-3.5l.5 5l.6-2.6l.5 4.6l.6-1l.5 5.6l.6-1.1l.5-.9l.6 4.6l.5-8.7l.6 4l.5-1.4l.6 4l.5 2.5l.6 .6l.5-.5l.6-2.6l.5-3.5l.6 1.5l.5-.2l.6 .8l.5 2.8l.6-.6l.5-2.5l.6 2.5l.5 .5l.6-1.8l.5 5l.6-.3l.5 7.1l.6-2.9l.5 1.2l.6 3.3l.5-3l.6 0l.5 1l.6-4.6l.5-.7l.6 1l.5-1l.6 .2l.5 10.7l.6-.8l.5-1.3l.6 5.1l.5-9.5l.6 1.5l.5 1.1l.6-1.1l.5 .4l.6 .9l.5 1.8l.6 .1l.5-1.9l.6 3.2l.5-2.1l.6 2.7l.5 1.8l.6-1.1l.5 1.7l.6 3l.5-5.7l.6 2.8l.5-.8l.6 0l.5-.3l.6 1.9l.5-4l.6 2.7l.5-1.2l.6 1.1l.5-.3l.6 2.9l.5-4.5l.6-2.8l.5 .6l.6 1.7l.5 3.9l.6 6.1l.5 .6l.6-.2l.5-3.8l.6 5.5l.5-4.8l.6 2.9l.5 0l.6-.1l.5 2.1l.6 2.8l.5-6.7l.6-4.2l.5 1.3l.6 2.2l.5 4.7l.6-2.9l.5 2.9l.6-1.8l.5 1.3l.6 .5l.5 .3l.5-.3l.6 3l.5 6l.6-3l.5 5.3l.6-3.5l.5 4.5l.6 0l.5-4.5l.6 5.1l.5-1.3l.6 1.2l.5 3.7l.6-4.5l.5 2.7l.6 2.1l.5-1.2l.6-.8l.5 6.2l.6-5.8l.5 6.3l.6-6.3l.5 4.4l.6 2.3l.5-5.1l.6 6.8l.5 1l.6 4.3l.5-3.3l.6-1.9l.5 1.5l.6 1.2l.5-2.7l.6 5.8l.5-3.1l.6-.1l.5-.5l.6 3.9l.5-5l.6 1.1l.5 .6l.6-.4l.5 2.7l.6-1.2l.5-1.2l.6-2.7l.5-2.5l.6 2.6l.5-.5l.6 8.3l.5-3.3l.6 1.9l.5-1.7l.6 3.4l.5-.7l.6 3.2l.5 .1l.6 3.1l.5-4.8l.6 5.4l.5-.5l.6-2.8l.5-.5l.6-2.7l.5-.2l.6 2.1l.5-1.4l.6-3.3l.5 3l.6 1.2l.5-2.3l.6-3.2l.5-1.5l.6-1.4l.5-2l.6 2.6l.5-1.4l.6 8l.5-1.4l.6 1.8l.5 3.9l.6-6l.5 1.2"/>
<path stroke="#000" stroke-width="5.7" stroke-dasharray="35 12 7 12" d="M250.5 3089.1l.5 1.1l.6-8.8l.5 .3l.6-4.8l.5-2.4l.6 20.2l.5 7.2l.6 6.2l.5-10.5l.6-8.4l.5 13.3l.6 8.9l.5-17.7l.6 9.1l.5-14l.6-6.1l.5 5.3l.6-1.7l.5-13.8l.6 11.7l.5 9.8l.6 5.2l.5-5.6l.6-15.2l.5-27l.6 15l.5 21.2l.6 11.7l.5 13.9l.6 5.9l.5-3.1l.6-26.3l.5-5.7l.6 8l.5 16.9l.6 .5l.5-6.5l.6-8.2l.5-14.2l.6-3.7l.5-12.2l.6 22.8l.5-.4l.6-10l.5-4.8l.6 16.5l.5-6.7l.6 16.5l.5-17.6l.6-11.2l.5 1.8l.6 8.8l.5-.2l.6 11.2l.5-8.5l.6 7l.5-40.9l.6-118.8l.5-119.6l.6-118.9l.5-105.6l.6-105.7l.5-105.5l.6-58.9l.5-34.5l.6-35l.5-34.5l.6-28.9l.5-8.7l.6-8.6l.5-8.5l.6-8.3l.5-8.5l.6-8.3l.5-8.5l.6-8.6l.5-7l.6-6.2l.5-7.2l.6-6.3l.5-6.6l.6-7l.5-5l.6-4.5l.5-5.1l.6-4.2l.5-5.4l.6-4.9l.5-9.2l.6-9.7l.5-2.8l.6 2.2l.5 4.7l.6 3.4l.5-3.6l.6 1.8l.5 2l.6 .1l.5 1.9l.6-5.3l.5 2.2l.6 .7l.5 4.1l.6-1.7l.5 3.6l.6-3.6l.5 1.9l.6-.5l.5-2.7l.6 2l.5-2.8l.6 8.1l.5-.7l.6 3.8l.5-1.9l.6-.5l.5-3.8l.6 .4l.5-1.5l.6-.2l.5-2.5l.6 1.9l.5-.9l.6 .7l.5 2.1l.5 .3l.6 .1l.5-1.4l.6-.5l.5-1.9l.6 .9l.5-9.2l.6 1.2l.5-4.1l.6 2.4l.5-.4l.6-.4l.5 1.3l.6-6.3l.5 3.1l.6-4.4l.5 3.6l.6-2.1l.5-3.4l.6-2.2l.5-4.4l.6-2.6l.5 3.4l.6-2.8l.5 1l.6-2.3l.5-2.4l.6 1.1l.5-.2l.6-1.6l.5 5l.6 4.5l.5-2.1l.6 .6l.5-4.2l.6 1l.5-1.3l.6 3.8l.5-8.7l.6 2.2l.5-2.8l.6 .2l.5 6.1l.6-.8l.5-3.4l.6-1.7l.5-.6l.6-.3l.5 1l.6-2.7l.5 4.9l.6-1.5l.5-2.4l.6 1.4l.5-1.9l.6-2.1l.5-.8l.6-.7l.5 3.3l.6 .4l.5-1.6l.6 1.3l.5-2.8l.6-1.8l.5-4l.6 4.8l.5-6.9l.6 5.3l.5-2.5l.6 4.1l.5-2.1l.6-3.1l.5 4.6l.6-1l.5-1.9l.6-.3l.5 3.2l.6-.6l.5-8.2l.6-.3l.5-1l.6 1.5l.5-2l.6-1.3l.5 4.3l.6-4.3l.5 8.6l.6-1.2l.5 2.9l.6-.9l.5-8l.6 .9l.5-3l.6 1.2l.5 11.3l.6-2.6l.5 2.3l.6 .7l.5-4.3l.6-2.2l.5-.4l.6 .2l.5-3.2l.6-2.8l.5 5.4l.6-3.1l.5-.8l.6 2.5l.5-1.5l.6-1.5l.5 3.8l.6 1.3l.5-3.1l.6 .7l.5-2l.6-1.9l.5 5l.6-4.3l.5-1.9l.6 2.3l.5-1.7l.6 .4l.5 3.6l.6-3.8l.5 2.7l.5 2.1l.6-5.6l.5 2.1l.6-2l.5-.2l.6-3.7l.5-.4l.6 3.4l.5-4.4l.6 0l.5-3.5l.6 1.8l.5-.7l.6 1.2l.5 1.8l.6-.8l.5 .3l.6-1.1l.5 4.1l.6-3.3l.5 2.3l.6 1.5l.5-.8l.6-.5l.5 .5l.6 6.1l.5-3.6l.6 3.1l.5-1.6l.6 5.2l.5-.9l.6 .6l.5 2.9l.6 .9l.5-1.8l.6 .4l.5 .8l.6-6.2l.5-.2l.6-6.2l.5 4.8l.6 .5l.5-2.3l.6-3.3l.5 .5l.6-2l.5 4.3l.6-4.3l.5-1.7l.6 .6l.5 2.2l.6 .6l.5-3.1l.6 4.2l.5-1.7l.6 1.7l.5-2.8l.6-6.4l.5 4.2l.6-2.7l.5 4l.6 4.5l.5 0l.6-2.9l.5 3.6l.6 .1l.5-1.2l.6-2.8l.5 2.8l.6-5.1l.5 2.6l.6 1.3l.5-2.6l.6 6.6l.5 .6l.6-1.8l.5 3.1l.6-7.4l.5-.6l.6-1.5l.5-1.8l.6 .9l.5 2.5l.6-.7l.5 1l.6 2.8l.5-3.3l.6 2.2l.5-2.7l.6 5l.5 .9l.6-2.4l.5 1.6l.6 .5l.5-1.7l.6 3.9l.5 2.6l.6 2.1l.5 3.8l.6 6.7l.5-1.5l.6 4.1l.5-2.4l.6 1.4l.5-5.1l.6 1.5l.5-4.4l.6 2.2l.5-3.2l.6 2.3l.5-2.5l.6-3.1l.5-.3l.6-5.5l.5-5.6l.6 6.7l.5-4.8l.6 2.8l.5 3.7l.6-1.2l.5 .1l.6 3.5l.5-2.8l.6 2.5l.5-2.4l.5-6l.6-.9l.5-.5l.6 1.7l.5 1.7l.6 1.3l.5-.3l.6-1.8l.5 5.8l.6 .6l.5 .8l.6-1.9l.5-.2l.6-1.1l.5-1.4l.6-1.6l.5 5.3l.6 .2l.5 .8l.6-3l.5-3.6l.6-.8l.5-.8l.6 6.9l.5 7.8l.6 1.2l.5 1.6l.6-1.6l.5-3.1l.6-.8l.5 1.5l.6 2.5l.5-4l.6 .6l.5 2.4l.6 3.7l.5-4.1l.6-1.2l.5-2.7l.6 0l.5 10.1l.6 1.8l.5 6.6l.6-3.5l.5 9.6l.6 1l.5 3.1l.6 3.6l.5-9.6l.6 .2l.5 2.3l.6 .4l.5-7.3l.6-3.1l.5 .1l.6 .5l.5-3.7l.6 .6l.5 2l.6-3.4l.5-2l.6 1l.5-4.1l.6 .9l.5 7.3l.6-3.5l.5 1.6l.6 1.6l.5 4.5l.6 1.6l.5 1.4l.6-2.7l.5-5.1l.6 2l.5-.5l.6 1.7l.5 3.3l.6-1l.5 .6l.6-1.1l.5 4.6l.6-1l.5 1.5l.6-.1l.5-2.1l.6 2.1l.5 2.8l.6-.1l.5-3.2l.6 0l.5 1.3l.6 .2l.5 6.9l.6-.4l.5 2.7l.6-1.1l.5 1l.6-.7l.5 1.8l.6 .3l.5-1.8l.6-.8l.5 3l.6 3.3l.5-2.6l.6 3.2l.5 3l.6-4.1l.5 4.1l.6 .4l.5 .3l.6 1.9l.5-1.3l.6 2.6l.5 1.4l.6 .2l.5 .5l.6-3.8l.5 4.3l.6-2.6l.5-1.3l.6 .4l.5 2.4l.6-3.7l.5 9.4l.5-2.7l.6 .5l.5 .2l.6-6.5l.5 1.2l.6-5.1l.5 1.9l.6-2.4l.5-1.2l.6 2.2l.5-1l.6 4.2l.5 .1l.6 3.8l.5 .7l.6 .5l.5 .3l.6 3.7l.5 4.1l.6-3.1l.5 4.6l.6 .2l.5 4.2l.6 8.3l.5-6.3l.6 5.8l.5-3.4l.6 .1l.5 2.2l.6 1.2l.5-5.4l.6-.3l.5-1.8l.6 1.8l.5-1l.6 5.7l.5 2.8l.6-.8l.5-2l.6 .3l.5-1.5l.6-.3l.5-2.1l.6 4.3l.5 6.7l.6-4.4l.5-2.3l.6 2.3l.5-.4l.6-3.9l.5 3.8l.6-4.1l.5 .7l.6 1l.5 3.1l.6 7.5l.5 2.3l.6 1.7l.5 2.3l.6-1.2l.5 3.1l.6 .6l.5 5.6l.6 2.1l.5 4.7l.6 1.8l.5 1.5l.6 7.5l.5 2.2l.6 6.7l.5 2.7l.6 2.5l.5 .6l.6 1.6l.5 4.9l.6 6.8l.5 2.4l.6 5.1l.5 9.1l.6 5.7l.5 6.8l.6 4.6l.5 4.4l.6 8.6l.5 5.2l.6 .2l.5 7.8l.6 3.6l.5-3.5l.6-5.6l.5 .8l.6-9.3l.5-2.7l.6-4.2l.5-2.2l.6-6l.5-7.4l.6-3.4l.5 .2l.6-10.4l.5-2.7l.6-6.7l.5 4l.6 6.7l.5 6.4l.6 4.7l.5 5.3l.6 4.5l.5 .6l.6-.9l.5 2.1l.6 5.5l.5 2.3l.6 2.1l.5 3.5l.6 .9l.5 3.4l.6 1.9l.5 4.2l.6 7.9l.5 7.6l.6 7.8l.5-5.9l.6-11l.5-6.5l.5-4.6l.6-8.2l.5 6.6l.6-6.7l.5-8.5l.6-2l.5 3.4l.6-1.1l.5 4.2l.6 3.2l.5-1.4l.6 6.3l.5 3.5l.6 1.6l.5 9.6l.6 3.6l.5 1.6l.6 9.5l.5 6.7l.6 3.9l.5 7.2l.6 3.2l.5-8.5l.6 1.9l.5-8.3l.6 1.6l.5-2.7l.6-.9l.5-2.9l.6-6.7l.5-6.2l.6-3.7l.5 .3l.6-4l.5 5.1l.6 .3l.5 1.6l.6 2.5l.5 6.4l.6 4.6l.5 .3l.6 4.3l.5-4.2l.6 5.2l.5 .1l.6 5.3l.5 3.1l.6 3.2l.5 5.6l.6-1.3l.5 2.7l.6 .5l.5-4.6l.6-2.8l.5-.9l.6 1.7l.5 .5l.6 .6l.5-2.8l.6-1.3l.5-1.7l.6-3.6l.5-1.7l.6 .4l.5-1l.6-1.4l.5 .7l.6-.2l.5 2.8l.6 1.1l.5 1.4l.6 1.5l.5 .8l.6 .6l.5 3.4l.6 .3l.5 1.3l.6 1.7l.5 4.2l.6 1.8l.5 4l.6-2.5l.5 7.1l.6-.8l.5 1.9l.6-2.9l.5-1.6l.6 .7l.5-2.3l.6 1.6l.5-2.5l.6-3.2l.5-1l.6 2.2l.5-2.8l.6-.8l.5-.3l.6 1l.5-.2l.6-2.5l.5 4.3l.6-.7l.5-1l.6-.2l.5 3.3l.6 .9l.5 3.3l.6 1.4l.5-.7l.6 .9l.5-.4l.6 4.1l.5-.6l.6 3.4l.5 3.1l.6-2.4l.5 3.8l.6 3.8l.5-8l.6 1.2l.5 4l.6-2.1l.5 4.6l.6 4l.5-1l.5 7l.6-.8l.5 2.9l.6-2.5l.5 5.6l.6 1.8l.5 1.6l.6 2.2l.5 1.6l.6-2.5l.5-1.1l.6-1.8l.5-1.7l.6-6.4l.5-6.3l.6 3.3l.5-5.2l.6 2.8l.5-3.5l.6 1l.5-3.6l.6 7.6l.5-2.4l.6-2.7l.5 1.8l.6-6.1l.5 3.2l.6-5.5l.5-2.8l.6-.5l.5 .6l.6 1.6l.5 4.4l.6-4.9l.5 4l.6 2.3l.5-2.9l.6 3.1l.5 .9l.6 2l.5 2.6l.6 1.6l.5 4.3l.6-.8l.5 3.4l.6-1.9l.5-2.6l.6 2.8l.5-4.2l.6 8.2l.5-4.2l.6 2.4l.5-1.9l.6 5.5l.5 4.4l.6-4.3l.5 1.7l.6-3.8l.5-3.5l.6 1.2l.5-.1l.6-1.8l.5 .7l.6 1.6l.5 1.6l.6-9.2l.5 3.7l.6 1.7l.5-6.2l.6-.6l.5 6.5l.6-2.1l.5 4.8l.6 4.7l.5 3.6l.6 3.3l.5-2.5l.6 1l.5-.6l.6 3.5l.5-2.6l.6 3.1l.5 4.3l.6 1.7l.5-7.3l.6 4.4l.5-6.6l.6-3.5l.5 0l.6-2.4l.5 1.1l.6-6.2l.5-4.6l.6-3.7l.5-4.3l.6 2l.5 .1l.6 1.9l.5 1.5l.6-1l.5 3.2l.6 2.8l.5 4.4l.6-1.9l.5 .7l.6 9.4l.5 1l.6 4.7l.5-.5l.6-8.7l.5 1.3l.6-4.6l.5 2.1l.6 4.9l.5-6.5l.6 6.1l.5-.8l.6 .2l.5-1.9l.6-5l.5 4.7l.6-3.6l.5 3.2l.6-2.2l.5-5.7l.5 4.4l.6 .3l.5-1.4l.6 1.3l.5-5.7l.6 2.6l.5 .3l.6-1.8l.5 .8l.6 .5l.5-2.6l.6-1.2l.5 5.8l.6 3.5l.5 .2l.6-3.3l.5-1.5l.6 1.8l.5 0l.6-.1l.5 3.7l.6 .3l.5 2l.6 3.7l.5 1.7l.6 1l.5 0l.6 2.5l.5-5.3l.6 .8l.5 1.1l.6-.8l.5-1.3l.6-3.7l.5-2.7l.6-3.5l.5 5.7l.6-2.8l.5-3.1l.6 2.2l.5-8.2l.6 .2l.5-1.6l.6-2.3l.5-1.8l.6-1.2l.5 2.4l.6-2.1l.5 4.5l.6-1.2l.5-6l.6 4.9l.5-6.2l.6 .1l.5 .5l.6-4.9l.5 3.4l.6-5.8l.5 4.5l.6-2.9l.5 8.2l.6 1.2l.5-1.1l.6-2.9l.5-.3l.6 3.1l.5-7.3l.6 4.6l.5-5.5l.6-3.5l.5 5.6l.6-2.4l.5 5l.6-.2l.5-.1l.6 2.6l.5-1.9l.6 2.4l.5-1.4l.6 1.8l.5-6.7l.6 3.7l.5-.7l.6 .6l.5 .9l.6 2.9l.5-2.6l.6-.1l.5-3.9l.6 3.3l.5-.6l.6-1l.5-6.9l.6-2.2l.5 2.6l.6-.5l.5-.4l.6 2.6l.5-1l.6 1.5l.5-3.3l.6 .9l.5-5.9l.6 2.3l.5-1l.6 2.9l.5-2.4l.6 1.1l.5 3.7l.6 .9l.5-1.7l.6-6.5l.5 4l.6-2.8l.5-.9l.6 .6l.5-.6l.6 2.9l.5-5.1l.6-1.4l.5 4.8l.6 1.1l.5-.1l.6 .9l.5-.7l.5 1.9l.6 .8l.5 8l.6-5.4l.5 2.7l.6 4.2l.5 3.5l.6 1.6l.5-1.2l.6 8.9l.5 1.1l.6-8.1l.5-8.3l.6-10l.5-4.6l.6-6.3l.5-7.6l.6-1.8l.5-4.7l.6-1.7l.5 .6l.6-5.3l.5 3l.6 1.8l.5-4.6l.6 3.6l.5-5.9l.6-2.8l.5 3.9l.6-.1l.5 4.2l.6-4.3l.5 4l.6-.1l.5-.7l.6 1.4l.5 2.4l.6-.9l.5 1.5l.6-.5l.5 1l.6-4.6l.5-3.4l.6 7.6l.5-1.4l.6-1.4l.5-2.9l.6 .7l.5-5.6l.6-3.7l.5 1.7l.6-2.7l.5-2l.6-1.3l.5 .2l.6-4.1l.5 .4l.6-1.2l.5-2.3l.6 3l.5-3.4l.6 5.7l.5-2.9l.6 10.6l.5-1.4l.6 .6l.5 3.6l.6-5.4l.5-1l.6 .4l.5 3.5l.6 2.1l.5-3.7l.6 3.3l.5-5.6l.6-2.5l.5-1.5l.6-.6l.5-.3l.6-2.2l.5-.6l.6-4.7l.5 1l.6 .9l.5-3l.6-1.3l.5 4.1l.6-8.2l.5 5.1l.6-2.3l.5-2.7l.6-3.3l.5-6.3l.6 2l.5 .9l.6-5l.5-.6l.6-1.5l.5-3.4l.6 3.9l.5-1.5l.6-.6l.5-4.1l.6-7.2l.5-2.1l.6-1.2l.5-4.8l.6 .7l.5-5l.6-4.2l.5-3.3l.6-4l.5-.9l.6-3.3l.5-2.6l.6-1.6l.5-4.6l.6-5.9l.5-1.6l.6 3.3l.5-3.5l.6-6.1l.5-2.7l.6-4.7l.5-1.8l.5-.3l.6-2.9l.5 4.3l.6-8.6l.5-3l.6-5.1l.5-4.4l.6-7.8l.5-1l.6-.6l.5-3.5l.6 2.6l.5-2l.6 1.7l.5 9l.6-1.3l.5 1.3l.6-2.2l.5-1.9l.6-.3l.5 .1l.6-1.5l.5-5l.6-1.4l.5 2.5l.6 .6l.5 1.6l.6-2.9l.5 1.7l.6 5.2l.5 1.8l.6 1l.5-.4l.6-2.1l.5-9.3l.6-.8l.5 1.7l.6-3.9l.5 8.4l.6-3l.5-2.6l.6 2.5l.5-11.1l.6-2.7l.5 3.1l.6-2.8l.5 7l.6-2.1l.5-1.5l.6-.1l.5-3.5l.6 .7l.5 .6l.6-2.3l.5-4.4l.6 3.8l.5-1l.6-1.5l.5-1.7l.6 5.2l.5-4.2l.6-5.7l.5 2.5l.6-4.2l.5-1.5l.6 2.6l.5-3.1l.6 3.7l.5 2.8l.6-2.9l.5-2.2l.6-2.8l.5 3.4l.6 3.6l.5-8.3l.6 3.1l.5-4.7l.6-3.6l.5 6l.6-.8l.5-1.4l.6-1l.5-1.1l.6-.3l.5-1.5l.6 2.7l.5-4.5l.6 .3l.5 2.2l.6-1.4l.5 .2l.6 1.4l.5-7.7l.6 1.8l.5 .2l.6-2.7l.5 1.7l.6-.7l.5-5.9l.6 3.8l.5-1l.6 .8l.5-2.1l.6-4.4l.5 1.9l.6-5l.5 4.2l.6-2.5l.5 1.4l.6-4.5l.5-6.7l.6 3.4l.5 1.4l.6-4l.5 1.4l.6 6.7l.5-1.5l.6 9.9l.5-2.1l.6 2.1l.5 5.9l.6 1.8l.5 2.4l.6-1.6l.5-3.2l.5-7.8l.6 9.9l.5-7.1l.6-1.3l.5-4l.6-8.5l.5 0l.6-2l.5-8.6l.6-9.6l.5 2.8l.6 2.3l.5 .6l.6 6.3l.5 .2l.6 .3l.5 .1l.6-4.9l.5-.8l.6 1.7l.5-.3l.6 8.6l.5-.5l.6 2.8l.5-1l.6-2.4l.5-2.8l.6 2.6l.5 .6l.6 5.1l.5 .8l.6-.1l.5-3.3l.6-1.7l.5-1.2l.6 2.5l.5-2.1l.6 3.1l.5-5.9l.6 3.3l.5-4.8l.6 1.2l.5-3.1l.6 2.6l.5 1.8l.6-10.8l.5 1.3l.6-.1l.5-1.7l.6 3.6l.5 4l.6-4.5l.5 .3l.6-2.8l.5 1.5l.6-2.2l.5 2.3l.6-2.1l.5 .6l.6 2.1l.5-4.4l.6-5.3l.5 1.4l.6 2.3l.5-1.6l.6 2.7l.5 1.3l.6-.4l.5 .4l.6 4.9l.5-2.3l.6 2.2l.5-1.7l.6 5l.5-1.7l.6 2.8l.5-1l.6-2.1l.5-4.8l.6-1.6l.5 4.6l.6-.9l.5 0l.6 1.9l.5-1.8l.6 4.8l.5-.5l.6-.1l.5 0l.6-1.5l.5-5.6l.6 .7l.5 .7l.6-.4l.5-3l.6 .6l.5-3.9l.6 3.3l.5-1.7l.6-2.2l.5 .6l.6-4.5l.5-2.1l.6 .8l.5 5.1l.6-6l.5 1.6l.6-.8l.5-2.1l.6 3.3l.5-1.5l.6 4.8l.5-7.1l.6 4.9l.5 .2l.6-.2l.5-1.8l.6 4.9l.5-7.3l.6 3.2l.5 .2l.6-4.9l.5 .8l.6 .5l.5 2.6l.5-8.2l.6 1.4l.5 1.9l.6-1.4l.5-3.9l.6 1.8l.5-3.2l.6 2.5l.5 5.6l.6 1l.5-.6l.6 2.7l.5-.1l.6-1.2l.5 .4l.6 1.1l.5-3.8l.6 1.2l.5-.8l.6-2.5l.5 .5l.6-.4l.5 2.1l.6 2l.5-2.1l.6-2.8l.5 1.7l.6-1.8l.5 2.2l.6-1.1l.5 5.4l.6-.7l.5 3.8l.6 1.5l.5 1.6l.6 3.7l.5-5.9l.6 2l.5 1.9l.6-.5l.5 2.6l.6 .9l.5-4.1l.6 4.7l.5-2.8l.6 4.6l.5 1.1l.6 .3l.5-2.9l.6-2.1l.5-5.3l.6 .7l.5 .4l.6-2.4l.5-4.5l.6 .1l.5-8l.6 1.2l.5-5.1l.6-.9l.5 5.6l.6 1.3l.5-3.8l.6-1.9l.5 .7l.6-.6l.5 2.8l.6 .9l.5 4.3l.6 .3l.5 4.9l.6-2.2l.5 4.9l.6 .5l.5 .4l.6 1l.5-1.1l.6 3.8l.5-1.6l.6-1l.5 2.7l.6 2.2l.5-1.2l.6-2.5l.5-6.1l.6-1l.5 0l.6 3.3l.5 .4l.6-2.3l.5-.7l.6 1.5l.5-.1l.6 2.9l.5-.5l.6-1.2l.5-1.1l.6 1.4l.5-1.2l.6 1.5l.5 3.9l.6-4.5l.5 4.9l.6-5.3l.5 8.6l.6-3.7l.5 3l.6 .9l.5-8.7l.6 .9l.5 .6l.6 3.5l.5 .7l.6-1.3l.5 1.6l.6 1.7l.5 0l.6-1.6l.5 1.3l.6 2.8l.5 3.3l.6 0l.5 2l.6 7.1l.5-2.8l.5-.9l.6-.2l.5 5.3l.6-12.4l.5 6.5l.6 1.7l.5 3.2l.6-2.1l.5-2.2l.6-1.8l.5-.7l.6-2l.5-1.5l.6-5.2l.5 0l.6 .3l.5 3.2l.6-2.1l.5-7.3l.6-4.3l.5 1.5l.6 2.5l.5 .6l.6 1l.5-.7l.6 5.8l.5-2l.6 4.4l.5 1.8l.6 .1l.5 1.3l.6 4.9l.5-2.1l.6 6.9l.5 .8l.6-2.7l.5 1.4l.6 .6l.5 .3l.6 6.2l.5 2l.6-6.4l.5 3.8l.6-1.8l.5-.4l.6 1.5l.5-.5l.6-4.6l.5-.7l.6-.9l.5 2.8l.6-.1l.5 3.1l.6-4.4l.5-3.2l.6 6.8l.5-2.2l.6 .2l.5 4.1l.6-7.8l.5 6.9l.6-.5l.5-1.1l.6 4.4l.5 5.2l.6 3l.5-2.6l.6-4l.5 3.4l.6 3.7l.5 2.5l.6-3.6l.5 4.6l.6 2.8l.5-.7l.6-4.3l.5-1l.6 1.9l.5-.2l.6-6.9l.5-1.1l.6 .3l.5 2l.6-2.8l.5-3.5l.6 8.9l.5 1.4l.6 7.2l.5 2.1l.6-2.7l.5 3.6l.6 2.9l.5 2.3l.6-.1l.5 3.2l.6-2.5l.5 1.3l.6 2.8l.5-7.6l.6-1.4l.5-5.1l.6 1.8l.5 .2l.6 9.3l.5-3.6l.6-4.3l.5-.2l.6 1l.5 3l.6-3.8l.5 4.8l.6-2.3l.5 3.5l.6-2.9l.5 5.5l.6 1.5l.5 2.4l.6 2.8l.5-1l.6 4.6l.5 1.9l.6 2.1l.5-1.2l.6-2.7l.5-2.1l.5 1.6l.6 6.1l.5-1.6l.6-1.3l.5-4.4l.6 2.2l.5 16.2l.6-2.9l.5 4.8l.6-3.7l.5-7.1l.6 1.3l.5 .8l.6-3.4l.5-1.5l.6 1.5l.5-7.3l.6 7.4l.5-5.6l.6-.1l.5 1.1l.6 .1l.5 3.2l.6-3l.5 2.4l.6 4.5l.5 1.2l.6 3.7l.5 .2l.6 5.7l.5-2.8l.6-2.9l.5 8.6l.6 3.1l.5 2l.6 4.8l.5 5.5l.6 2.6l.5 3.7l.6 1.8l.5 4l.6-.5l.5 5.2l.6 2.5l.5 1.6l.6 2.8l.5 3.6l.6 1.3l.5 4.3l.6 7l.5 .5l.6 2.7l.5 2.6l.6 2.9l.5 8.1l.6 3.2l.5 3.4l.6 6l.5-10.8l.6 8.6l.5 .2l.6-3.1l.5 12.2l.6 2.2l.5 1.3l.6-1.7l.5-.2l.6-1.9l.5 1.2l.6-4.8l.5-1.9l.6-1.5l.5 .4l.6 2l.5-1l.6 1.4l.5 1.8l.6-3.1l.5 10.9l.6-5l.5 4.2l.6-1.6l.5-1.2l.6-2.1l.5-1.4l.6 .6l.5 6.1l.6 .2l.5 3.1l.6 1.4l.5 0l.6 3.5l.5-3.1l.6 5.7l.5 4.2l.6 .1l.5-1.9l.6 4.3l.5 .7l.6 2.4l.5-1.2l.6 3.7l.5-1l.6 1.8l.5-.4l.6 2.1l.5 7.2l.6 .6l.5 .4l.6 3.5l.5-6.7l.6-1.8l.5 6.6l.6-6.4l.5-4.2l.6-.2l.5-2.1l.6-3.5l.5 1.5l.6 1.1l.5 1.7l.6-6.3l.5 .3l.6 3.6l.5 2.8l.5 1.8l.6 4.8l.5 4.8l.6 .9l.5 .8l.6 0l.5-.7l.6-1.2l.5-1l.6 9.1l.5-1.9l.6 4.7l.5 .9l.6-8l.5 3.6l.6 1.1l.5 2.1l.6-5.6l.5 1.2l.6 2.6l.5 .7l.6-3.4l.5-.2l.6 3.2l.5 .1l.6-1.7l.5 6.6l.6-7.9l.5-4.4l.6 1.4l.5 1.9l.6-1.7l.5 1.9l.6 4.4l.5-1.2l.6 3.5l.5-3.9l.6-3.7l.5 2.4l.6 1.6l.5 3l.6 1.3l.5 5l.6-3.6l.5 1.2l.6 1.9l.5 3.1l.6-2l.5 4.1l.6 5.2l.5 2.2l.6 .7l.5 2.9l.6-6.2l.5 .4l.6 .5l.5 2.5l.6-1.8l.5-.2l.6-.2l.5-1.8l.6 6.7l.5-1.7l.6 2.1l.5 .8l.6 4.8l.5-5.6l.6 4l.5 .8l.6-3.7l.5 3.6l.6 0l.5-1.8l.6 4.6l.5-1.8l.6-2.6l.5 5.2l.6-2.5l.5-1.2l.6 4.5l.5-3l.6-1.3l.5 3.2l.6-2.6l.5-1.1l.6 1.3l.5 2.6l.6-2.7l.5 2.4l.6 1.5l.5 1.9l.6-.5l.5-1.5l.6 .2l.5-2l.6 2.1l.5 .8l.6-.2l.5 5.4l.6-1.4l.5-1.6l.6 3l.5-.7l.6 .3l.5 4.9l.6-10.5l.5 4.1l.6-.6l.5-2.7l.6 7l.5 0l.6-.8l.5 2.6l.6-5.9l.5 1.4l.6 1.1l.5 1.1l.6 5.3l.5 5.2l.6-2.5l.5 .6l.6-11.8l.5-3.1l.6 3.7l.5-1.1l.5 9.1l.6-4.4l.5 4.7l.6-.5l.5-6.1l.6 3.8l.5-2.1l.6 1l.5 15.3l.6 5.8l.5 2.5l.6-1l.5-4.9l.6 8.6l.5 0l.6-3.1l.5-6.7l.6 1.4l.5 3.2l.6-.2l.5 3.2l.6-.2l.5 2.6l.6-4.6l.5-4.1l.6 2.9l.5-4.2l.6 .7l.5 .5l.6-4.2l.5 1.4l.6 1.2l.5-1.1l.6-5.7l.5 .4l.6 1.5l.5-5.1l.6 1.3l.5-3l.6 4.8l.5 6.1l.6 .4l.5-.5l.6-.3l.5-2.2l.6 0l.5 1.2l.6-3.3l.5-5l.6 4.5l.5-4.5l.6 1l.5 3.4l.6 3.8l.5 1.1l.6-4.1l.5 9.4l.6-3.2l.5 .6l.6 .4l.5-1.5l.6-.9l.5 .3l.6-.6l.5-.4l.6-1.4l.5-.9l.6 1.1l.5 6.3l.6-.6l.5-2l.6 1.5l.5 0l.6-.1l.5-1.6l.6 .7l.5-7.6l.6 3.7l.5 1.6l.6-.2l.5 1.6l.6-1.1l.5-1.3l.6-1.1l.5 .9l.6 1l.5-1.4l.6 1.2l.5 5.2l.6-1.5l.5-1.4l.6 3.6l.5-5.8l.6 3.5l.5 2.8l.6-3.6l.5-1.6l.6-.5l.5 4l.6-4l.5 8.8l.6 3.9l.5-.1l.6-3.5l.5-8.8l.6 1.2l.5 5.7l.6-5.7l.5 4.5l.6-1.9l.5 .4l.6-2.9l.5 2l.6 2.5l.5-.8l.6 2.6l.5 .5l.6-2.4l.5 2.3l.6 1.1l.5-8.2l.6 3l.5-1.3l.6-.5l.5-2.1l.5 1.2l.6-1.1l.5 .3l.6 3.7l.5 3.6l.6-3.6l.5-.3l.6-2.1l.5 .1l.6 5l.5-1l.6-4.5l.5 .8l.6 1.2l.5 .3l.6-6.7l.5-.1l.6 1.1l.5-3.4l.6-1.1l.5 2.8l.6-1l.5 4.1l.6 1.7l.5 1l.6-4.5l.5-1l.6 7.3l.5-1.2l.6 .6l.5-1.3l.6 2.2l.5-4.4l.6 2.8l.5 .4l.6-3.4l.5-1.6l.6-3.2l.5 1.5l.6-.1l.5 1.2l.6 .2l.5-2.5l.6-3.2l.5-.8l.6 1.9l.5 2l.6 3l.5-1.4l.6-.9l.5 .1l.6-5.2l.5 .5l.6-.4l.5-1.2l.6-.7l.5-2.1l.6 2.6l.5 0l.6 2.8l.5 2.9l.6-4.4l.5 7.5l.6-17.2l.5-.7l.6-3.6l.5 2.1l.6 7.9l.5-1.6l.6 1.6l.5-.4l.6-2.4l.5 .2l.6-3.2l.5 8.2l.6 .5l.5-2.1l.6-1.5l.5 1.7l.6-1l.5-1.4l.6-4.9l.5 3.6l.6-3.5l.5-.8l.6-2.6l.5 1.8l.6-3l.5 .7l.6 .2l.5-1.1l.6 13.1l.5-1.6l.6-1.3l.5-.9l.6-12l.5-.4l.6-4.2l.5 6.6l.6-4.5l.5 1l.6 1.9l.5-2l.6 1.2l.5-1l.6-1.5l.5-1.1l.6 4.8l.5-2.8l.6 3.2l.5-6.2l.6-3.6l.5 .9l.6-5.3l.5 .6l.6 2.3l.5-1.5l.6-.6l.5 .6l.6-7.8l.5-1.9l.6 .5l.5-2.1l.6-.8l.5-8.1l.5 2.1l.6-.4l.5-.9l.6-2.2l.5 .2l.6-2.3l.5 3.4l.6 4.4l.5-.1l.6 10.8l.5 5.5l.6 1.6l.5 1.5l.6 4.4l.5 6.8l.6-3l.5-4.5l.6-1l.5-7.1l.6-3.1l.5-.2l.6-3.5l.5-7l.6-4.2l.5-4.4l.6 .6l.5-2.2l.6-6.4l.5 4.5l.6-4.8l.5 8.1l.6-.3l.5-1.3l.6 1.3l.5-4.5l.6 .2l.5 5.7l.6-4.7l.5 4.5l.6-3.2l.5-1l.6 2.3l.5 2.4l.6 0l.5-1.1l.6 .6l.5-4.2l.6-3.1l.5 .3l.6 4l.5-4.3l.6 0l.5-2.7l.6 3.4l.5-2.5l.6-5.8l.5 5.1l.6-3.8l.5-5.5l.6 1.6l.5-2.3l.6 1.1l.5 6.3l.6-1.9l.5-4l.6 1.4l.5-8.2l.6-.2l.5 .8l.6 .8l.5-12.2l.6 3.6l.5-.2l.6-2l.5 5.2l.6 .7l.5-1.2l.6 .1l.5-.1l.6 1.4l.5-3.2l.6 2.2l.5 1.7l.6-.2l.5-2.4l.6-1.6l.5 8l.6 .1l.5-2.2l.6-.2l.5-4.2l.6 1.6l.5 1.3l.6-4l.5 6.6l.6-.6l.5 .1l.6-2.2l.5-9l.6-1.4l.5-5.2l.6 .5l.5 6.2l.6-2.7l.5-4.5l.6 2.5l.5 .1l.6-4.1l.5-.2l.6-4.3l.5-.1l.6-4.8l.5-3.6l.6-3.9l.5-12.6l.6-8.6l.5-3.9l.6-13.7l.5-5.7l.6-8l.5-5.4l.6-10l.5-5.3l.6-5.7l.5-5.4l.5-5.4l.6 3.9l.5-8l.6 1.7l.5 2l.6 2.6l.5 2.7l.6 4.1l.5 2.2l.6 3.2l.5 3.4l.6 2.5l.5 6l.6-8.6l.5-2.3l.6 3.2l.5-1l.6 7.3l.5-2.5l.6 2.2l.5-.5l.6-10.9l.5-7.9l.6 .9l.5-8.2l.6 6.3l.5-6.9l.6-5.2l.5-1.3l.6 .7l.5-.2l.6 3.6l.5 .5l.6-3.8l.5 2.8l.6-1.3l.5-.9l.6 10.9l.5 2.3l.6 1.4l.5 .1l.6-3.1l.5-1.8l.6 1.8l.5 5.5l.6-5.7l.5-2.9l.6 4.3l.5-6.6l.6-5l.5-3.7l.6 1.6l.5-1.8l.6-1.4l.5-2.4l.6-3.2l.5 0l.6-.6l.5 1l.6-1.9l.5-2l.6 5.8l.5 .1l.6-2l.5 4.3l.6-5l.5-1.3l.6-1.9l.5 1.8l.6 3.8l.5-3.3l.6 2.7l.5-.7l.6-10.4l.5 .3l.6 4.4l.5-5.8l.6 7.8l.5-.4l.6 6.8l.5-4.7l.6-4.4l.5 0l.6-1.7l.5-2.6l.6-6l.5-1.7l.6 1.7l.5-3.9l.6 5.6l.5-7.2l.6 2.8l.5 .3l.6-4.8l.5 2l.6-3.5l.5-2.3l.6 3l.5-2.2l.6 4.5l.5 .9l.6-3.8l.5-.8l.6 .3l.5-2.8l.6 2.7l.5-1.4l.6-1.9l.5 1.1l.6-2.4l.5-1.3l.6 2.3l.5 2.4l.6-5.1l.5 2.4l.6-4.5l.5-1.2l.6-3l.5-2.6l.6-5.4l.5-.6l.6-5.5l.5 2.2l.6 .2l.5 6.7l.5 13.3l.6 2.5l.5-2.8l.6 10.2l.5 .9l.6 .3l.5 3.3l.6-2.6l.5 2.5l.6-6l.5-2.8l.6-6.9l.5 3.5l.6 2.5l.5-8.8l.6-.6l.5-14.2l.6 .5l.5 3.3l.6-2l.5 4.8l.6-1.7l.5 2.2l.6-.6l.5 8.3l.6 1.4l.5-3.2l.6 5.4l.5-6.2l.6 1.1l.5 2.6l.6 .3l.5 5.5l.6-1.3l.5 2l.6-6.1l.5-6.5l.6-2.3l.5 1.2l.6-6.7l.5-7.6l.6 1.6l.5-1.7l.6-5.6l.5 2.3l.6-.7l.5 3.3l.6-6l.5 11.4l.6-1.9l.5-.3l.6 1.4l.5 1.8l.6 1.7l.5-1l.6 .4l.5-7.1l.6 3.4l.5-.2l.6-.2l.5-7.2l.6 2l.5 4l.6-6.2l.5 4.1l.6 1.4l.5-4.4l.6 1.8l.5-4.5l.6-1.9l.5 1.3l.6 1.4l.5 7.5l.6-.5l.5-2.2l.6-.6l.5-3.9l.6-5.5l.5 2l.6 .2l.5-.3l.6-.7l.5 .9l.6 1.3l.5 1.8l.6 3.4l.5-2.3l.6-.5l.5-.3l.6 1.1l.5-.8l.6-1.8l.5-.6l.6 .1l.5-4.6l.6 3.7l.5 3.6l.6-.2l.5-2l.6 1.3l.5 2.8l.6 0l.5 .5l.6-3.5l.5-4.4l.6-2.2l.5 .1l.6 2l.5-1.2l.6 1.6l.5-2.9l.6 1l.5 4l.6-1.9l.5 2.7l.6 1l.5-6.5l.6 1l.5-6l.6 5.6l.5 3.1l.6 .4l.5-5l.6 6l.5-6l.5-.4l.6 .1l.5-.7l.6 0l.5 4.1l.6-1.9l.5-2.2l.6 .5l.5-1.2l.6 3l.5 2.6l.6-2.7l.5-2.5l.6 3.3l.5 .2l.6 .1l.5 1.6l.6-.8l.5 5.4l.6-2.1l.5 1.7l.6 0l.5 3.6l.6-7.6l.5 1.9l.6 1.1l.5 4.4l.6 7.5l.5 2.1l.6-1.7l.5 3l.6 2.5l.5 3.2l.6 .4l.5-3.3l.6-14.5l.5-.7l.6-2.3l.5-2.6l.6 12l.5-1.4l.6-3.4l.5 1.5l.6-16l.5-1.4l.6-3.4l.5-2.8l.6 6.7l.5-2.7l.6-1l.5 1.9l.6-7.2l.5 5.1l.6 .9l.5 .2l.6 6.4l.5 2.4l.6 3.6l.5 .2l.6-1.4l.5 4.7l.6-3.4l.5 2.5l.6 5l.5-6.2l.6 4.9l.5-3.7l.6 4.3l.5-1.5l.6 2.7l.5-2.1l.6-1.7l.5-2.4l.6-2.6l.5 1.9l.6 6.7l.5-6.6l.6 4.4l.5-1.8l.6-4.9l.5-.6l.6 2.7l.5-4l.6 7.7l.5-.9l.6 5l.5-7.2l.6 2.5l.5 .6l.6-4.9l.5 2.2l.6 .6l.5-1.1l.6 .2l.5 .8l.6-3.7l.5 4.1l.6 .1l.5 2.9l.6-3l.5 .3l.6 1.7l.5-.5l.6 5.1l.5-.8l.6 6.7l.5-2.3l.6 4.3l.5-1.6l.6 3l.5 1.6l.6 1.2l.5 3.9l.6 .7l.5 3.5l.6-9.1l.5 1.2l.6 4l.5-1.8l.6-2.6l.5 .1l.6-3.5l.5 .4l.6-.7l.5-2.9l.5-1.7l.6 .6l.5-5.7l.6 .5l.5-2.6l.6-.2l.5-2.4l.6 2l.5 .7l.6-.7l.5-1.1l.6 5.2l.5-1.6l.6 4l.5 8.3l.6 .2l.5 1.6l.6 1.4l.5-6.3l.6 0l.5 5.7l.6-4l.5 3.2l.6 1l.5 1.7l.6 2.5l.5 2.4l.6 3.2l.5 .1l.6-1.6l.5-2.5l.6 2.7l.5 .1l.6-.3l.5 3.6l.6 0l.5 2.5l.6-.7l.5-4l.6-3.1l.5 1.3l.6 .7l.5 2.2l.6 1.8l.5 2l.6-.6l.5-9.1l.6 3.1l.5-3.8l.6 2.7l.5 12.1l.6-1.4l.5-2.8l.6 3.8l.5-.7l.6 4.5l.5 1.6l.6-1.6l.5 2.1l.6 1.3l.5 1l.6-5.2l.5 5.8l.6 3.9l.5-5l.6 5l.5-5.3l.6-3.3l.5 4.7l.6-3.2l.5 3.4l.6-1l.5-.9l.6 2.1l.5-1.3l.6 .1l.5 3.6l.6-2.2l.5 2.3l.6-2.3l.5 4l.6-1.5l.5 4.1l.6 4l.5-1.2l.6-.6l.5-5.7l.6 2.6l.5 .2l.6-1.3l.5 2.7l.6 2.5l.5 .3l.6-1.3l.5 2.4l.6-1.6l.5 .5l.6 4.8l.5 .6l.6 .9l.5 1.6l.6 0l.5 1.3l.6-1.1l.5 3.7l.6 1.7l.5-2.7l.6 .2l.5 1.2l.6 1.4l.5 0l.6 .5l.5-.4l.6 3.4l.5 3.2l.6 1.3l.5-1.4l.6 4l.5-12.3l.6 1.1l.5 .8l.6-.8l.5 5l.6-.3l.5-.4l.5 1.4l.6 1.4l.5 4l.6-3.5l.5 .2l.6-.6l.5 1.1l.6 .6l.5 3.1l.6-.8l.5-1.4l.6-3l.5 5.4l.6 5.4l.5-2.8l.6 1.9l.5 .6l.6-.2l.5 3l.6 7.6l.5 1.7l.6 6.3l.5 2l.6 6.7l.5 1l.6-1.6l.5 1.6l.6 6.2l.5 .8l.6-3.1l.5 2.9l.6-1.1l.5 5.8l.6 10.8l.5 5.8l.6 1.2l.5 2.2l.6 .2l.5 6.6l.6 3.5l.5 2l.6-.7l.5 5.9l.6 .7l.5 6.7l.6-5.4l.5 1.8l.6 5.5l.5 .4l.6 9l.5 6.8l.6-1.5l.5 1.6l.6-8.5l.5 6.4l.6 .2l.5-4.5l.6-1.8l.5 2.9l.6-3.5l.5-.7l.6-6.2l.5-2.8l.6-2.3l.5 4l.6 15.6l.5-2.8l.6-5.3l.5 8.9l.6-7.4l.5 1.6l.6-3.1l.5 2.1l.6-3.6l.5 1.4l.6 .4l.5-1.1l.6 5.1l.5 2.3l.6 5.3l.5 1.6l.6-2.9l.5 1.2l.6 4l.5 .8l.6 1.5l.5 1.7l.6 2.2l.5-.1l.6 7.8l.5 2.2l.6-1.8l.5 5l.6 .6l.5 1.5l.6-.1l.5-.5l.6-6.5l.5 2.4l.6 3.8l.5-3.2l.6 7.4l.5-2.9l.6 0l.5 2.2l.6-3.3l.5 1.4l.6-1.5l.5 4.6l.6-3.3l.5 1.1l.6-1.4l.5 .4l.6-1.3l.5 1l.6-2l.5 1.3l.6 1.3l.5 1.4l.6-6.5l.5 6.6l.6 5.8l.5 .8l.6 .5l.5-1.1l.5 2.9l.6-1.8l.5 3.1l.6 2.8l.5-11.7l.6 1.9l.5 2.1l.6-.7l.5 14.6l.6-.1l.5 4.5l.6 1l.5-2.5l.6 4.1l.5-1.4l.6-.2l.5-.6l.6 2.1l.5-.6l.6-.3l.5 1.1l.6 1.8l.5 4.5l.6-3.4l.5 3.2l.6-.8l.5 1.3l.6 1.6l.5 1.3l.6 .3l.5-2.3l.6 2l.5 .2l.6 2.9l.5 .9l.6-1.4l.5 4.9l.6-4.5l.5 2l.6-2.9l.5 3.5l.6 1.2l.5 .2l.6-4.1l.5 1.9l.6-1.7l.5 3.4l.6 .9l.5 .8l.6-.5l.5-1.3l.6-3.2l.5 4.3l.6-.6l.5 3.6l.6 .8l.5-3.1l.6-.6l.5 2.4l.6-3.4l.5 5.7l.6 5l.5-.6l.6-3.3l.5 6.9l.6 1.3l.5 3.5l.6 3.5l.5 1.6l.6-2.3l.5 5.5l.6-2.3l.5 7.3l.6 2l.5-5.6l.6-1.4l.5-.4l.6-6.2l.5-1.2l.6-7.7l.5-1.5l.6-4.9l.5-1.8l.6-3.6l.5 3.2l.6-1.2l.5 3l.6-1.8l.5-4.8l.6 .3l.5-.3l.6 2.5l.5 .3l.6 6l.5-3.5l.6 7.1l.5-2.8l.6 5.3l.5 2.5l.6-1.7l.5-.9l.6-.4l.5 1.9l.6 2.6l.5-3l.6-.9l.5 2.4l.6-2l.5 6.3l.6 3.3l.5-1.4l.6 .6l.5-4.2l.6-2.2l.5-5.8l.6 8.5l.5 .5l.6-4.5l.5-.1l.6 1.8l.5 .3l.6 .1l.5-.1l.6-1.3l.5 10.8l.5-1.3l.6 2.3l.5-3.5l.6 2.8l.5-5l.6 2.4l.5-1.1l.6-12.7l.5 6.1l.6-.2l.5-2.6l.6 7.4l.5-.1l.6 2.4l.5 1.4l.6-.2l.5 5.2l.6 1l.5-.3l.6 .4l.5 3.5l.6 4.6l.5-4.2l.6 2.8l.5 3.4l.6-.6l.5-.4l.6 8.3l.5-4.7l.6-.5l.5-2.7l.6-2.4l.5-2.9l.6-3.7l.5-1.9l.6-5.6l.5-2l.6-3.3l.5-3l.6 .8l.5-.2l.6 .6l.5 .8l.6 5.1l.5 .6l.6 1l.5-2.1l.6-4.3l.5 .7l.6 2.5l.5-1.2l.6 .9l.5 4.9l.6-2.4l.5-1.9l.6 9.4l.5-.5l.6-2l.5-1.8l.6 5.9l.5-1.4l.6 4.8l.5-.6l.6-7.1l.5-1l.6 2l.5-3.8l.6 12.8l.5 3.8l.6-4.9l.5 .1l.6-8.1l.5 4.1l.6-1.2l.5-2.4l.6 3.6l.5-4.4l.6 5.3l.5 0l.6-4.4l.5-2.3l.6 1l.5 5.8l.6-8.5l.5 4.5l.6-6.4l.5 4.6l.6 .4l.5 1.9l.6-5.5l.5 6.5l.6-13l.5-.1l.6-.3l.5 2.3l.6 10.7l.5-1.5l.6-.2l.5-.5l.6-1.3l.5 .8l.6 .4l.5-1.8l.6 4.3l.5 3.1l.6-2l.5-2l.6-5.4l.5-1.3l.6 .9l.5-.3l.6 4.4l.5 2.2l.6-1.3l.5 1.6l.6-4.8l.5-3l.6 1.9l.5-3.6l.6-1.2l.5 3.3l.6-4.2l.5 1l.6-.5l.5-.1l.5 1.6l.6 .2l.5 1.5l.6-.1l.5-3.1l.6 1.1l.5-1.9l.6 1.7l.5-4.7l.6 1l.5 4l.6 3.5l.5-5.7l.6 3.2l.5 1.2l.6-.3l.5 1.1l.6 2.9l.5 1.8l.6-5.4l.5 0l.6 3.5l.5-7.4l.6-3.5l.5 2.3l.6 .5l.5-3.8l.6 2.1l.5-3.3l.6-1l.5 7.4l.6-1.7l.5 3.3l.6-5.4l.5-.8l.6 4.6l.5 1.3l.6-3.3l.5 .8l.6-3.8l.5 3.5l.6-.8l.5-.3l.6-.9l.5-4.1l.6 5.6l.5 4.1l.6 .1l.5-4.2l.6-2.5l.5-2.7l.6 7l.5-3.4l.6-.3l.5 4.6l.6-2l.5 2.3l.6 .7l.5 8.7l.6-3.7l.5-6.1l.6-1.4l.5 4.4l.6-4.4l.5 3.2l.6-3.8l.5-5.2l.6 .1l.5 .5l.6-1.1l.5-10.2l.6 3.5l.5-.6l.6-.3l.5-5l.6 .3l.5-.5l.6-1.9l.5 8.8l.6-1.4l.5-2.3l.6 .8l.5 5.8l.6-1.7l.5 3.9l.6-.1l.5-2.2l.6-.6l.5-1.2l.6 .9l.5-.3l.6-3.3l.5-1.6l.6 2l.5 .5l.6-3.6l.5-2.2l.6-.8l.5 3.9l.6-4.1l.5 .8l.6-3.6l.5-5.7l.6 2.2l.5-2.8l.6-1.9l.5-1.3l.6 .3l.5-.8l.6 .1l.5 3.6l.6 2.2l.5-2.6l.6 1.7l.5-3.7l.6 .1l.5-2.1l.6 3.3l.5-6.6l.6-.9l.5 1.2l.6-5l.5 3.5l.6-4.4l.5 1.2l.5-1.7l.6 3.6l.5 .5l.6 2.1l.5-3.5l.6 7l.5-3.8l.6 0l.5 2.8l.6-6l.5-.3l.6-3.1l.5 4.5l.6-2.1l.5-2.7l.6-5.4l.5-1.7l.6-4.6l.5 1.2l.6-4.9l.5-1.8l.6-5.4l.5 .5l.6-.5l.5 .8l.6 4.3l.5-2.7l.6 2.7l.5-1.4l.6-1.6l.5 3l.6-2.6l.5 .5l.6 4l.5 3.5l.6-1.7l.5-.6l.6-6l.5-1l.6-4.7l.5 .3l.6 4.4l.5-3.4l.6-2.6l.5 .2l.6-.3l.5 0l.6-2.7l.5-2l.6-11.8l.5 1.3l.6 1.9l.5-2.4l.6 4l.5-7.1l.6 1.3l.5 3.8l.6-2l.5 3.1l.6-4.8l.5-3.8l.6 11.4l.5-2l.6 .9l.5-3.1l.6-10.8l.5 1.8l.6 3l.5 .8l.6-1.5l.5-5.7l.6 4.3l.5-.8l.6 11.9l.5-3.8l.6-3.5l.5-1.6l.6-1.9l.5-.1l.6-5.7l.5 2.7l.6-2.2l.5 3.4"/>
<path stroke="#ff0000" stroke-width="6.5" stroke-linejoin="round" d="M250.5 2295.3l1.2-1.3l1.2-4.5l1.3-7.7l1.2-7.6l1.2-15.7l1.2-17.1l1.2-17.1l1.3-17.1l1.2-18.7l1.2-19.4l1.2-19.5l1.3-19.9l1.2-19.9l1.2-6.7l1.2-2.3l1.2-.1l1.3-.4l1.2-.4l1.2-.5l1.2-.2l1.2-.9l1.3-2.3l1.2-2.6l1.2-2l1.2-2.8l1.3-4.7l1.2-8.1l1.2-4.4l1.2 5.6l1.2 7.7l1.3 5.3l1.2 1.5l1.2 1.3l1.2 1.8l1.2 0l1.3-1.6l1.2-.8l1.2-.9l1.2-.6l1.3-.7l1.2 .8l1.2-.2l1.2 .3l1.2-.3l1.3 .4l1.2 1.2l1.2-.2l1.2-.4l1.2 .8l1.3-.3l1.2-.9l1.2 .9l1.2 .4l1.3 .7l1.2-.3l1.2 .3l1.2-.7l1.2-.2l1.3-.5l1.2 0l1.2-.2l1.2 .7l1.2 .8l1.3-.2l1.2 .4l1.2-.5l1.2 .4l1.3-.3l1.2-.1l1.2 .6l1.2-.5l1.2-.1l1.3 1l1.2 .9l1.2-.8l1.2 .2l1.2-.4l1.3-.4l1.2-.4l1.2-.2l1.2 1l1.2 .1l1.3 .7l1.2-.2l1.2 .7l1.2-1l1.3-.2l1.2-.7l1.2 .6l1.2-.3l1.2 .5l1.3 1.2l1.2 .1l1.2 .3l1.2 .1l1.2-.4l1.3-.2l1.2-.7l1.2-.3l1.2 .6l1.3 .8l1.2-.2l1.2 .8l1.2 .1l1.2-.1l1.3-.3l1.2-.8l1.2 .1l1.2-.1l1.2 .8l1.3 .6l1.2 .2l1.2-.4l1.2 .6l1.3-.8l1.2 0l1.2-.3l1.2 .1l1.2 0l1.3-.1l1.2 .8l1.2 1l1.2 .2l1.2-.6l1.3 .2l1.2-.8l1.2 .2l1.2-.5l1.3 0l1.2 .7l1.2 .8l1.2 .4l1.2 .2l1.3-.2l1.2-.7l1.2-.4l1.2-.1l1.2 .3l1.3 0l1.2 .4l1.2 1.1l1.2 1.5l1.3 .1l1.2-.8l1.2 0l1.2-2.1l1.2-2.1l1.3 0l1.2 .7l1.2 1.9l1.2 2.6l1.2 2.6l1.3 .4l1.2-.3l1.2-3.6l1.2-3.4l1.2-2.4l1.3-.6l1.2 2.2l1.2 3.6l1.2 4.8l1.3 2.8l1.2 .5l1.2-2.9l1.2-5l1.2-4.4l1.3-3l1.2 .8l1.2 3.7l1.2 5.6l1.2 5l1.3 3.5l1.2-1.8l1.2-5.1l1.2-6.5l1.3-5.4l1.2-1.1l1.2 2l1.2 5.5l1.2 6.9l1.3 5.6l1.2 1.4l1.2-3.1l1.2-6.2l1.2-7.5l1.3-5.1l1.2-.2l1.2 3.7l1.2 8.4l1.3 6.6l1.2 3.9l1.2 0l1.2-5.1l1.2-7.1l1.3-6.6l1.2-3.9l1.2 .7l1.2 6.7l1.2 7.5l1.3 6.9l1.2 2.5l1.2-2.1l1.2-6.4l1.3-7.2l1.2-6.6l1.2-1.6l1.2 3.3l1.2 6.6l1.3 7.5l1.2 4.7l1.2 .4l1.2-2.9l1.2-6.2l1.3-6.9l1.2-4l1.2 .1l1.2 4.3l1.3 5.7l1.2 5.5l1.2 3.2l1.2-.6l1.2-3.9l1.3-5.8l1.2-5.1l1.2-1.8l1.2 1.2l1.2 4.4l1.3 4.6l1.2 4.6l1.2 .8l1.2-1.8l1.2-3.8l1.3-4.1l1.2-2.6l1.2-.5l1.2 1.9l1.3 3.3l1.2 3.5l1.2 1.8l1.2 0l1.2-1.8l1.3-3l1.2-1.9l1.2-1.4l1.2 .1l1.2 1.5l1.3 2.4l1.2 1l1.2 .6l1.2-1.2l1.3-1l1.2-.9l1.2-.1l1.2 .1l1.2 .3l1.3 .8l1.2 .5l1.2-.1l1.2 .5l1.2-.2l1.3-.8l1.2-.4l1.2-.5l1.2 .4l1.3 .3l1.2 1l1.2-.7l1.2 .4l1.2 .1l1.3-.8l1.2-.8l1.2-.2l1.2 .2l1.2 0l1.3 .4l1.2 1.1l1.2 .3l1.2-.3l1.3-.8l1.2-.6l1.2-.1l1.2-.7l1.2 .2l1.3 .6l1.2 .7l1.2 .4l1.2-.1l1.2-.5l1.3-.3l1.2 .1l1.2-.5l1.2-.8l1.3 .4l1.2 .7l1.2 0l1.2 .1l1.2 .2l1.3-.1l1.2-.8l1.2 0l1.2-.4l1.2 .1l1.3-.6l1.2 .3l1.2 1.1l1.2 .1l1.2-.1l1.3-.5l1.2-.6l1.2-.4l1.2 0l1.3 .1l1.2 .5l1.2 .9l1.2-.3l1.2 .3l1.3-.5l1.2-.4l1.2-.3l1.2-.6l1.2-.4l1.3 .2l1.2 .7l1.2 .4l1.2-.1l1.3 .1l1.2-.4l1.2-.3l1.2-.9l1.2-.2l1.3-.7l1.2 1.1l1.2 .5l1.2-.3l1.2 .7l1.3 .1l1.2-.8l1.2 .3l1.2-1.4l1.3-.1l1.2-.1l1.2 .7l1.2-.2l1.2 .6l1.3 .2l1.2-.3l1.2-.2l1.2-.7l1.2-.1l1.3-.3l1.2-.2l1.2 .4l1.2 .2l1.3 .7l1.2-.2l1.2-.1l1.2-.9l1.2-.7l1.3-.4l1.2 0l1.2 .7l1.2 .1l1.2 .8l1.3 .4l1.2-.8l1.2-.4l1.2-.7l1.3-.6l1.2 .4l1.2-.1l1.2 .1l1.2 .4l1.3 .2l1.2 .6l1.2-.6l1.2-.7l1.2-1l1.3 .5l1.2-1l1.2 .7l1.2 .7l1.2-.4l1.3 1l1.2 0l1.2-.9l1.2-.7l1.3-.2l1.2-.2l1.2 .2l1.2-.2l1.2 1.1l1.3 .2l1.2-.6l1.2 0l1.2-.7l1.2-.3l1.3 0l1.2-.8l1.2 .8l1.2-.4l1.3 .2l1.2 1l1.2-.5l1.2 0l1.2-.4l1.3-.1l1.2-.9l1.2-.5l1.2 1l1.2 0l1.3 .5l1.2 .5l1.2-.8l1.2-.1l1.3-.5l1.2-.9l1.2 .2l1.2-1.2l1.2 1.4l1.3 .6l1.2-.1l1.2 .2l1.2 .2l1.2-.4l1.3-1.1l1.2-.3l1.2-.3l1.2 0l1.3 .8l1.2-.1l1.2 .7l1.2-.2l1.2 .2l1.3-1l1.2-.4l1.2-1l1.2 .6l1.2-.3l1.3 .7l1.2 .2l1.2 .6l1.2-.1l1.3 .4l1.2-.8l1.2-1.2l1.2-.1l1.2-.1l1.3 .6l1.2 .2l1.2 .7l1.2 .1l1.2-.6l1.3-.3l1.2-.1l1.2-.6l1.2-.3l1.2 .3l1.3 .3l1.2 .8l1.2-.2l1.2 .6l1.3-.3l1.2-1.2l1.2-.7l1.2-.3l1.2 .3l1.3 .6l1.2 0l1.2 .2l1.2 .7l1.2 .1l1.3 .1l1.2-.6l1.2-1.5l1.2 .7l1.3-.2l1.2 .3l1.2 .3l1.2 .9l1.2-.4l1.3-.2l1.2-.2l1.2-.3l1.2-.5l1.2 .3l1.3-.6l1.2 .8l1.2 .7l1.2 0l1.3-.1l1.2-.2l1.2-.6l1.2-.6l1.2 .1l1.3-.2l1.2 .3l1.2 .9l1.2-.2l1.2 .7l1.3-.2l1.2-.4l1.2-.2l1.2-.9l1.3-.3l1.2 .4l1.2 1.3l1.2-.8l1.2 .9l1.3 .3l1.2-.1l1.2-.3l1.2-.7l1.2-.7l1.3 .4l1.2-.1l1.2 .7l1.2 .4l1.3 .4l1.2-.1l1.2-.5l1.2-.1l1.2-.8l1.3-.4l1.2 .8l1.2-.3l1.2 .8l1.2 .5l1.3-.1l1.2 .4l1.2-.2l1.2-1.1l1.2-.3l1.3 0l1.2-.6l1.2 1.6l1.2 .7l1.3 0l1.2 .5l1.2-.6l1.2-.1l1.2-.5l1.3-.5l1.2 .2l1.2 .6l1.2 .1l1.2 .1l1.3 .6l1.2-.2l1.2-.4l1.2-.2l1.3-.2l1.2 0l1.2-.3l1.2 0l1.2 .6l1.3 .7l1.2 .8l1.2-.5l1.2-.3l1.2-.6l1.3 .3l1.2-.3l1.2 0l1.2 .4l1.3 .8l1.2 .1l1.2 .5l1.2-.6l1.2 .1l1.3-.6l1.2 .3l1.2-.7l1.2 .6l1.2 .1l1.3 .8l1.2 0l1.2 .6l1.2 0l1.3-.9l1.2-.5l1.2 .2l1.2 .2l1.2-.2l1.3 .5l1.2 .6l1.2 .5l1.2 0l1.2-.8l1.3-.2l1.2 .2l1.2-.1l1.2-.3l1.3 .5l1.2 .9l1.2 .5l1.2-.3l1.2 .3l1.3-.7l1.2 .1l1.2-.3l1.2 .2l1.2-.2l1.3 .7l1.2 .9l1.2-.1l1.2 .2l1.2-.3l1.3-.9l1.2-.2l1.2-.1l1.2 .4l1.3 .6l1.2 .5l1.2 .4l1.2-.2l1.2 .6l1.3-.4l1.2-.6l1.2-.4l1.2-.3l1.2 .1l1.3 .9l1.2 0l1.2 .8l1.2 .7l1.3-.1l1.2-.6l1.2-.4l1.2-.6l1.2 .5l1.3 .1l1.2 .4l1.2 .1l1.2 1l1.2 .1l1.3 1l1.2 0l1.2-.6l1.2-1.1l1.3-2.1l1.2 0l1.2 .3l1.2 .8l1.2 1.5l1.3 2.9l1.2 .9l1.2 .4l1.2-2l1.2-2.1l1.3-3.5l1.2-1.5l1.2 1.4l1.2 1.9l1.3 3.3l1.2 3.8l1.2 1.5l1.2-1.4l1.2-3.3l1.3-4.2l1.2-2.9l1.2 .2l1.2 2.1l1.2 4.1l1.3 3.5l1.2 2l1.2 .6l1.2-3.3l1.3-3.7l1.2-3.3l1.2-.9l1.2 1.3l1.2 2.5l1.3 3.6l1.2 2.7l1.2 .4l1.2-1.2l1.2-3.5l1.3-2.2l1.2-1.4l1.2 .8l1.2 .8l1.2 2.6l1.3 1.4l1.2 1.1l1.2-1.1l1.2-.5l1.3-1.7l1.2-.5l1.2 .6l1.2 .3l1.2 1.1l1.3 .4l1.2-.4l1.2-.4l1.2 0l1.2-.9l1.3-.1l1.2 .3l1.2 .1l1.2 1.5l1.3-.4l1.2 .5l1.2 .1l1.2-.4l1.2-.8l1.3-.4l1.2 0l1.2 .8l1.2 .6l1.2 .1l1.3 .2l1.2 .5l1.2-.7l1.2-.3l1.3-.5l1.2 .1l1.2-.5l1.2 .4l1.2 .4l1.3 .8l1.2 .8l1.2-.6l1.2-.4l1.2-.2l1.3-.1l1.2-.7l1.2 .1l1.2 .9l1.3 .4l1.2 .7l1.2-.4l1.2-.1l1.2-.9l1.3 .3l1.2-1l1.2 .4l1.2 .1l1.2 .9l1.3 .1l1.2 .5l1.2 0l1.2-.4l1.3-.5l1.2-.6l1.2-.1l1.2 .3l1.2-.2l1.3 .7l1.2 .7l1.2-.3l1.2 .2l1.2-.5l1.3 .2l1.2-.7l1.2-1l1.2 .6l1.2 .4l1.3 .8l1.2 .2l1.2 0l1.2 0l1.3-.5l1.2 0l1.2-.7l1.2-.2l1.2 0l1.3 .4l1.2 .7l1.2 .5l1.2 0l1.2-.6l1.3 0l1.2-.9l1.2-.2l1.2-.1l1.3-.2l1.2 1l1.2 .1l1.2 0l1.2 .2l1.3-.2l1.2-.2l1.2-1.3l1.2 .6l1.2 .4l1.3-.6l1.2 1.3l1.2 .3l1.2-.1l1.3-.1l1.2-.2l1.2-1.2l1.2-.5l1.2-.2l1.3 .5l1.2 .5l1.2 .5l1.2-.3l1.2 .1l1.3 .1l1.2-.8l1.2-.1l1.2-.8l1.3 .5l1.2 0l1.2 .5l1.2 1.1l1.2-.8l1.3 0l1.2-.2l1.2-.5l1.2-.7l1.2-.2l1.3-.1l1.2 .5l1.2 .3l1.2 .4l1.3 .6l1.2-.3l1.2-1.1l1.2-.5l1.2-.3l1.3 .3l1.2 0l1.2 .5l1.2 0l1.2 .6l1.3 .1l1.2-.5l1.2-.9l1.2-.9l1.2 .3l1.3-.5l1.2 .8l1.2 .4l1.2 .5l1.3-.3l1.2 .1l1.2-.8l1.2-.2l1.2-1.1l1.3 .2l1.2 .1l1.2 .8l1.2-.3l1.2 .6l1.3 .1l1.2-.3l1.2-.4l1.2-.6l1.3-.6l1.2 .2l1.2 0l1.2-.3l1.2 1.1l1.3 .3l1.2-.4l1.2 .1l1.2-1.3l1.2-.1l1.3 0l1.2-.3l1.2 .5l1.2 0l1.3 .7l1.2-.2l1.2 .6l1.2-1l1.2-.8l1.3-.5l1.2-.1l1.2-.1l1.2 .4l1.2 .7l1.3 .2l1.2-.2l1.2-.1l1.2 .3l1.3-.9l1.2-.7l1.2-.5l1.2 .4l1.2 .3l1.3 .3l1.2 .3l1.2 .3l1.2-.9l1.2 .1l1.3-.6l1.2-.5l1.2 .5l1.2-.8l1.3 .2l1.2 1.1l1.2 .2l1.2 .3l1.2-1.3l1.3-.2l1.2-.3l1.2-.2l1.2-.2l1.2 .4l1.3 .4l1.2 .4l1.2 .4l1.2-1.3l1.2-.4l1.3-.1l1.2-.1l1.2-.2l1.2-.3l1.3 .5l1.2 .5l1.2-.1l1.2 .4l1.2-1l1.3-.2l1.2-.2l1.2-.7l1.2 .1l1.2 .6l1.3-.3l1.2 1.4l1.2-.5l1.2-.2l1.3-.2l1.2-.8l1.2-.8l1.2 .6l1.2 .1l1.3 .2l1.2 .2l1.2 .1l1.2 .1l1.2 .2l1.3-1.2l1.2-.4l1.2-.4l1.2 .7l1.3 .3l1.2 .1l1.2 .4l1.2 .1l1.2 .2l1.3-.4l1.2-1l1.2 .2l1.2-.5l1.2-.3l1.3 .2l1.2 .6l1.2 0l1.2 .4l1.3-.3l1.2-.5l1.2-.3l1.2 0l1.2-.5l1.3 .2l1.2 .6l1.2 0l1.2 .7l1.2 .3l1.3-.8l1.2-.2l1.2-1l1.2 .6l1.3-.2l1.2-.2l1.2 .4l1.2 .5l1.2-.3l1.3 .4l1.2-.3l1.2-.9l1.2-.1l1.2-.4l1.3-.2l1.2 .8l1.2 .5l1.2 .5l1.2-.1l1.3-.3l1.2-.6l1.2-.4l1.2-.8l1.3 .5l1.2 .2l1.2 .6l1.2 0l1.2 .7l1.3 .1l1.2 0l1.2-.9l1.2-.7l1.2 .7l1.3-.4l1.2 .3l1.2 .5l1.2 .2l1.3 .3l1.2-.2l1.2-.5l1.2-.8l1.2 .1l1.3-.4l1.2 .4l1.2 .3l1.2 .6l1.2 .7l1.3-.4l1.2-.4l1.2 .2l1.2-.8l1.3-.3l1.2 .6l1.2-.9l1.2 .6l1.2 .6l1.3 .4l1.2 .5l1.2 .2l1.2-1.2l1.2-.5l1.3-.1l1.2 .1l1.2 0l1.2 .6l1.3 .7l1.2 .4l1.2-.9l1.2 0l1.2-.2l1.3 0l1.2-.1l1.2 .6l1.2-.3l1.2 .4l1.3 .6l1.2 0l1.2-.2l1.2-.6l1.3 .3l1.2-.5l1.2-.6l1.2 .5l1.2 .5l1.3 .9l1.2-.4l1.2 .4l1.2-.1l1.2-.3l1.3-.7l1.2-.2l1.2 .2l1.2-.1l1.2 .7l1.3 .8l1.2 .4l1.2-.1l1.2-.6l1.3 .5l1.2-1.3l1.2 .1l1.2-.5l1.2 1l1.3 .8l1.2 .3l1.2 .4l1.2-.2l1.2-.6l1.3 .1l1.2-.8l1.2 .5l1.2 .1l1.3 .5l1.2 .2l1.2 0l1.2 .1l1.2 .3l1.3-.5l1.2-.5l1.2-.2l1.2-.1l1.2 .6l1.3 .7l1.2 0l1.2 .5l1.2-.4l1.3 .2l1.2-.6l1.2-.2l1.2 0l1.2 .6l1.3 .1l1.2 1.1l1.2-.1l1.2-.3l1.2 0l1.3-.1l1.2-.3l1.2-.5l1.2 .6l1.3 .4l1.2 .6l1.2 0l1.2 .9l1.2-.6l1.3-.4l1.2-.3l1.2-.2l1.2-.2l1.2 .6l1.3 .1l1.2 .1l1.2 .6l1.2 1.1l1.3-.5l1.2-.3l1.2-.8l1.2-.1l1.2 .1l1.3 .4l1.2 .3l1.2 .7l1.2 .3l1.2 .2l1.3 .1l1.2-.9l1.2-.4l1.2-.1l1.2 0l1.3 .1l1.2 .7l1.2 .3l1.2 .6l1.3 0l1.2-.1l1.2-.1l1.2-.3l1.2-.6l1.3 .3l1.2 .3l1.2 1.5l1.2-.2l1.2 .2l1.3 0l1.2-.4l1.2 0l1.2-.8l1.3-.4l1.2 1l1.2 .1l1.2 .9l1.2 .1l1.3-.2l1.2 .2l1.2-.6l1.2-.4l1.2-.1l1.3-.3l1.2 1.4l1.2 .1l1.2 1l1.3 .2l1.2-.5l1.2 0l1.2-.6l1.2-.9l1.3 .1l1.2-.8l1.2 1.7l1.2 .5l1.2 1.2l1.3-.6l1.2 0l1.2-.6l1.2-.3l1.3-.1l1.2 .3l1.2-.5l1.2 1l1.2 .9l1.3-.3l1.2 .8l1.2-.7l1.2 0l1.2-.9l1.3 .2l1.2-1.3l1.2 .9l1.2 .8l1.3 .5l1.2 .2l1.2-.1l1.2-.2l1.2 0l1.3-.8l1.2 .4l1.2-.1l1.2 .2l1.2 1l1.3 0l1.2 .4l1.2-1l1.2 .4l1.2-.7l1.3-.4l1.2 .1l1.2 .3l1.2 .7l1.3 .4l1.2 .3l1.2-.2l1.2-.4l1.2-.1l1.3-.8l1.2 .2l1.2 .3l1.2 .3l1.2 .5l1.3 .4l1.2 .1l1.2-.1l1.2-.7l1.3-.3l1.2-.1l1.2-.4l1.2 .4l1.2 .2l1.3 .4l1.2 .8l1.2-.2l1.2-.4l1.2-.1l1.3-.1l1.2-.6l1.2 .2l1.2-.3l1.3 .8l1.2 .4l1.2-.1l1.2 .3l1.2-.1l1.3 0l1.2-.8l1.2-.2l1.2-.1l1.2 .7l1.3 0l1.2 .2l1.2 .7l1.2 .2l1.3-.9l1.2-.4l1.2-.8l1.2 .2l1.2 .4l1.3 .6l1.2 .1l1.2 1l1.2-.3l1.2-.8l1.3-.2l1.2-.5l1.2-.3l1.2 .3l1.3 0l1.2 .2l1.2 .4l1.2 .8l1.2-.4l1.3-.6l1.2-.3l1.2-.9l1.2 .2l1.2 .6l1.3-.2l1.2 .5l1.2 .2l1.2 .2l1.2-.5l1.3-.2l1.2-.4l1.2-.2l1.2-.2l1.3-.3l1.2 .2l1.2 1l1.2 .3l1.2 .2l1.3-.5l1.2-.4l1.2-.4l1.2-.7l1.2 .5l1.3-.1l1.2 .4l1.2 .3l1.2 .5l1.3 .1l1.2-.6l1.2-.3l1.2-.7l1.2-.1l1.3-.9l1.2 1.7l1.2 .2l1.2-.4l1.2 .5l1.3 .2l1.2-1.1l1.2-1l1.2 .2l1.3-.4l1.2 .8l1.2 .2l1.2 .2l1.2 .3l1.3 .2l1.2-.3l1.2-.6l1.2-.5l1.2-.4l1.3 0l1.2-.1l1.2 1l1.2-.2l1.3-.1l1.2 .3l1.2-.2l1.2-.5l1.2-.6l1.3-.1l1.2-.3l1.2 .4l1.2 .2l1.2 .5l1.3-.1l1.2-.5l1.2-.3l1.2-1.1l1.3 0l1.2 .3l1.2-.1l1.2 .3l1.2 .6l1.3 .1l1.2 0l1.2-.6l1.2-.1l1.2-.3l1.3-.5l1.2 .4l1.2 .5l1.2-.1l1.2 .3l1.3 .2l1.2-.7l1.2 .2l1.2-.5l1.3-1.5l1.2 .8l1.2-.6l1.2 .6l1.2 1.1l1.3-.7l1.2 .4l1.2-.4l1.2-.5l1.2-.6l1.3-.6l1.2-.5l1.2 .7l1.2 .5l1.3 .1l1.2 .4l1.2 .8l1.2-1.2l1.2-.4l1.3-.5l1.2 0l1.2-1.1l1.2 .7l1.2 .7l1.3 .4l1.2 .1l1.2-.2l1.2-.7l1.3-.5l1.2-.2l1.2-.3l1.2-.2l1.2 .8l1.3 .3l1.2-.1l1.2 .3l1.2-.7l1.2 .2l1.3-.7l1.2-.4l1.2-.1l1.2-.3l1.3 .4l1.2 .7l1.2 .3l1.2-.7l1.2-.3l1.3 .5l1.2-1.1l1.2 .2l1.2-.1l1.2 0l1.3 .6l1.2-.1l1.2 .4l1.2-.2l1.3-.5l1.2-1.2l1.2 0l1.2-.4l1.2 .2l1.3 .2l1.2 .8l1.2 .3l1.2-.3l1.2 0l1.3 0l1.2-.6l1.2-.7l1.2-.3l1.2 .5l1.3-.2l1.2 .7l1.2 .5l1.2 .2l1.3-1l1.2-.5l1.2 0l1.2-1l1.2 .1l1.3 .2l1.2 .9l1.2 .1l1.2 1l1.2-.9l1.3-.2l1.2-.6l1.2-.6l1.2 .1l1.3 0l1.2 .7l1.2 .4l1.2 .4l1.2-.4l1.3-.6l1.2 .2l1.2-.4l1.2-.7l1.2-.3l1.3 .3l1.2 .9l1.2 .1l1.2 .5l1.3-.2l1.2-.4l1.2-.5l1.2-.7l1.2 0l1.3-.5l1.2 .7l1.2 .9l1.2-.2l1.2 .1l1.3 0l1.2-.3l1.2-.6l1.2-.6l1.3 .1l1.2-.1l1.2 .9l1.2 .2l1.2 .7l1.3-.3l1.2-.4l1.2-.1l1.2-.8l1.2 .4l1.3-.6l1.2 .4l1.2 .2l1.2 .6l1.3 0l1.2-.3l1.2 .1l1.2-.7l1.2-.7l1.3 0l1.2 .1l1.2 .8"/>
</g>
<g font-family="'Liberation Serif', 'Times New Roman', serif" font-size="90" fill="#000">
<g text-anchor="end">
<text x="217.0" y="1929.9">1</text>
<text x="217.0" y="2128.3">0</text>
<text x="217.0" y="2326.8">-1</text>
<text x="217.0" y="2525.2">-2</text>
<text x="217.0" y="2723.7">-3</text>
<text x="217.0" y="2922.1">-4</text>
<text x="217.0" y="3120.6">-5</text>
<text x="217.0" y="3319.0">-6</text>
</g><g text-anchor="middle">
<text x="249.0" y="3401.3">0</text>
<text x="554.3" y="3401.3">5</text>
<text x="859.7" y="3401.3">10</text>
<text x="1165.0" y="3401.3">15</text>
<text x="1470.3" y="3401.3">20</text>
<text x="1775.7" y="3401.3">25</text>
<text x="2081.0" y="3401.3">30</text>
</g></g>
<text font-family="'Liberation Serif', 'Times New Roman', serif" font-size="100" text-anchor="middle" x="1166.0" y="3518.2">Time (Second)</text>
<text font-family="'Liberation Serif', 'Times New Roman', serif" font-size="99.3" text-anchor="middle" transform="translate(106.2 2592.4) rotate(-90)">Control signal (V)</text>
<rect x="1602.0" y="1945.2" width="435.0" height="299.7" fill="#fff" stroke="#262626" stroke-width="2.9"/>
<g fill="none" stroke-width="6">
<path stroke="#0000ff" stroke-dasharray="41 26" d="M1619.0 1999.4H1789.5"/>
<path stroke="#000" stroke-dasharray="33.5 13 8 13" d="M1619.0 2094.6H1789.5"/>
<path stroke="#ff0000" d="M1619.0 2189.7H1789.5"/>
</g>
<g font-family="'Liberation Serif', 'Times New Roman', serif" font-size="83" fill="#000" letter-spacing="-1">
<text x="1800.5" y="2028.2">Joint 1</text>
<text x="1800.5" y="2122.0">Joint 2</text>
<text x="1800.5" y="2217.2">Joint 3</text>
</g>
</g>
<text font-family="'Liberation Serif', 'Times New Roman', serif" font-size="78" text-anchor="middle" x="990.5" y="1805.5">(<tspan font-weight="bold">a</tspan>)</text>
<text font-family="'Liberation Serif', 'Times New Roman', serif" font-size="78" text-anchor="middle" x="989.3" y="3626.5">(<tspan font-weight="bold">b</tspan>)</text>
</svg></body></html>
